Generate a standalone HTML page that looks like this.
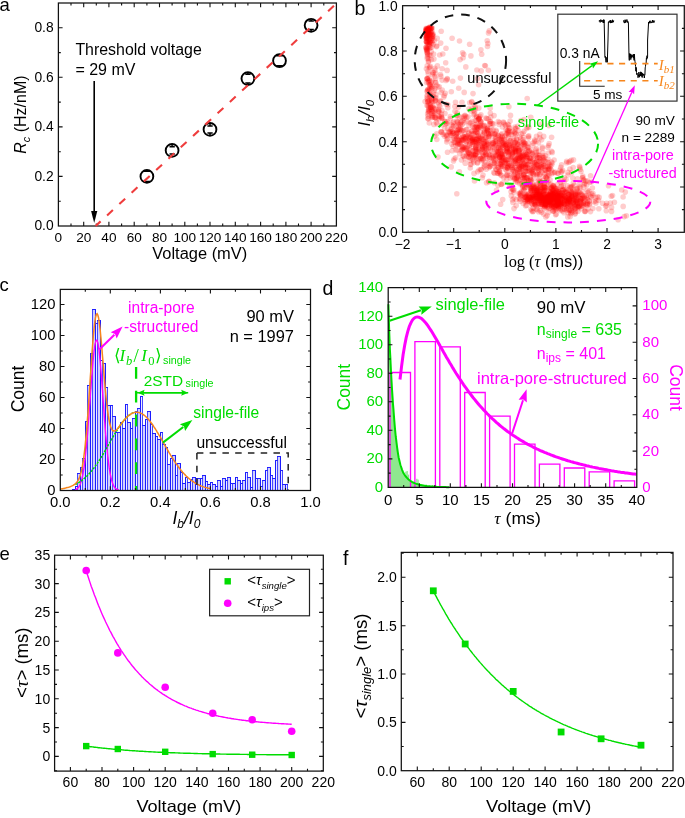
<!DOCTYPE html>
<html><head><meta charset="utf-8"><style>html,body{margin:0;padding:0;background:#fff;}svg{display:block;will-change:transform;}</style></head><body>
<svg width="685" height="818" viewBox="0 0 685 818" font-family="Liberation Sans, sans-serif">
<rect width="685" height="818" fill="#fff"/>
<text x="-0.6" y="11.2" font-size="18.5">a</text>
<rect x="58.4" y="3" width="278" height="223" fill="none" stroke="#111" stroke-width="1.25"/>
<path d="M83.7 226v-4.2M83.7 3v4.2M108.9 226v-4.2M108.9 3v4.2M134.2 226v-4.2M134.2 3v4.2M159.5 226v-4.2M159.5 3v4.2M184.8 226v-4.2M184.8 3v4.2M210 226v-4.2M210 3v4.2M235.3 226v-4.2M235.3 3v4.2M260.6 226v-4.2M260.6 3v4.2M285.9 226v-4.2M285.9 3v4.2M311.1 226v-4.2M311.1 3v4.2" stroke="#111" stroke-width="1.1" fill="none"/>
<path d="M71 226v-2.4M71 3v2.4M96.3 226v-2.4M96.3 3v2.4M121.6 226v-2.4M121.6 3v2.4M146.9 226v-2.4M146.9 3v2.4M172.1 226v-2.4M172.1 3v2.4M197.4 226v-2.4M197.4 3v2.4M222.7 226v-2.4M222.7 3v2.4M247.9 226v-2.4M247.9 3v2.4M273.2 226v-2.4M273.2 3v2.4M298.5 226v-2.4M298.5 3v2.4M323.8 226v-2.4M323.8 3v2.4" stroke="#111" stroke-width="1.1" fill="none"/>
<path d="M58.4 176.4h4.2M336.4 176.4h-4.2M58.4 126.9h4.2M336.4 126.9h-4.2M58.4 77.3h4.2M336.4 77.3h-4.2M58.4 27.8h4.2M336.4 27.8h-4.2" stroke="#111" stroke-width="1.1" fill="none"/>
<path d="M58.4 201.2h2.4M336.4 201.2h-2.4M58.4 151.7h2.4M336.4 151.7h-2.4M58.4 102.1h2.4M336.4 102.1h-2.4M58.4 52.6h2.4M336.4 52.6h-2.4" stroke="#111" stroke-width="1.1" fill="none"/>
<text x="58.4" y="241.8" font-size="13.6" text-anchor="middle">0</text>
<text x="83.7" y="241.8" font-size="13.6" text-anchor="middle">20</text>
<text x="108.9" y="241.8" font-size="13.6" text-anchor="middle">40</text>
<text x="134.2" y="241.8" font-size="13.6" text-anchor="middle">60</text>
<text x="159.5" y="241.8" font-size="13.6" text-anchor="middle">80</text>
<text x="184.8" y="241.8" font-size="13.6" text-anchor="middle">100</text>
<text x="210" y="241.8" font-size="13.6" text-anchor="middle">120</text>
<text x="235.3" y="241.8" font-size="13.6" text-anchor="middle">140</text>
<text x="260.6" y="241.8" font-size="13.6" text-anchor="middle">160</text>
<text x="285.9" y="241.8" font-size="13.6" text-anchor="middle">180</text>
<text x="311.1" y="241.8" font-size="13.6" text-anchor="middle">200</text>
<text x="336.4" y="241.8" font-size="13.6" text-anchor="middle">220</text>
<text x="53.6" y="230.3" font-size="13.8" text-anchor="end">0.0</text>
<text x="53.6" y="180.7" font-size="13.8" text-anchor="end">0.2</text>
<text x="53.6" y="131.2" font-size="13.8" text-anchor="end">0.4</text>
<text x="53.6" y="81.6" font-size="13.8" text-anchor="end">0.6</text>
<text x="53.6" y="32.1" font-size="13.8" text-anchor="end">0.8</text>
<text x="152.3" y="258.9" font-size="16" textLength="94.9" lengthAdjust="spacingAndGlyphs">Voltage (mV)</text>
<text transform="translate(26.3 153.8) rotate(-90)" font-size="16"><tspan font-style="italic">R</tspan><tspan font-size="11" font-style="italic" dy="3.5">c</tspan><tspan dy="-3.5"> (Hz/nM)</tspan></text>
<text x="75.4" y="54.9" font-size="16" textLength="126.4" lengthAdjust="spacingAndGlyphs">Threshold voltage</text>
<text x="75.4" y="74.9" font-size="16">= 29 mV</text>
<line x1="94.2" y1="81" x2="94.2" y2="212" stroke="#000" stroke-width="1.6"/>
<path d="M94.2 223L91.1 211.1H97.3Z" fill="#000"/>
<circle cx="146.9" cy="176.4" r="6.4" fill="none" stroke="#000" stroke-width="1.9"/>
<path d="M143.7 171.1h6.4M143.7 181.7h6.4" stroke="#000" stroke-width="2"/>
<circle cx="172.1" cy="150.4" r="6.4" fill="none" stroke="#000" stroke-width="1.9"/>
<path d="M169.5 146.7h5.3M169.5 154.1h5.3M172.1 146.7V144.6M172.1 154.1V156.2" stroke="#000" stroke-width="1.5"/>
<circle cx="210" cy="129.4" r="6.4" fill="none" stroke="#000" stroke-width="1.9"/>
<path d="M207.4 125.9h5.3M207.4 132.9h5.3M210 125.9V123.6M210 132.9V135.2" stroke="#000" stroke-width="1.5"/>
<circle cx="247.9" cy="78.6" r="6.4" fill="none" stroke="#000" stroke-width="1.9"/>
<path d="M245.3 74.3h5.3M245.3 82.9h5.3M247.9 74.3V72.8M247.9 82.9V84.4" stroke="#000" stroke-width="1.5"/>
<circle cx="279.5" cy="60.7" r="6.4" fill="none" stroke="#000" stroke-width="1.9"/>
<path d="M276.3 55.4h6.4M276.3 66h6.4" stroke="#000" stroke-width="2"/>
<circle cx="311.1" cy="25.3" r="6.4" fill="none" stroke="#000" stroke-width="1.9"/>
<path d="M308.5 21.1h5.3M308.5 29.5h5.3M311.1 21.1V19.5M311.1 29.5V31.1" stroke="#000" stroke-width="1.5"/>
<line x1="95.6" y1="226" x2="336.4" y2="3.5" stroke="#ef3d3d" stroke-width="2.1" stroke-dasharray="7.9 8.82" stroke-dashoffset="1.1"/>
<text x="354.6" y="14.8" font-size="19.5">b</text>
<g fill="#ff0000" fill-opacity="0.2"><circle cx="427.8" cy="29.8" r="2.8"/><circle cx="427" cy="29.5" r="2.8"/><circle cx="426.5" cy="36.7" r="2.8"/><circle cx="427.4" cy="38.6" r="2.8"/><circle cx="426.7" cy="37.8" r="2.8"/><circle cx="426.4" cy="31.3" r="2.8"/><circle cx="429.3" cy="44.2" r="2.8"/><circle cx="427.8" cy="32.4" r="2.8"/><circle cx="433.2" cy="44.5" r="2.8"/><circle cx="427.6" cy="36.3" r="2.8"/><circle cx="425.8" cy="30.3" r="2.8"/><circle cx="428.4" cy="32.5" r="2.8"/><circle cx="427.3" cy="30.4" r="2.8"/><circle cx="433.1" cy="34" r="2.8"/><circle cx="430.8" cy="32.9" r="2.8"/><circle cx="428.8" cy="33.6" r="2.8"/><circle cx="426.1" cy="30.7" r="2.8"/><circle cx="426.7" cy="33.7" r="2.8"/><circle cx="429.8" cy="31.8" r="2.8"/><circle cx="430.9" cy="32.5" r="2.8"/><circle cx="426.7" cy="35.5" r="2.8"/><circle cx="432.1" cy="31.6" r="2.8"/><circle cx="431.3" cy="27.7" r="2.8"/><circle cx="427" cy="47.8" r="2.8"/><circle cx="429.1" cy="28.3" r="2.8"/><circle cx="425.9" cy="32.3" r="2.8"/><circle cx="429.2" cy="42.2" r="2.8"/><circle cx="429.7" cy="34.1" r="2.8"/><circle cx="427.2" cy="41.9" r="2.8"/><circle cx="431.2" cy="28.4" r="2.8"/><circle cx="428.3" cy="33.5" r="2.8"/><circle cx="431.1" cy="31.8" r="2.8"/><circle cx="427.9" cy="37.1" r="2.8"/><circle cx="434.4" cy="40.4" r="2.8"/><circle cx="426.6" cy="42.1" r="2.8"/><circle cx="428.1" cy="41.9" r="2.8"/><circle cx="436.5" cy="46.6" r="2.8"/><circle cx="428.8" cy="30.9" r="2.8"/><circle cx="429.8" cy="38.6" r="2.8"/><circle cx="426.3" cy="38.5" r="2.8"/><circle cx="427.5" cy="29.7" r="2.8"/><circle cx="428.3" cy="43.5" r="2.8"/><circle cx="428" cy="32.5" r="2.8"/><circle cx="431.2" cy="43.2" r="2.8"/><circle cx="427.9" cy="37" r="2.8"/><circle cx="428.3" cy="47.4" r="2.8"/><circle cx="433.5" cy="35.8" r="2.8"/><circle cx="430" cy="29.1" r="2.8"/><circle cx="432.6" cy="40.6" r="2.8"/><circle cx="426.2" cy="32.9" r="2.8"/><circle cx="428.4" cy="30.5" r="2.8"/><circle cx="430.6" cy="28.5" r="2.8"/><circle cx="427.4" cy="34" r="2.8"/><circle cx="425.7" cy="37.8" r="2.8"/><circle cx="429.7" cy="36.2" r="2.8"/><circle cx="427.5" cy="42.2" r="2.8"/><circle cx="426.2" cy="41.3" r="2.8"/><circle cx="426.9" cy="28.7" r="2.8"/><circle cx="430.1" cy="41.6" r="2.8"/><circle cx="431.1" cy="40.1" r="2.8"/><circle cx="428.3" cy="35.3" r="2.8"/><circle cx="429.3" cy="38.7" r="2.8"/><circle cx="426.2" cy="30.7" r="2.8"/><circle cx="428.1" cy="28.8" r="2.8"/><circle cx="426.8" cy="29" r="2.8"/><circle cx="425.6" cy="33.1" r="2.8"/><circle cx="428.1" cy="35" r="2.8"/><circle cx="427" cy="47.7" r="2.8"/><circle cx="427.2" cy="31.6" r="2.8"/><circle cx="429.6" cy="27.4" r="2.8"/><circle cx="427.3" cy="30.7" r="2.8"/><circle cx="436.7" cy="46" r="2.8"/><circle cx="426.7" cy="38.7" r="2.8"/><circle cx="426.6" cy="31.3" r="2.8"/><circle cx="428.4" cy="31.6" r="2.8"/><circle cx="427.9" cy="30.1" r="2.8"/><circle cx="427.1" cy="52" r="2.8"/><circle cx="426" cy="32.9" r="2.8"/><circle cx="425.9" cy="29.5" r="2.8"/><circle cx="427.7" cy="55" r="2.8"/><circle cx="430.7" cy="37.5" r="2.8"/><circle cx="429.7" cy="27.9" r="2.8"/><circle cx="432.1" cy="36" r="2.8"/><circle cx="427.1" cy="44.6" r="2.8"/><circle cx="428.3" cy="30.7" r="2.8"/><circle cx="437.2" cy="38.4" r="2.8"/><circle cx="431.9" cy="38.3" r="2.8"/><circle cx="432.1" cy="34.2" r="2.8"/><circle cx="430.8" cy="29" r="2.8"/><circle cx="426.4" cy="28.7" r="2.8"/><circle cx="426.2" cy="35.4" r="2.8"/><circle cx="432.3" cy="28.1" r="2.8"/><circle cx="426.9" cy="37.9" r="2.8"/><circle cx="430.6" cy="55.2" r="2.8"/><circle cx="426.7" cy="36.6" r="2.8"/><circle cx="428.7" cy="28.6" r="2.8"/><circle cx="428.4" cy="29.5" r="2.8"/><circle cx="432.2" cy="42.8" r="2.8"/><circle cx="429.8" cy="33.5" r="2.8"/><circle cx="432" cy="37.7" r="2.8"/><circle cx="428.8" cy="40.1" r="2.8"/><circle cx="429.7" cy="42.2" r="2.8"/><circle cx="430.5" cy="27.2" r="2.8"/><circle cx="432.5" cy="35" r="2.8"/><circle cx="432.4" cy="36.3" r="2.8"/><circle cx="426.4" cy="37.3" r="2.8"/><circle cx="431.7" cy="47.3" r="2.8"/><circle cx="428.2" cy="28.2" r="2.8"/><circle cx="427.4" cy="31.3" r="2.8"/><circle cx="430" cy="42.5" r="2.8"/><circle cx="432.1" cy="38.8" r="2.8"/><circle cx="426.4" cy="42" r="2.8"/><circle cx="430" cy="34.8" r="2.8"/><circle cx="426.1" cy="28.4" r="2.8"/><circle cx="426.7" cy="41.7" r="2.8"/><circle cx="427.3" cy="50.6" r="2.8"/><circle cx="429.2" cy="46.1" r="2.8"/><circle cx="428.2" cy="30.5" r="2.8"/><circle cx="429.2" cy="27.3" r="2.8"/><circle cx="431.4" cy="28" r="2.8"/><circle cx="429.4" cy="100.2" r="2.8"/><circle cx="427.1" cy="53" r="2.8"/><circle cx="433.4" cy="93.3" r="2.8"/><circle cx="427.5" cy="53.4" r="2.8"/><circle cx="432" cy="88.5" r="2.8"/><circle cx="429.5" cy="80.4" r="2.8"/><circle cx="432" cy="81" r="2.8"/><circle cx="427.8" cy="105.7" r="2.8"/><circle cx="428.5" cy="118.7" r="2.8"/><circle cx="429.6" cy="84.7" r="2.8"/><circle cx="430.4" cy="66.4" r="2.8"/><circle cx="428.1" cy="81.4" r="2.8"/><circle cx="427" cy="78.7" r="2.8"/><circle cx="428.8" cy="78.4" r="2.8"/><circle cx="428.5" cy="101" r="2.8"/><circle cx="435.2" cy="82.2" r="2.8"/><circle cx="427.2" cy="78.3" r="2.8"/><circle cx="437.9" cy="86.9" r="2.8"/><circle cx="432.5" cy="74.6" r="2.8"/><circle cx="426.4" cy="68.8" r="2.8"/><circle cx="432.4" cy="86.2" r="2.8"/><circle cx="426.9" cy="50.7" r="2.8"/><circle cx="434.9" cy="68.3" r="2.8"/><circle cx="435.6" cy="100.2" r="2.8"/><circle cx="435.6" cy="78.4" r="2.8"/><circle cx="430.7" cy="109.1" r="2.8"/><circle cx="429.2" cy="110.2" r="2.8"/><circle cx="427.8" cy="101.6" r="2.8"/><circle cx="431.7" cy="113.7" r="2.8"/><circle cx="433.6" cy="54" r="2.8"/><circle cx="428.8" cy="107.8" r="2.8"/><circle cx="434.6" cy="108.6" r="2.8"/><circle cx="429.3" cy="55" r="2.8"/><circle cx="426.4" cy="49.9" r="2.8"/><circle cx="442.2" cy="90.1" r="2.8"/><circle cx="427.2" cy="58.6" r="2.8"/><circle cx="432.8" cy="107.3" r="2.8"/><circle cx="429.5" cy="94.4" r="2.8"/><circle cx="430.6" cy="104.8" r="2.8"/><circle cx="435" cy="117.6" r="2.8"/><circle cx="427.4" cy="78.8" r="2.8"/><circle cx="427.3" cy="95" r="2.8"/><circle cx="428.2" cy="73.8" r="2.8"/><circle cx="425.8" cy="47.6" r="2.8"/><circle cx="428.4" cy="61.8" r="2.8"/><circle cx="427.5" cy="99.7" r="2.8"/><circle cx="428.2" cy="116.1" r="2.8"/><circle cx="431.3" cy="109.6" r="2.8"/><circle cx="434.8" cy="88.4" r="2.8"/><circle cx="432" cy="100.2" r="2.8"/><circle cx="433.1" cy="108.2" r="2.8"/><circle cx="429.4" cy="68.2" r="2.8"/><circle cx="434.7" cy="112.5" r="2.8"/><circle cx="429.5" cy="88.2" r="2.8"/><circle cx="434.1" cy="113.7" r="2.8"/><circle cx="428.7" cy="60.9" r="2.8"/><circle cx="428.6" cy="112.9" r="2.8"/><circle cx="427.4" cy="56.4" r="2.8"/><circle cx="430.1" cy="86.1" r="2.8"/><circle cx="431.2" cy="51.8" r="2.8"/><circle cx="431.3" cy="99.6" r="2.8"/><circle cx="431.6" cy="101.7" r="2.8"/><circle cx="428.2" cy="111.1" r="2.8"/><circle cx="428.6" cy="104.4" r="2.8"/><circle cx="429.9" cy="96.4" r="2.8"/><circle cx="435.1" cy="98" r="2.8"/><circle cx="428.6" cy="82.7" r="2.8"/><circle cx="431.8" cy="117.7" r="2.8"/><circle cx="435.3" cy="100.8" r="2.8"/><circle cx="427.3" cy="79" r="2.8"/><circle cx="439" cy="105.3" r="2.8"/><circle cx="429.2" cy="111.3" r="2.8"/><circle cx="431.4" cy="59.6" r="2.8"/><circle cx="428.4" cy="58.5" r="2.8"/><circle cx="434.6" cy="90.5" r="2.8"/><circle cx="426" cy="47.8" r="2.8"/><circle cx="430.8" cy="94.1" r="2.8"/><circle cx="433.3" cy="72.9" r="2.8"/><circle cx="427.7" cy="89.7" r="2.8"/><circle cx="428.7" cy="109.6" r="2.8"/><circle cx="427.6" cy="113.9" r="2.8"/><circle cx="431.2" cy="107.2" r="2.8"/><circle cx="433" cy="112.9" r="2.8"/><circle cx="434.9" cy="70.4" r="2.8"/><circle cx="427.2" cy="98.6" r="2.8"/><circle cx="430.9" cy="85.7" r="2.8"/><circle cx="431" cy="107.6" r="2.8"/><circle cx="427" cy="49.3" r="2.8"/><circle cx="429.3" cy="48.5" r="2.8"/><circle cx="426.8" cy="49" r="2.8"/><circle cx="427.1" cy="96.6" r="2.8"/><circle cx="427" cy="91.3" r="2.8"/><circle cx="430" cy="84.6" r="2.8"/><circle cx="426.6" cy="82.4" r="2.8"/><circle cx="427.7" cy="118.6" r="2.8"/><circle cx="429" cy="90" r="2.8"/><circle cx="431.8" cy="116" r="2.8"/><circle cx="427.7" cy="102.1" r="2.8"/><circle cx="434.8" cy="76.5" r="2.8"/><circle cx="427.8" cy="71.3" r="2.8"/><circle cx="429.8" cy="67.1" r="2.8"/><circle cx="430.4" cy="95.4" r="2.8"/><circle cx="430.5" cy="47.6" r="2.8"/><circle cx="432.9" cy="72.4" r="2.8"/><circle cx="433" cy="115.8" r="2.8"/><circle cx="435.6" cy="73.5" r="2.8"/><circle cx="427.2" cy="65.8" r="2.8"/><circle cx="429.1" cy="81" r="2.8"/><circle cx="431.3" cy="82.4" r="2.8"/><circle cx="433.9" cy="59.1" r="2.8"/><circle cx="460.1" cy="59.6" r="2.8"/><circle cx="485.4" cy="65.7" r="2.8"/><circle cx="463.1" cy="57.7" r="2.8"/><circle cx="445.7" cy="62.7" r="2.8"/><circle cx="469.6" cy="44.2" r="2.8"/><circle cx="440.9" cy="76.4" r="2.8"/><circle cx="440.7" cy="43.1" r="2.8"/><circle cx="473" cy="93.6" r="2.8"/><circle cx="488.5" cy="32.9" r="2.8"/><circle cx="470.9" cy="55.9" r="2.8"/><circle cx="444.3" cy="95.4" r="2.8"/><circle cx="464.2" cy="92.4" r="2.8"/><circle cx="446" cy="80.4" r="2.8"/><circle cx="437.4" cy="65.9" r="2.8"/><circle cx="459.5" cy="41" r="2.8"/><circle cx="463.7" cy="54.3" r="2.8"/><circle cx="462.6" cy="52.8" r="2.8"/><circle cx="460.4" cy="78.1" r="2.8"/><circle cx="489.3" cy="30.9" r="2.8"/><circle cx="480.9" cy="49.8" r="2.8"/><circle cx="452.7" cy="81.2" r="2.8"/><circle cx="451.3" cy="91.7" r="2.8"/><circle cx="476.9" cy="70" r="2.8"/><circle cx="481.2" cy="70.9" r="2.8"/><circle cx="487.2" cy="40.7" r="2.8"/><circle cx="435.8" cy="82.6" r="2.8"/><circle cx="484.7" cy="65.5" r="2.8"/><circle cx="488.4" cy="70.2" r="2.8"/><circle cx="439.7" cy="55" r="2.8"/><circle cx="477.6" cy="78.6" r="2.8"/><circle cx="440.5" cy="74.5" r="2.8"/><circle cx="487.5" cy="46.5" r="2.8"/><circle cx="442.1" cy="80.1" r="2.8"/><circle cx="441.2" cy="92.4" r="2.8"/><circle cx="478.6" cy="84.7" r="2.8"/><circle cx="465.8" cy="66.9" r="2.8"/><circle cx="446" cy="48.2" r="2.8"/><circle cx="442.8" cy="54" r="2.8"/><circle cx="442.1" cy="68.7" r="2.8"/><circle cx="447.2" cy="78.6" r="2.8"/><circle cx="487.9" cy="43.5" r="2.8"/><circle cx="452.1" cy="38.2" r="2.8"/><circle cx="447.1" cy="70.4" r="2.8"/><circle cx="481.7" cy="54.2" r="2.8"/><circle cx="441.2" cy="31.3" r="2.8"/><circle cx="447.3" cy="79.4" r="2.8"/><circle cx="449" cy="131.7" r="2.8"/><circle cx="446.8" cy="123.5" r="2.8"/><circle cx="432.5" cy="102" r="2.8"/><circle cx="444.6" cy="136.3" r="2.8"/><circle cx="443.1" cy="134.3" r="2.8"/><circle cx="432.8" cy="117.2" r="2.8"/><circle cx="436.4" cy="122.4" r="2.8"/><circle cx="432" cy="111" r="2.8"/><circle cx="431.8" cy="87.2" r="2.8"/><circle cx="434.7" cy="136.1" r="2.8"/><circle cx="438.6" cy="110.9" r="2.8"/><circle cx="447" cy="139.7" r="2.8"/><circle cx="447.5" cy="121.5" r="2.8"/><circle cx="436.4" cy="118.8" r="2.8"/><circle cx="445.2" cy="121.2" r="2.8"/><circle cx="433.9" cy="124.4" r="2.8"/><circle cx="445" cy="113.5" r="2.8"/><circle cx="439.4" cy="116.6" r="2.8"/><circle cx="454.8" cy="106.5" r="2.8"/><circle cx="456.7" cy="133.6" r="2.8"/><circle cx="453.9" cy="132.8" r="2.8"/><circle cx="439.3" cy="86.8" r="2.8"/><circle cx="433.6" cy="111.3" r="2.8"/><circle cx="444.8" cy="121.5" r="2.8"/><circle cx="441" cy="131.8" r="2.8"/><circle cx="447.9" cy="104.7" r="2.8"/><circle cx="442.2" cy="118.4" r="2.8"/><circle cx="438.7" cy="116.1" r="2.8"/><circle cx="432" cy="98.6" r="2.8"/><circle cx="456.8" cy="131.1" r="2.8"/><circle cx="456.8" cy="115.3" r="2.8"/><circle cx="449.9" cy="131.6" r="2.8"/><circle cx="427.5" cy="91.1" r="2.8"/><circle cx="441.5" cy="114" r="2.8"/><circle cx="438.8" cy="109.4" r="2.8"/><circle cx="447.8" cy="107.8" r="2.8"/><circle cx="436" cy="97.8" r="2.8"/><circle cx="427.9" cy="89.5" r="2.8"/><circle cx="453.2" cy="146.3" r="2.8"/><circle cx="456.5" cy="138.7" r="2.8"/><circle cx="453.6" cy="121.9" r="2.8"/><circle cx="441.2" cy="131.9" r="2.8"/><circle cx="446.2" cy="104.2" r="2.8"/><circle cx="429.9" cy="103.9" r="2.8"/><circle cx="436.8" cy="139.5" r="2.8"/><circle cx="434.8" cy="117.5" r="2.8"/><circle cx="441.6" cy="117.3" r="2.8"/><circle cx="436.7" cy="85.3" r="2.8"/><circle cx="443.8" cy="97.1" r="2.8"/><circle cx="451.5" cy="135.3" r="2.8"/><circle cx="438.3" cy="102.8" r="2.8"/><circle cx="433" cy="96.3" r="2.8"/><circle cx="449" cy="132.6" r="2.8"/><circle cx="435.9" cy="109.4" r="2.8"/><circle cx="438.6" cy="111.4" r="2.8"/><circle cx="439.2" cy="112" r="2.8"/><circle cx="436.7" cy="133.9" r="2.8"/><circle cx="435.3" cy="101.1" r="2.8"/><circle cx="430.3" cy="106.9" r="2.8"/><circle cx="450.8" cy="133.2" r="2.8"/><circle cx="429.3" cy="123" r="2.8"/><circle cx="441.5" cy="118.1" r="2.8"/><circle cx="446.6" cy="123.5" r="2.8"/><circle cx="453.4" cy="133.2" r="2.8"/><circle cx="436" cy="94.6" r="2.8"/><circle cx="452.5" cy="131.5" r="2.8"/><circle cx="446" cy="135.6" r="2.8"/><circle cx="450.3" cy="116.5" r="2.8"/><circle cx="441.2" cy="116.4" r="2.8"/><circle cx="439.9" cy="106.3" r="2.8"/><circle cx="444.7" cy="128.7" r="2.8"/><circle cx="427" cy="105.5" r="2.8"/><circle cx="440.5" cy="101.3" r="2.8"/><circle cx="429.5" cy="90.5" r="2.8"/><circle cx="447.5" cy="152.3" r="2.8"/><circle cx="441.9" cy="110.5" r="2.8"/><circle cx="451.8" cy="144.1" r="2.8"/><circle cx="425.1" cy="101.5" r="2.8"/><circle cx="440.1" cy="101" r="2.8"/><circle cx="452.1" cy="131.8" r="2.8"/><circle cx="433" cy="105.7" r="2.8"/><circle cx="437.2" cy="124" r="2.8"/><circle cx="445.3" cy="93.3" r="2.8"/><circle cx="439.1" cy="118.9" r="2.8"/><circle cx="436" cy="117.4" r="2.8"/><circle cx="484.5" cy="146.4" r="2.8"/><circle cx="507.7" cy="167.9" r="2.8"/><circle cx="532.7" cy="154.4" r="2.8"/><circle cx="539.8" cy="137.9" r="2.8"/><circle cx="494.5" cy="173.3" r="2.8"/><circle cx="500.6" cy="154.7" r="2.8"/><circle cx="543.4" cy="190.8" r="2.8"/><circle cx="478.5" cy="149.4" r="2.8"/><circle cx="474.9" cy="155.3" r="2.8"/><circle cx="514.4" cy="152.7" r="2.8"/><circle cx="501.1" cy="155.6" r="2.8"/><circle cx="464.8" cy="158.4" r="2.8"/><circle cx="501" cy="144.7" r="2.8"/><circle cx="528.6" cy="160.6" r="2.8"/><circle cx="495.3" cy="141.1" r="2.8"/><circle cx="492.4" cy="123.5" r="2.8"/><circle cx="495.1" cy="137" r="2.8"/><circle cx="500.7" cy="149" r="2.8"/><circle cx="477.2" cy="129.1" r="2.8"/><circle cx="541" cy="124.3" r="2.8"/><circle cx="509.3" cy="152.4" r="2.8"/><circle cx="539.1" cy="174.6" r="2.8"/><circle cx="505.8" cy="169.5" r="2.8"/><circle cx="516" cy="128.6" r="2.8"/><circle cx="525.3" cy="170.9" r="2.8"/><circle cx="457.5" cy="121.8" r="2.8"/><circle cx="516.4" cy="155" r="2.8"/><circle cx="476.5" cy="144.7" r="2.8"/><circle cx="506.3" cy="135" r="2.8"/><circle cx="536.5" cy="164.6" r="2.8"/><circle cx="455.6" cy="157.7" r="2.8"/><circle cx="499.9" cy="172.6" r="2.8"/><circle cx="479" cy="138.4" r="2.8"/><circle cx="489.8" cy="135.1" r="2.8"/><circle cx="464.4" cy="122.7" r="2.8"/><circle cx="492.8" cy="147.3" r="2.8"/><circle cx="527.4" cy="178" r="2.8"/><circle cx="507.3" cy="151.7" r="2.8"/><circle cx="548.6" cy="153" r="2.8"/><circle cx="534.5" cy="141.4" r="2.8"/><circle cx="498" cy="151.7" r="2.8"/><circle cx="515.3" cy="128.6" r="2.8"/><circle cx="486.1" cy="141.9" r="2.8"/><circle cx="465.3" cy="116.1" r="2.8"/><circle cx="508.9" cy="106.8" r="2.8"/><circle cx="489.9" cy="121.7" r="2.8"/><circle cx="479.1" cy="141.7" r="2.8"/><circle cx="527.5" cy="156.2" r="2.8"/><circle cx="486" cy="137.8" r="2.8"/><circle cx="522.9" cy="159.6" r="2.8"/><circle cx="467.1" cy="153.6" r="2.8"/><circle cx="505" cy="145.4" r="2.8"/><circle cx="514.8" cy="150.9" r="2.8"/><circle cx="524.1" cy="174.2" r="2.8"/><circle cx="531.1" cy="158.2" r="2.8"/><circle cx="523.6" cy="158.2" r="2.8"/><circle cx="517.5" cy="181.9" r="2.8"/><circle cx="526.7" cy="154.2" r="2.8"/><circle cx="494.1" cy="115.6" r="2.8"/><circle cx="469.9" cy="144.4" r="2.8"/><circle cx="507.4" cy="163" r="2.8"/><circle cx="489.9" cy="158.6" r="2.8"/><circle cx="525.6" cy="165.7" r="2.8"/><circle cx="454.9" cy="139.6" r="2.8"/><circle cx="482.8" cy="147.3" r="2.8"/><circle cx="554.1" cy="160" r="2.8"/><circle cx="497.5" cy="143.1" r="2.8"/><circle cx="483.9" cy="143.7" r="2.8"/><circle cx="462" cy="102.3" r="2.8"/><circle cx="506.9" cy="167.6" r="2.8"/><circle cx="542.3" cy="147.1" r="2.8"/><circle cx="479.1" cy="152.1" r="2.8"/><circle cx="517.4" cy="158.6" r="2.8"/><circle cx="489.1" cy="167.6" r="2.8"/><circle cx="508.7" cy="132.5" r="2.8"/><circle cx="456.2" cy="136.8" r="2.8"/><circle cx="475" cy="154.4" r="2.8"/><circle cx="464.6" cy="147.1" r="2.8"/><circle cx="476.6" cy="139.2" r="2.8"/><circle cx="496.2" cy="156.2" r="2.8"/><circle cx="486.7" cy="132.6" r="2.8"/><circle cx="486.2" cy="169.2" r="2.8"/><circle cx="487.5" cy="130.3" r="2.8"/><circle cx="441.6" cy="132.3" r="2.8"/><circle cx="489.1" cy="181.6" r="2.8"/><circle cx="478.7" cy="117.1" r="2.8"/><circle cx="514.6" cy="178.5" r="2.8"/><circle cx="477.5" cy="132.7" r="2.8"/><circle cx="521.4" cy="156.2" r="2.8"/><circle cx="477" cy="132.5" r="2.8"/><circle cx="478.3" cy="144.6" r="2.8"/><circle cx="480.9" cy="169.5" r="2.8"/><circle cx="488.3" cy="154.4" r="2.8"/><circle cx="458.7" cy="129.3" r="2.8"/><circle cx="527.7" cy="199.2" r="2.8"/><circle cx="524.7" cy="188" r="2.8"/><circle cx="510.9" cy="156" r="2.8"/><circle cx="481.9" cy="125.6" r="2.8"/><circle cx="477" cy="127.1" r="2.8"/><circle cx="469" cy="125.5" r="2.8"/><circle cx="478.8" cy="118.8" r="2.8"/><circle cx="500.3" cy="150.3" r="2.8"/><circle cx="512.5" cy="169.6" r="2.8"/><circle cx="468.9" cy="152.8" r="2.8"/><circle cx="501.8" cy="162.7" r="2.8"/><circle cx="520.2" cy="149.5" r="2.8"/><circle cx="472.5" cy="141.6" r="2.8"/><circle cx="518" cy="144.2" r="2.8"/><circle cx="518.7" cy="148.7" r="2.8"/><circle cx="510.8" cy="165.5" r="2.8"/><circle cx="488.2" cy="118.9" r="2.8"/><circle cx="519.5" cy="158.2" r="2.8"/><circle cx="481.6" cy="148.1" r="2.8"/><circle cx="512.6" cy="154" r="2.8"/><circle cx="474" cy="173.4" r="2.8"/><circle cx="490.3" cy="163.9" r="2.8"/><circle cx="484.2" cy="137.6" r="2.8"/><circle cx="463.8" cy="156.2" r="2.8"/><circle cx="478.5" cy="136.3" r="2.8"/><circle cx="520" cy="179.7" r="2.8"/><circle cx="521.2" cy="169.3" r="2.8"/><circle cx="532" cy="153.8" r="2.8"/><circle cx="549.2" cy="143.6" r="2.8"/><circle cx="498.4" cy="135.9" r="2.8"/><circle cx="509.4" cy="145.9" r="2.8"/><circle cx="457.5" cy="143.3" r="2.8"/><circle cx="518.9" cy="193.9" r="2.8"/><circle cx="542.4" cy="167.1" r="2.8"/><circle cx="477.9" cy="127.7" r="2.8"/><circle cx="517.4" cy="176.5" r="2.8"/><circle cx="539.9" cy="187.2" r="2.8"/><circle cx="457.2" cy="112.7" r="2.8"/><circle cx="531.3" cy="190.8" r="2.8"/><circle cx="475.3" cy="120.3" r="2.8"/><circle cx="527.4" cy="168.1" r="2.8"/><circle cx="459.8" cy="144.3" r="2.8"/><circle cx="538.6" cy="161" r="2.8"/><circle cx="528.3" cy="147.4" r="2.8"/><circle cx="501.8" cy="139.8" r="2.8"/><circle cx="548.7" cy="162.9" r="2.8"/><circle cx="492.8" cy="144.3" r="2.8"/><circle cx="520.8" cy="120.5" r="2.8"/><circle cx="473.3" cy="153.8" r="2.8"/><circle cx="456.3" cy="133.9" r="2.8"/><circle cx="484.3" cy="152.3" r="2.8"/><circle cx="522.2" cy="148.1" r="2.8"/><circle cx="536.8" cy="160.6" r="2.8"/><circle cx="480.6" cy="121" r="2.8"/><circle cx="536.4" cy="152.2" r="2.8"/><circle cx="507.8" cy="124.4" r="2.8"/><circle cx="491.2" cy="151" r="2.8"/><circle cx="494.6" cy="133.7" r="2.8"/><circle cx="524" cy="119.5" r="2.8"/><circle cx="469" cy="133.9" r="2.8"/><circle cx="507.7" cy="132.9" r="2.8"/><circle cx="460.1" cy="129.3" r="2.8"/><circle cx="468.1" cy="116.7" r="2.8"/><circle cx="519" cy="144" r="2.8"/><circle cx="528.7" cy="138" r="2.8"/><circle cx="452.9" cy="123" r="2.8"/><circle cx="469.4" cy="141.3" r="2.8"/><circle cx="500" cy="156.5" r="2.8"/><circle cx="521.5" cy="165.8" r="2.8"/><circle cx="466.8" cy="129.5" r="2.8"/><circle cx="452.3" cy="140.2" r="2.8"/><circle cx="490.8" cy="149.5" r="2.8"/><circle cx="499.8" cy="156.7" r="2.8"/><circle cx="535.3" cy="168" r="2.8"/><circle cx="503.1" cy="157.9" r="2.8"/><circle cx="511.9" cy="154.2" r="2.8"/><circle cx="500.9" cy="138.6" r="2.8"/><circle cx="474" cy="104.5" r="2.8"/><circle cx="521.9" cy="177.2" r="2.8"/><circle cx="464.4" cy="118.2" r="2.8"/><circle cx="484.3" cy="132.2" r="2.8"/><circle cx="498.4" cy="153.3" r="2.8"/><circle cx="529.1" cy="150.8" r="2.8"/><circle cx="500.3" cy="164.3" r="2.8"/><circle cx="494.9" cy="166.7" r="2.8"/><circle cx="505.4" cy="141.6" r="2.8"/><circle cx="511.5" cy="134.8" r="2.8"/><circle cx="534.3" cy="162.6" r="2.8"/><circle cx="512.6" cy="164.9" r="2.8"/><circle cx="484.1" cy="165.9" r="2.8"/><circle cx="471.6" cy="140.1" r="2.8"/><circle cx="549.6" cy="164.7" r="2.8"/><circle cx="517.6" cy="170.7" r="2.8"/><circle cx="492.4" cy="133.4" r="2.8"/><circle cx="520.5" cy="172" r="2.8"/><circle cx="502.2" cy="164.2" r="2.8"/><circle cx="483" cy="175.1" r="2.8"/><circle cx="510.8" cy="160" r="2.8"/><circle cx="514.1" cy="148.5" r="2.8"/><circle cx="499.8" cy="141.2" r="2.8"/><circle cx="465.2" cy="138.9" r="2.8"/><circle cx="520.5" cy="166.9" r="2.8"/><circle cx="476.5" cy="116.3" r="2.8"/><circle cx="516.3" cy="139.4" r="2.8"/><circle cx="519.1" cy="168.9" r="2.8"/><circle cx="457.5" cy="150" r="2.8"/><circle cx="469" cy="156.5" r="2.8"/><circle cx="523.7" cy="154.4" r="2.8"/><circle cx="459.5" cy="140.5" r="2.8"/><circle cx="453" cy="126.2" r="2.8"/><circle cx="491.3" cy="144.7" r="2.8"/><circle cx="547.1" cy="178.3" r="2.8"/><circle cx="494.1" cy="134.8" r="2.8"/><circle cx="496" cy="130.4" r="2.8"/><circle cx="477.7" cy="137.9" r="2.8"/><circle cx="505.8" cy="144.3" r="2.8"/><circle cx="510.5" cy="140.6" r="2.8"/><circle cx="540.8" cy="182" r="2.8"/><circle cx="510.1" cy="121.1" r="2.8"/><circle cx="526.6" cy="128.4" r="2.8"/><circle cx="468.5" cy="154" r="2.8"/><circle cx="526.7" cy="154.5" r="2.8"/><circle cx="501.4" cy="153.5" r="2.8"/><circle cx="475.5" cy="154.6" r="2.8"/><circle cx="476.1" cy="147.4" r="2.8"/><circle cx="516.3" cy="179.9" r="2.8"/><circle cx="492.5" cy="140.3" r="2.8"/><circle cx="470.5" cy="137.1" r="2.8"/><circle cx="502.4" cy="166.1" r="2.8"/><circle cx="483.6" cy="139.6" r="2.8"/><circle cx="456.1" cy="126.4" r="2.8"/><circle cx="472.6" cy="150.8" r="2.8"/><circle cx="465.2" cy="163.3" r="2.8"/><circle cx="525.2" cy="177.2" r="2.8"/><circle cx="539.8" cy="155.5" r="2.8"/><circle cx="493.2" cy="142.7" r="2.8"/><circle cx="519.9" cy="137" r="2.8"/><circle cx="513.8" cy="149.1" r="2.8"/><circle cx="488.4" cy="163.5" r="2.8"/><circle cx="515.6" cy="163" r="2.8"/><circle cx="498.2" cy="167.5" r="2.8"/><circle cx="471.2" cy="134.1" r="2.8"/><circle cx="446.2" cy="134.5" r="2.8"/><circle cx="537.4" cy="157.5" r="2.8"/><circle cx="527.3" cy="158" r="2.8"/><circle cx="523" cy="186.1" r="2.8"/><circle cx="508.7" cy="125.1" r="2.8"/><circle cx="486" cy="154.8" r="2.8"/><circle cx="451.2" cy="166.9" r="2.8"/><circle cx="522.9" cy="144.5" r="2.8"/><circle cx="528.3" cy="136.5" r="2.8"/><circle cx="442" cy="124.8" r="2.8"/><circle cx="507.1" cy="148.2" r="2.8"/><circle cx="533.1" cy="159.3" r="2.8"/><circle cx="510" cy="150.8" r="2.8"/><circle cx="537.2" cy="175.1" r="2.8"/><circle cx="504.1" cy="139.2" r="2.8"/><circle cx="475.8" cy="155.9" r="2.8"/><circle cx="500.6" cy="147.3" r="2.8"/><circle cx="476.1" cy="149.7" r="2.8"/><circle cx="475.9" cy="147.2" r="2.8"/><circle cx="509.8" cy="144.5" r="2.8"/><circle cx="471.7" cy="102.3" r="2.8"/><circle cx="478.7" cy="119.1" r="2.8"/><circle cx="455" cy="111.3" r="2.8"/><circle cx="472.6" cy="159.3" r="2.8"/><circle cx="499.5" cy="157.3" r="2.8"/><circle cx="543" cy="152.9" r="2.8"/><circle cx="482.3" cy="149" r="2.8"/><circle cx="498.3" cy="121.5" r="2.8"/><circle cx="484.7" cy="141.5" r="2.8"/><circle cx="459.4" cy="131.6" r="2.8"/><circle cx="536.5" cy="136.4" r="2.8"/><circle cx="482.6" cy="135.3" r="2.8"/><circle cx="457.9" cy="144.4" r="2.8"/><circle cx="548.6" cy="169" r="2.8"/><circle cx="481.2" cy="145.7" r="2.8"/><circle cx="545.7" cy="199.4" r="2.8"/><circle cx="509" cy="127.4" r="2.8"/><circle cx="519.9" cy="184" r="2.8"/><circle cx="508.9" cy="151.8" r="2.8"/><circle cx="498" cy="135.2" r="2.8"/><circle cx="515.4" cy="149.3" r="2.8"/><circle cx="474.7" cy="114.1" r="2.8"/><circle cx="534.8" cy="162.9" r="2.8"/><circle cx="520.1" cy="146.7" r="2.8"/><circle cx="463" cy="120.6" r="2.8"/><circle cx="508.9" cy="155.8" r="2.8"/><circle cx="476.1" cy="154.2" r="2.8"/><circle cx="528.8" cy="184.8" r="2.8"/><circle cx="503" cy="150.1" r="2.8"/><circle cx="508.6" cy="136.6" r="2.8"/><circle cx="460.1" cy="124.8" r="2.8"/><circle cx="548.6" cy="145.5" r="2.8"/><circle cx="461.9" cy="149.8" r="2.8"/><circle cx="521.3" cy="134.1" r="2.8"/><circle cx="537.1" cy="164.7" r="2.8"/><circle cx="538.1" cy="190.4" r="2.8"/><circle cx="512.2" cy="152.9" r="2.8"/><circle cx="521.5" cy="153.2" r="2.8"/><circle cx="530.8" cy="117.2" r="2.8"/><circle cx="504.9" cy="151.4" r="2.8"/><circle cx="519.5" cy="171.5" r="2.8"/><circle cx="520.9" cy="155.8" r="2.8"/><circle cx="474.4" cy="139.7" r="2.8"/><circle cx="473.5" cy="114.9" r="2.8"/><circle cx="467.7" cy="135.7" r="2.8"/><circle cx="543.5" cy="165.7" r="2.8"/><circle cx="521.1" cy="167.7" r="2.8"/><circle cx="552.8" cy="193.3" r="2.8"/><circle cx="469.8" cy="137" r="2.8"/><circle cx="502.3" cy="160.5" r="2.8"/><circle cx="525.7" cy="165.4" r="2.8"/><circle cx="476.2" cy="129.8" r="2.8"/><circle cx="506.5" cy="147.8" r="2.8"/><circle cx="520.6" cy="157.2" r="2.8"/><circle cx="532.9" cy="163.5" r="2.8"/><circle cx="530.4" cy="158.2" r="2.8"/><circle cx="534.7" cy="140.1" r="2.8"/><circle cx="542.5" cy="148.2" r="2.8"/><circle cx="475.9" cy="146.4" r="2.8"/><circle cx="510.4" cy="145.2" r="2.8"/><circle cx="515" cy="161.3" r="2.8"/><circle cx="486.6" cy="145.9" r="2.8"/><circle cx="458.2" cy="144.5" r="2.8"/><circle cx="482.9" cy="160.1" r="2.8"/><circle cx="453.7" cy="125.8" r="2.8"/><circle cx="483.9" cy="149.8" r="2.8"/><circle cx="471" cy="164.1" r="2.8"/><circle cx="480.5" cy="128" r="2.8"/><circle cx="540.2" cy="169.3" r="2.8"/><circle cx="490.8" cy="117.1" r="2.8"/><circle cx="464.6" cy="149.5" r="2.8"/><circle cx="461.6" cy="121.4" r="2.8"/><circle cx="506.5" cy="175.5" r="2.8"/><circle cx="462.4" cy="149.9" r="2.8"/><circle cx="453.9" cy="138" r="2.8"/><circle cx="502.3" cy="145" r="2.8"/><circle cx="474" cy="157.2" r="2.8"/><circle cx="457.3" cy="142.4" r="2.8"/><circle cx="515.5" cy="159.6" r="2.8"/><circle cx="511.2" cy="171.4" r="2.8"/><circle cx="484.2" cy="132.1" r="2.8"/><circle cx="517.7" cy="126.3" r="2.8"/><circle cx="504.6" cy="124.3" r="2.8"/><circle cx="542.9" cy="157.9" r="2.8"/><circle cx="483.6" cy="126.3" r="2.8"/><circle cx="470.9" cy="123" r="2.8"/><circle cx="507.6" cy="165.8" r="2.8"/><circle cx="515.3" cy="161" r="2.8"/><circle cx="545.4" cy="155.7" r="2.8"/><circle cx="462.2" cy="140" r="2.8"/><circle cx="539.8" cy="134.4" r="2.8"/><circle cx="521.5" cy="161.5" r="2.8"/><circle cx="524.8" cy="143.2" r="2.8"/><circle cx="490.3" cy="121.3" r="2.8"/><circle cx="450.9" cy="135.3" r="2.8"/><circle cx="511.5" cy="132" r="2.8"/><circle cx="461.9" cy="117.2" r="2.8"/><circle cx="539" cy="179.6" r="2.8"/><circle cx="540" cy="181.3" r="2.8"/><circle cx="538.1" cy="166" r="2.8"/><circle cx="461.5" cy="146.2" r="2.8"/><circle cx="495.8" cy="169.2" r="2.8"/><circle cx="494" cy="156.1" r="2.8"/><circle cx="515.8" cy="147.7" r="2.8"/><circle cx="538.5" cy="143" r="2.8"/><circle cx="463.4" cy="136.5" r="2.8"/><circle cx="507.7" cy="149.1" r="2.8"/><circle cx="455.9" cy="145.4" r="2.8"/><circle cx="515" cy="143.1" r="2.8"/><circle cx="468.7" cy="132.7" r="2.8"/><circle cx="539.1" cy="194.6" r="2.8"/><circle cx="506.8" cy="144.9" r="2.8"/><circle cx="529" cy="186" r="2.8"/><circle cx="502.3" cy="137.3" r="2.8"/><circle cx="530.9" cy="173.5" r="2.8"/><circle cx="501.2" cy="157.8" r="2.8"/><circle cx="531.1" cy="187.8" r="2.8"/><circle cx="463" cy="155.7" r="2.8"/><circle cx="469.7" cy="102.8" r="2.8"/><circle cx="533.2" cy="174.8" r="2.8"/><circle cx="504.2" cy="162.4" r="2.8"/><circle cx="486.5" cy="182.7" r="2.8"/><circle cx="461.9" cy="137.7" r="2.8"/><circle cx="522.8" cy="151.9" r="2.8"/><circle cx="523.6" cy="176.1" r="2.8"/><circle cx="492.4" cy="143.1" r="2.8"/><circle cx="499.4" cy="161.9" r="2.8"/><circle cx="503.8" cy="122.8" r="2.8"/><circle cx="469.9" cy="154.4" r="2.8"/><circle cx="498" cy="151.7" r="2.8"/><circle cx="512.7" cy="189.1" r="2.8"/><circle cx="467.1" cy="147" r="2.8"/><circle cx="507.4" cy="148.4" r="2.8"/><circle cx="473.3" cy="133.7" r="2.8"/><circle cx="528.4" cy="143.2" r="2.8"/><circle cx="481.1" cy="158.7" r="2.8"/><circle cx="540.4" cy="189.2" r="2.8"/><circle cx="493.6" cy="124.1" r="2.8"/><circle cx="508" cy="131" r="2.8"/><circle cx="507" cy="151.8" r="2.8"/><circle cx="489.3" cy="136.3" r="2.8"/><circle cx="512.7" cy="131.4" r="2.8"/><circle cx="484.6" cy="130.5" r="2.8"/><circle cx="514.2" cy="144" r="2.8"/><circle cx="511.8" cy="167.3" r="2.8"/><circle cx="533.8" cy="164.8" r="2.8"/><circle cx="519.8" cy="173" r="2.8"/><circle cx="508.5" cy="166" r="2.8"/><circle cx="505.8" cy="145.9" r="2.8"/><circle cx="518.2" cy="165.2" r="2.8"/><circle cx="501.9" cy="157.1" r="2.8"/><circle cx="506.8" cy="163.2" r="2.8"/><circle cx="486.4" cy="129.3" r="2.8"/><circle cx="529.7" cy="161" r="2.8"/><circle cx="515.8" cy="153.1" r="2.8"/><circle cx="485.6" cy="151.6" r="2.8"/><circle cx="524.2" cy="163.7" r="2.8"/><circle cx="536.1" cy="185.9" r="2.8"/><circle cx="501.5" cy="184.5" r="2.8"/><circle cx="538.4" cy="155" r="2.8"/><circle cx="456.8" cy="132.6" r="2.8"/><circle cx="490.1" cy="166.4" r="2.8"/><circle cx="480.4" cy="123.5" r="2.8"/><circle cx="505" cy="161.4" r="2.8"/><circle cx="518.7" cy="151.4" r="2.8"/><circle cx="524.7" cy="145.9" r="2.8"/><circle cx="530.8" cy="179.7" r="2.8"/><circle cx="538.4" cy="167.7" r="2.8"/><circle cx="505.4" cy="159.3" r="2.8"/><circle cx="463.5" cy="130.5" r="2.8"/><circle cx="544.9" cy="170.2" r="2.8"/><circle cx="478.8" cy="108.1" r="2.8"/><circle cx="487.6" cy="128.6" r="2.8"/><circle cx="500.2" cy="136.7" r="2.8"/><circle cx="463.1" cy="148.7" r="2.8"/><circle cx="519.7" cy="167" r="2.8"/><circle cx="470.4" cy="158.1" r="2.8"/><circle cx="515.9" cy="160" r="2.8"/><circle cx="501.9" cy="142.6" r="2.8"/><circle cx="470.2" cy="149.8" r="2.8"/><circle cx="479.4" cy="143.4" r="2.8"/><circle cx="517.8" cy="163.4" r="2.8"/><circle cx="480.5" cy="138" r="2.8"/><circle cx="456.7" cy="115.8" r="2.8"/><circle cx="506.4" cy="159.8" r="2.8"/><circle cx="458.7" cy="124.2" r="2.8"/><circle cx="526.4" cy="160.2" r="2.8"/><circle cx="457.8" cy="132.8" r="2.8"/><circle cx="489.8" cy="166.4" r="2.8"/><circle cx="450.3" cy="118.7" r="2.8"/><circle cx="482.3" cy="177.7" r="2.8"/><circle cx="530.6" cy="161.2" r="2.8"/><circle cx="473.8" cy="155.4" r="2.8"/><circle cx="476.2" cy="157.7" r="2.8"/><circle cx="472.5" cy="144.2" r="2.8"/><circle cx="499.2" cy="149.6" r="2.8"/><circle cx="482.2" cy="156" r="2.8"/><circle cx="522.9" cy="178.3" r="2.8"/><circle cx="498.9" cy="147.3" r="2.8"/><circle cx="447.1" cy="135.7" r="2.8"/><circle cx="531.2" cy="152.8" r="2.8"/><circle cx="523.7" cy="137.4" r="2.8"/><circle cx="469.9" cy="160.5" r="2.8"/><circle cx="495.2" cy="164.3" r="2.8"/><circle cx="504.7" cy="139.9" r="2.8"/><circle cx="517.5" cy="148.3" r="2.8"/><circle cx="513.8" cy="140.3" r="2.8"/><circle cx="501.4" cy="140.5" r="2.8"/><circle cx="475.4" cy="148.6" r="2.8"/><circle cx="488.8" cy="144.8" r="2.8"/><circle cx="461.5" cy="139.2" r="2.8"/><circle cx="488.3" cy="148.9" r="2.8"/><circle cx="473.4" cy="110.4" r="2.8"/><circle cx="484.2" cy="142.6" r="2.8"/><circle cx="468.9" cy="153.1" r="2.8"/><circle cx="479.8" cy="137.9" r="2.8"/><circle cx="498" cy="154.6" r="2.8"/><circle cx="494.3" cy="182.8" r="2.8"/><circle cx="527" cy="150" r="2.8"/><circle cx="545.3" cy="161.6" r="2.8"/><circle cx="466.6" cy="141.7" r="2.8"/><circle cx="527.2" cy="98.5" r="2.8"/><circle cx="502.5" cy="155" r="2.8"/><circle cx="475.5" cy="138.9" r="2.8"/><circle cx="499.4" cy="171.4" r="2.8"/><circle cx="473.3" cy="138.4" r="2.8"/><circle cx="536.6" cy="162.6" r="2.8"/><circle cx="463.4" cy="147.2" r="2.8"/><circle cx="474.9" cy="143.2" r="2.8"/><circle cx="489.5" cy="165.8" r="2.8"/><circle cx="500.8" cy="139.6" r="2.8"/><circle cx="464.4" cy="136.8" r="2.8"/><circle cx="490.2" cy="108.2" r="2.8"/><circle cx="531.3" cy="165.6" r="2.8"/><circle cx="489.5" cy="155" r="2.8"/><circle cx="507.6" cy="151.6" r="2.8"/><circle cx="498.1" cy="167.2" r="2.8"/><circle cx="538.7" cy="151.3" r="2.8"/><circle cx="521.9" cy="159.7" r="2.8"/><circle cx="522.6" cy="181.7" r="2.8"/><circle cx="522.4" cy="157.5" r="2.8"/><circle cx="471.2" cy="137.7" r="2.8"/><circle cx="541.7" cy="170.8" r="2.8"/><circle cx="515.4" cy="150.6" r="2.8"/><circle cx="461.4" cy="159.9" r="2.8"/><circle cx="511.3" cy="157.8" r="2.8"/><circle cx="480.9" cy="114.9" r="2.8"/><circle cx="491.7" cy="158.3" r="2.8"/><circle cx="466.6" cy="117.4" r="2.8"/><circle cx="476.2" cy="135.5" r="2.8"/><circle cx="525.2" cy="182.1" r="2.8"/><circle cx="505.7" cy="125.4" r="2.8"/><circle cx="533.8" cy="169.1" r="2.8"/><circle cx="551.6" cy="137.2" r="2.8"/><circle cx="469.7" cy="122.8" r="2.8"/><circle cx="509.4" cy="130.9" r="2.8"/><circle cx="481.3" cy="158.6" r="2.8"/><circle cx="525.9" cy="171.7" r="2.8"/><circle cx="458" cy="129.5" r="2.8"/><circle cx="519.4" cy="154.7" r="2.8"/><circle cx="519.3" cy="152.7" r="2.8"/><circle cx="527.4" cy="177.6" r="2.8"/><circle cx="511.5" cy="145.5" r="2.8"/><circle cx="527.3" cy="187.3" r="2.8"/><circle cx="466.3" cy="136.3" r="2.8"/><circle cx="482.8" cy="158.9" r="2.8"/><circle cx="458.7" cy="136.5" r="2.8"/><circle cx="476.6" cy="117" r="2.8"/><circle cx="504.3" cy="143.8" r="2.8"/><circle cx="489.8" cy="123.9" r="2.8"/><circle cx="515.8" cy="134.1" r="2.8"/><circle cx="475.3" cy="108.9" r="2.8"/><circle cx="522.6" cy="185.6" r="2.8"/><circle cx="535.9" cy="155.5" r="2.8"/><circle cx="524.7" cy="142.6" r="2.8"/><circle cx="469.9" cy="138.4" r="2.8"/><circle cx="544.7" cy="183.2" r="2.8"/><circle cx="509.6" cy="128.3" r="2.8"/><circle cx="506.2" cy="170.2" r="2.8"/><circle cx="451.6" cy="124.7" r="2.8"/><circle cx="541" cy="164.6" r="2.8"/><circle cx="505.3" cy="163.2" r="2.8"/><circle cx="519.7" cy="166.6" r="2.8"/><circle cx="516.4" cy="169.6" r="2.8"/><circle cx="456" cy="136.5" r="2.8"/><circle cx="454" cy="142.3" r="2.8"/><circle cx="483.3" cy="143.3" r="2.8"/><circle cx="471.9" cy="121.2" r="2.8"/><circle cx="470.4" cy="164.6" r="2.8"/><circle cx="502.1" cy="133.5" r="2.8"/><circle cx="532.5" cy="171.7" r="2.8"/><circle cx="512.2" cy="146.7" r="2.8"/><circle cx="509.3" cy="140.7" r="2.8"/><circle cx="509" cy="154.5" r="2.8"/><circle cx="515.5" cy="142.2" r="2.8"/><circle cx="496.9" cy="145.1" r="2.8"/><circle cx="438" cy="157.1" r="2.8"/><circle cx="501.9" cy="175.8" r="2.8"/><circle cx="467.9" cy="152.6" r="2.8"/><circle cx="526.2" cy="164.1" r="2.8"/><circle cx="492.3" cy="155.1" r="2.8"/><circle cx="488.8" cy="134.2" r="2.8"/><circle cx="518.8" cy="150.1" r="2.8"/><circle cx="498" cy="185.3" r="2.8"/><circle cx="514.2" cy="177.5" r="2.8"/><circle cx="513.9" cy="162.6" r="2.8"/><circle cx="474.3" cy="141.6" r="2.8"/><circle cx="522.8" cy="156.4" r="2.8"/><circle cx="502.4" cy="157.3" r="2.8"/><circle cx="545.3" cy="187.3" r="2.8"/><circle cx="476.7" cy="123.7" r="2.8"/><circle cx="527.7" cy="146.3" r="2.8"/><circle cx="523.6" cy="174.7" r="2.8"/><circle cx="510.9" cy="158.7" r="2.8"/><circle cx="506.7" cy="179.2" r="2.8"/><circle cx="512.4" cy="167.8" r="2.8"/><circle cx="536" cy="141.2" r="2.8"/><circle cx="533" cy="145.3" r="2.8"/><circle cx="487.8" cy="140.9" r="2.8"/><circle cx="462.6" cy="139.7" r="2.8"/><circle cx="507.7" cy="166.8" r="2.8"/><circle cx="489.6" cy="157.4" r="2.8"/><circle cx="514.4" cy="133.6" r="2.8"/><circle cx="527.2" cy="154.2" r="2.8"/><circle cx="478.4" cy="136.1" r="2.8"/><circle cx="485.1" cy="147.9" r="2.8"/><circle cx="496.2" cy="151.7" r="2.8"/><circle cx="475.2" cy="106.4" r="2.8"/><circle cx="473.9" cy="162.6" r="2.8"/><circle cx="516.2" cy="167.9" r="2.8"/><circle cx="537.2" cy="198.5" r="2.8"/><circle cx="523.7" cy="144.4" r="2.8"/><circle cx="509.2" cy="175.2" r="2.8"/><circle cx="485" cy="144.8" r="2.8"/><circle cx="512.6" cy="152.4" r="2.8"/><circle cx="477.3" cy="162.8" r="2.8"/><circle cx="507" cy="167.8" r="2.8"/><circle cx="551.5" cy="151.4" r="2.8"/><circle cx="480.4" cy="158.3" r="2.8"/><circle cx="513.8" cy="138.4" r="2.8"/><circle cx="458.6" cy="140.9" r="2.8"/><circle cx="505" cy="136.1" r="2.8"/><circle cx="529.8" cy="198.9" r="2.8"/><circle cx="526" cy="167.7" r="2.8"/><circle cx="499.8" cy="159.2" r="2.8"/><circle cx="494.6" cy="149.9" r="2.8"/><circle cx="474.6" cy="111.4" r="2.8"/><circle cx="476.3" cy="120.8" r="2.8"/><circle cx="475.6" cy="148.9" r="2.8"/><circle cx="475.3" cy="124.8" r="2.8"/><circle cx="481.6" cy="160.7" r="2.8"/><circle cx="461.5" cy="140.7" r="2.8"/><circle cx="530.8" cy="181.7" r="2.8"/><circle cx="490" cy="123.9" r="2.8"/><circle cx="535.3" cy="162.6" r="2.8"/><circle cx="501.1" cy="167.9" r="2.8"/><circle cx="505.9" cy="129.6" r="2.8"/><circle cx="517.3" cy="172.8" r="2.8"/><circle cx="499" cy="171.2" r="2.8"/><circle cx="548" cy="159" r="2.8"/><circle cx="500.7" cy="164" r="2.8"/><circle cx="514.1" cy="171.6" r="2.8"/><circle cx="533.4" cy="195.2" r="2.8"/><circle cx="453.5" cy="160.9" r="2.8"/><circle cx="497.8" cy="155" r="2.8"/><circle cx="488.4" cy="133.5" r="2.8"/><circle cx="508.8" cy="135" r="2.8"/><circle cx="466.2" cy="141.2" r="2.8"/><circle cx="500.9" cy="166.5" r="2.8"/><circle cx="517.2" cy="144.2" r="2.8"/><circle cx="537.3" cy="186.8" r="2.8"/><circle cx="504.1" cy="144.6" r="2.8"/><circle cx="467.9" cy="140.2" r="2.8"/><circle cx="514.1" cy="174.7" r="2.8"/><circle cx="501.6" cy="166.4" r="2.8"/><circle cx="533.3" cy="173.7" r="2.8"/><circle cx="509.8" cy="149.8" r="2.8"/><circle cx="506.6" cy="149.9" r="2.8"/><circle cx="507.2" cy="150.4" r="2.8"/><circle cx="534.2" cy="187.8" r="2.8"/><circle cx="481.4" cy="138.4" r="2.8"/><circle cx="510.5" cy="141" r="2.8"/><circle cx="499.5" cy="139.6" r="2.8"/><circle cx="518.7" cy="180.5" r="2.8"/><circle cx="526.5" cy="177.9" r="2.8"/><circle cx="524.7" cy="155.2" r="2.8"/><circle cx="487.4" cy="128" r="2.8"/><circle cx="505.9" cy="160" r="2.8"/><circle cx="466.5" cy="156.1" r="2.8"/><circle cx="488.7" cy="135.9" r="2.8"/><circle cx="461.6" cy="131.3" r="2.8"/><circle cx="532.3" cy="186.4" r="2.8"/><circle cx="516" cy="178.6" r="2.8"/><circle cx="516.9" cy="139.2" r="2.8"/><circle cx="515.1" cy="163.3" r="2.8"/><circle cx="484.7" cy="164.7" r="2.8"/><circle cx="461" cy="151" r="2.8"/><circle cx="479.6" cy="126.8" r="2.8"/><circle cx="470.7" cy="110.9" r="2.8"/><circle cx="462.6" cy="148" r="2.8"/><circle cx="496.3" cy="136.5" r="2.8"/><circle cx="494" cy="160.3" r="2.8"/><circle cx="528.9" cy="127.4" r="2.8"/><circle cx="544.7" cy="174.1" r="2.8"/><circle cx="521.6" cy="157.1" r="2.8"/><circle cx="479.3" cy="118.5" r="2.8"/><circle cx="508.8" cy="142.3" r="2.8"/><circle cx="485.7" cy="154.2" r="2.8"/><circle cx="458.8" cy="127" r="2.8"/><circle cx="475.4" cy="151.3" r="2.8"/><circle cx="522.8" cy="160.3" r="2.8"/><circle cx="471.3" cy="156" r="2.8"/><circle cx="484.3" cy="167.3" r="2.8"/><circle cx="525.5" cy="153.1" r="2.8"/><circle cx="495.9" cy="155.6" r="2.8"/><circle cx="502.8" cy="154.2" r="2.8"/><circle cx="458.5" cy="107.1" r="2.8"/><circle cx="502.8" cy="165.6" r="2.8"/><circle cx="493.1" cy="129.9" r="2.8"/><circle cx="552.4" cy="163" r="2.8"/><circle cx="472.7" cy="139.2" r="2.8"/><circle cx="548.3" cy="166.2" r="2.8"/><circle cx="457.4" cy="130.3" r="2.8"/><circle cx="536.8" cy="168.1" r="2.8"/><circle cx="472.3" cy="140.4" r="2.8"/><circle cx="492.7" cy="157.2" r="2.8"/><circle cx="506.5" cy="143.9" r="2.8"/><circle cx="542.9" cy="193" r="2.8"/><circle cx="511.4" cy="166" r="2.8"/><circle cx="508.7" cy="164.2" r="2.8"/><circle cx="480" cy="125.6" r="2.8"/><circle cx="528.5" cy="164.4" r="2.8"/><circle cx="475.8" cy="132.3" r="2.8"/><circle cx="494.8" cy="161.4" r="2.8"/><circle cx="523.5" cy="142.6" r="2.8"/><circle cx="524.9" cy="148.7" r="2.8"/><circle cx="548.6" cy="174.3" r="2.8"/><circle cx="544.5" cy="157.6" r="2.8"/><circle cx="495.5" cy="138.9" r="2.8"/><circle cx="502.5" cy="147.4" r="2.8"/><circle cx="541.6" cy="139.7" r="2.8"/><circle cx="524.6" cy="176.9" r="2.8"/><circle cx="506.8" cy="133.5" r="2.8"/><circle cx="478.9" cy="159.5" r="2.8"/><circle cx="477.9" cy="158" r="2.8"/><circle cx="526.1" cy="184.9" r="2.8"/><circle cx="531.3" cy="188.6" r="2.8"/><circle cx="523.3" cy="142.1" r="2.8"/><circle cx="511.9" cy="160" r="2.8"/><circle cx="475.7" cy="127" r="2.8"/><circle cx="518.8" cy="160.6" r="2.8"/><circle cx="522.9" cy="133.2" r="2.8"/><circle cx="486.6" cy="118.5" r="2.8"/><circle cx="514.3" cy="179.2" r="2.8"/><circle cx="535.9" cy="150" r="2.8"/><circle cx="462.2" cy="146.8" r="2.8"/><circle cx="541.8" cy="165.3" r="2.8"/><circle cx="450.6" cy="129.8" r="2.8"/><circle cx="510.5" cy="115.4" r="2.8"/><circle cx="473.8" cy="160.8" r="2.8"/><circle cx="507.2" cy="174.4" r="2.8"/><circle cx="517.5" cy="175.2" r="2.8"/><circle cx="491.1" cy="127.9" r="2.8"/><circle cx="478.9" cy="140.6" r="2.8"/><circle cx="479.2" cy="118.8" r="2.8"/><circle cx="487.7" cy="143.8" r="2.8"/><circle cx="540.3" cy="160.1" r="2.8"/><circle cx="504.3" cy="154.6" r="2.8"/><circle cx="519.6" cy="141.9" r="2.8"/><circle cx="474.5" cy="181" r="2.8"/><circle cx="528.6" cy="180.7" r="2.8"/><circle cx="547.8" cy="147.2" r="2.8"/><circle cx="464.9" cy="134.3" r="2.8"/><circle cx="499.1" cy="173.4" r="2.8"/><circle cx="465.8" cy="148" r="2.8"/><circle cx="514.7" cy="167.6" r="2.8"/><circle cx="479.1" cy="170" r="2.8"/><circle cx="464.1" cy="138.1" r="2.8"/><circle cx="496.9" cy="150.1" r="2.8"/><circle cx="539.7" cy="157.9" r="2.8"/><circle cx="473" cy="151" r="2.8"/><circle cx="484.5" cy="125.8" r="2.8"/><circle cx="488.9" cy="147.4" r="2.8"/><circle cx="485.6" cy="137.7" r="2.8"/><circle cx="482.2" cy="149.1" r="2.8"/><circle cx="543.2" cy="176.5" r="2.8"/><circle cx="547.6" cy="190.7" r="2.8"/><circle cx="538.8" cy="170.2" r="2.8"/><circle cx="523.5" cy="163.4" r="2.8"/><circle cx="537.9" cy="173" r="2.8"/><circle cx="528.8" cy="135.9" r="2.8"/><circle cx="516.2" cy="133.5" r="2.8"/><circle cx="532.7" cy="173.1" r="2.8"/><circle cx="510.1" cy="178.1" r="2.8"/><circle cx="503.2" cy="144.9" r="2.8"/><circle cx="503.3" cy="122.1" r="2.8"/><circle cx="524.1" cy="163.9" r="2.8"/><circle cx="527.7" cy="147.7" r="2.8"/><circle cx="503.8" cy="177.8" r="2.8"/><circle cx="490.6" cy="154.8" r="2.8"/><circle cx="487" cy="144.4" r="2.8"/><circle cx="543.7" cy="136.4" r="2.8"/><circle cx="528" cy="151.8" r="2.8"/><circle cx="526.7" cy="184.2" r="2.8"/><circle cx="474.4" cy="133.3" r="2.8"/><circle cx="526.4" cy="156.4" r="2.8"/><circle cx="499.4" cy="145" r="2.8"/><circle cx="491.1" cy="133.6" r="2.8"/><circle cx="528.5" cy="193.2" r="2.8"/><circle cx="482" cy="145.7" r="2.8"/><circle cx="467.3" cy="148.6" r="2.8"/><circle cx="482.5" cy="139.4" r="2.8"/><circle cx="480.4" cy="126.9" r="2.8"/><circle cx="495" cy="145.5" r="2.8"/><circle cx="476" cy="131.5" r="2.8"/><circle cx="465.4" cy="144" r="2.8"/><circle cx="493.8" cy="172.4" r="2.8"/><circle cx="471.7" cy="155" r="2.8"/><circle cx="479.9" cy="116.4" r="2.8"/><circle cx="472.5" cy="126.1" r="2.8"/><circle cx="468.7" cy="157.2" r="2.8"/><circle cx="474.4" cy="139.1" r="2.8"/><circle cx="500.8" cy="175" r="2.8"/><circle cx="474.1" cy="127.4" r="2.8"/><circle cx="495.7" cy="155.1" r="2.8"/><circle cx="477.6" cy="162.8" r="2.8"/><circle cx="471.7" cy="101.5" r="2.8"/><circle cx="512.6" cy="157.3" r="2.8"/><circle cx="462.1" cy="124.5" r="2.8"/><circle cx="479.2" cy="140.5" r="2.8"/><circle cx="495.4" cy="159" r="2.8"/><circle cx="522.6" cy="171.1" r="2.8"/><circle cx="446.8" cy="142" r="2.8"/><circle cx="473.5" cy="154.5" r="2.8"/><circle cx="518.2" cy="130.6" r="2.8"/><circle cx="468.5" cy="137.8" r="2.8"/><circle cx="514.9" cy="158.2" r="2.8"/><circle cx="524" cy="131.3" r="2.8"/><circle cx="455.9" cy="150.1" r="2.8"/><circle cx="517.2" cy="158" r="2.8"/><circle cx="547.2" cy="175.9" r="2.8"/><circle cx="471.8" cy="130.9" r="2.8"/><circle cx="541.4" cy="162.1" r="2.8"/><circle cx="469" cy="108.8" r="2.8"/><circle cx="536.7" cy="165" r="2.8"/><circle cx="476.9" cy="143" r="2.8"/><circle cx="524.9" cy="156" r="2.8"/><circle cx="478.2" cy="152.3" r="2.8"/><circle cx="517.6" cy="144.1" r="2.8"/><circle cx="454.2" cy="159" r="2.8"/><circle cx="494" cy="158.9" r="2.8"/><circle cx="471.8" cy="131.5" r="2.8"/><circle cx="459.6" cy="153.7" r="2.8"/><circle cx="486.9" cy="158.2" r="2.8"/><circle cx="533.9" cy="158.1" r="2.8"/><circle cx="499.1" cy="124.5" r="2.8"/><circle cx="515.5" cy="149.3" r="2.8"/><circle cx="466.6" cy="121.1" r="2.8"/><circle cx="460.8" cy="129.8" r="2.8"/><circle cx="514.8" cy="174.2" r="2.8"/><circle cx="532.9" cy="169.2" r="2.8"/><circle cx="480.3" cy="150.8" r="2.8"/><circle cx="474.8" cy="127.3" r="2.8"/><circle cx="531.3" cy="150.3" r="2.8"/><circle cx="524.9" cy="143.7" r="2.8"/><circle cx="463.4" cy="140" r="2.8"/><circle cx="525.5" cy="164.5" r="2.8"/><circle cx="488.5" cy="133.5" r="2.8"/><circle cx="506" cy="160.5" r="2.8"/><circle cx="531.8" cy="171" r="2.8"/><circle cx="514.8" cy="142.6" r="2.8"/><circle cx="549.7" cy="168.2" r="2.8"/><circle cx="460.7" cy="126.2" r="2.8"/><circle cx="497.8" cy="172.9" r="2.8"/><circle cx="466.3" cy="149" r="2.8"/><circle cx="484.3" cy="125.2" r="2.8"/><circle cx="507" cy="130.7" r="2.8"/><circle cx="518.3" cy="157.2" r="2.8"/><circle cx="529" cy="161.6" r="2.8"/><circle cx="533.9" cy="167" r="2.8"/><circle cx="471.9" cy="108.8" r="2.8"/><circle cx="475.6" cy="141.7" r="2.8"/><circle cx="518.7" cy="160.4" r="2.8"/><circle cx="484" cy="133.7" r="2.8"/><circle cx="547" cy="183.6" r="2.8"/><circle cx="487.4" cy="130.9" r="2.8"/><circle cx="457.8" cy="122.4" r="2.8"/><circle cx="461" cy="140.7" r="2.8"/><circle cx="496.2" cy="131.5" r="2.8"/><circle cx="538.5" cy="180.7" r="2.8"/><circle cx="501" cy="184.2" r="2.8"/><circle cx="496.5" cy="169.5" r="2.8"/><circle cx="461.9" cy="130.5" r="2.8"/><circle cx="519.2" cy="165" r="2.8"/><circle cx="501.2" cy="153.8" r="2.8"/><circle cx="459.4" cy="171.7" r="2.8"/><circle cx="509.5" cy="163.4" r="2.8"/><circle cx="478" cy="142.8" r="2.8"/><circle cx="497.3" cy="163.5" r="2.8"/><circle cx="474.8" cy="141.4" r="2.8"/><circle cx="523.7" cy="189.7" r="2.8"/><circle cx="485.6" cy="128.3" r="2.8"/><circle cx="447.7" cy="128.4" r="2.8"/><circle cx="493.1" cy="143.4" r="2.8"/><circle cx="502.6" cy="183.1" r="2.8"/><circle cx="542.9" cy="157.5" r="2.8"/><circle cx="478.2" cy="119.2" r="2.8"/><circle cx="514.6" cy="152.1" r="2.8"/><circle cx="531" cy="180.5" r="2.8"/><circle cx="538.6" cy="211.8" r="2.8"/><circle cx="486.3" cy="156.3" r="2.8"/><circle cx="498.6" cy="148.2" r="2.8"/><circle cx="522.9" cy="139.6" r="2.8"/><circle cx="495.4" cy="134" r="2.8"/><circle cx="502.5" cy="127" r="2.8"/><circle cx="490.4" cy="113.3" r="2.8"/><circle cx="507.6" cy="159.7" r="2.8"/><circle cx="466" cy="129.7" r="2.8"/><circle cx="525.2" cy="158.2" r="2.8"/><circle cx="532.8" cy="153" r="2.8"/><circle cx="546.8" cy="179.4" r="2.8"/><circle cx="465.7" cy="137.4" r="2.8"/><circle cx="474.8" cy="130.8" r="2.8"/><circle cx="480.4" cy="132.4" r="2.8"/><circle cx="507.4" cy="168.1" r="2.8"/><circle cx="516.8" cy="177.7" r="2.8"/><circle cx="480.9" cy="140.3" r="2.8"/><circle cx="460.3" cy="142.8" r="2.8"/><circle cx="456.8" cy="193.8" r="2.8"/><circle cx="499.5" cy="157.5" r="2.8"/><circle cx="519.6" cy="158.6" r="2.8"/><circle cx="504.1" cy="159.6" r="2.8"/><circle cx="476.8" cy="127" r="2.8"/><circle cx="526.3" cy="171.2" r="2.8"/><circle cx="463.9" cy="116.3" r="2.8"/><circle cx="512.4" cy="152" r="2.8"/><circle cx="542.1" cy="188.3" r="2.8"/><circle cx="539.2" cy="161.5" r="2.8"/><circle cx="481.2" cy="169.8" r="2.8"/><circle cx="455.5" cy="102.3" r="2.8"/><circle cx="537.1" cy="154.8" r="2.8"/><circle cx="490.3" cy="130.5" r="2.8"/><circle cx="496.5" cy="140.7" r="2.8"/><circle cx="459.1" cy="143" r="2.8"/><circle cx="476.6" cy="149.2" r="2.8"/><circle cx="520.4" cy="162.1" r="2.8"/><circle cx="455" cy="142.2" r="2.8"/><circle cx="501.6" cy="160.1" r="2.8"/><circle cx="505.4" cy="146" r="2.8"/><circle cx="494.1" cy="162.9" r="2.8"/><circle cx="447.5" cy="138.6" r="2.8"/><circle cx="516.1" cy="151" r="2.8"/><circle cx="445.1" cy="124.3" r="2.8"/><circle cx="527.6" cy="126.9" r="2.8"/><circle cx="478.7" cy="127.6" r="2.8"/><circle cx="512.2" cy="176.9" r="2.8"/><circle cx="482.8" cy="147" r="2.8"/><circle cx="467.6" cy="150.8" r="2.8"/><circle cx="533.2" cy="143.1" r="2.8"/><circle cx="485.3" cy="161.9" r="2.8"/><circle cx="542.9" cy="155.9" r="2.8"/><circle cx="480.7" cy="122" r="2.8"/><circle cx="532.2" cy="167.8" r="2.8"/><circle cx="511.3" cy="147.1" r="2.8"/><circle cx="488.9" cy="181.4" r="2.8"/><circle cx="483.2" cy="155.1" r="2.8"/><circle cx="516.2" cy="205.6" r="2.8"/><circle cx="476.9" cy="139.4" r="2.8"/><circle cx="460.8" cy="122.4" r="2.8"/><circle cx="457.1" cy="137.7" r="2.8"/><circle cx="548.6" cy="169.7" r="2.8"/><circle cx="473.5" cy="142.2" r="2.8"/><circle cx="464.9" cy="115.2" r="2.8"/><circle cx="488.1" cy="142.9" r="2.8"/><circle cx="483.7" cy="156.1" r="2.8"/><circle cx="486" cy="148.9" r="2.8"/><circle cx="470.3" cy="168" r="2.8"/><circle cx="462.8" cy="136" r="2.8"/><circle cx="529.5" cy="157.7" r="2.8"/><circle cx="540" cy="174.5" r="2.8"/><circle cx="470" cy="143" r="2.8"/><circle cx="472.6" cy="138.8" r="2.8"/><circle cx="477.6" cy="171.8" r="2.8"/><circle cx="544.6" cy="165.9" r="2.8"/><circle cx="552.6" cy="172.4" r="2.8"/><circle cx="500.3" cy="160.5" r="2.8"/><circle cx="552.3" cy="152.4" r="2.8"/><circle cx="515.7" cy="151.8" r="2.8"/><circle cx="510" cy="147.6" r="2.8"/><circle cx="491" cy="123.2" r="2.8"/><circle cx="545.4" cy="169.8" r="2.8"/><circle cx="520.3" cy="164.2" r="2.8"/><circle cx="473" cy="142.1" r="2.8"/><circle cx="457.9" cy="139.7" r="2.8"/><circle cx="526.9" cy="156.8" r="2.8"/><circle cx="508.1" cy="130.6" r="2.8"/><circle cx="471.6" cy="146.6" r="2.8"/><circle cx="494" cy="146.8" r="2.8"/><circle cx="486.5" cy="148.9" r="2.8"/><circle cx="484.1" cy="143.7" r="2.8"/><circle cx="485.8" cy="118.1" r="2.8"/><circle cx="530.4" cy="179.1" r="2.8"/><circle cx="456.7" cy="121.2" r="2.8"/><circle cx="517.6" cy="178" r="2.8"/><circle cx="469.2" cy="145.5" r="2.8"/><circle cx="502.9" cy="152" r="2.8"/><circle cx="466.3" cy="138.2" r="2.8"/><circle cx="452.5" cy="133.5" r="2.8"/><circle cx="499.5" cy="122.5" r="2.8"/><circle cx="494.1" cy="163.3" r="2.8"/><circle cx="515.3" cy="172.6" r="2.8"/><circle cx="502.2" cy="136.3" r="2.8"/><circle cx="513.1" cy="145.6" r="2.8"/><circle cx="548.9" cy="125.6" r="2.8"/><circle cx="497.5" cy="173.2" r="2.8"/><circle cx="503" cy="142.6" r="2.8"/><circle cx="541.4" cy="166.8" r="2.8"/><circle cx="551.5" cy="187.5" r="2.8"/><circle cx="452.2" cy="150.8" r="2.8"/><circle cx="512" cy="169.9" r="2.8"/><circle cx="499.6" cy="152.3" r="2.8"/><circle cx="482.5" cy="153.1" r="2.8"/><circle cx="514.9" cy="127.1" r="2.8"/><circle cx="520.8" cy="139.1" r="2.8"/><circle cx="515.6" cy="148.3" r="2.8"/><circle cx="514.8" cy="132.5" r="2.8"/><circle cx="459.2" cy="117" r="2.8"/><circle cx="516.9" cy="160.3" r="2.8"/><circle cx="481.2" cy="121.7" r="2.8"/><circle cx="501.7" cy="161.9" r="2.8"/><circle cx="451.7" cy="128.8" r="2.8"/><circle cx="529" cy="151.2" r="2.8"/><circle cx="502.7" cy="156.2" r="2.8"/><circle cx="477.3" cy="151.7" r="2.8"/><circle cx="458.7" cy="88.2" r="2.8"/><circle cx="486" cy="153.6" r="2.8"/><circle cx="496.1" cy="141.6" r="2.8"/><circle cx="508.2" cy="156.1" r="2.8"/><circle cx="526.2" cy="177.7" r="2.8"/><circle cx="496.7" cy="151" r="2.8"/><circle cx="488.6" cy="137" r="2.8"/><circle cx="501.3" cy="134.8" r="2.8"/><circle cx="487.8" cy="130" r="2.8"/><circle cx="495.6" cy="144.1" r="2.8"/><circle cx="559.8" cy="195.7" r="2.8"/><circle cx="563.4" cy="190.3" r="2.8"/><circle cx="533.4" cy="184.3" r="2.8"/><circle cx="554.6" cy="193.6" r="2.8"/><circle cx="557.2" cy="195.4" r="2.8"/><circle cx="544.2" cy="205.9" r="2.8"/><circle cx="553.1" cy="186.1" r="2.8"/><circle cx="545.3" cy="204.2" r="2.8"/><circle cx="534.1" cy="203.1" r="2.8"/><circle cx="546.5" cy="196.8" r="2.8"/><circle cx="526.5" cy="183.8" r="2.8"/><circle cx="536.5" cy="190.1" r="2.8"/><circle cx="578.1" cy="194.5" r="2.8"/><circle cx="564.1" cy="204.4" r="2.8"/><circle cx="539.3" cy="191.4" r="2.8"/><circle cx="553.2" cy="193.9" r="2.8"/><circle cx="571.1" cy="192.6" r="2.8"/><circle cx="511.2" cy="195.8" r="2.8"/><circle cx="586.7" cy="204.7" r="2.8"/><circle cx="583.6" cy="205.6" r="2.8"/><circle cx="562.1" cy="198.8" r="2.8"/><circle cx="587.3" cy="203.6" r="2.8"/><circle cx="535.8" cy="203.3" r="2.8"/><circle cx="537" cy="194.3" r="2.8"/><circle cx="566.3" cy="192.9" r="2.8"/><circle cx="552" cy="195" r="2.8"/><circle cx="568.5" cy="206.3" r="2.8"/><circle cx="563.4" cy="203.4" r="2.8"/><circle cx="541.3" cy="200" r="2.8"/><circle cx="559" cy="203.1" r="2.8"/><circle cx="540.5" cy="204.3" r="2.8"/><circle cx="550.2" cy="195.8" r="2.8"/><circle cx="532.9" cy="196" r="2.8"/><circle cx="558.1" cy="203.1" r="2.8"/><circle cx="559" cy="193.7" r="2.8"/><circle cx="557.3" cy="203.6" r="2.8"/><circle cx="550.5" cy="199.6" r="2.8"/><circle cx="576.4" cy="195.3" r="2.8"/><circle cx="545.1" cy="197.7" r="2.8"/><circle cx="513.9" cy="192.3" r="2.8"/><circle cx="536.7" cy="191.6" r="2.8"/><circle cx="535.8" cy="193.1" r="2.8"/><circle cx="587" cy="197.7" r="2.8"/><circle cx="539.7" cy="200.3" r="2.8"/><circle cx="551" cy="194.1" r="2.8"/><circle cx="582.9" cy="206.4" r="2.8"/><circle cx="536.8" cy="190.7" r="2.8"/><circle cx="542.7" cy="199.1" r="2.8"/><circle cx="580.2" cy="198.6" r="2.8"/><circle cx="564.7" cy="192.1" r="2.8"/><circle cx="556.9" cy="198.7" r="2.8"/><circle cx="566" cy="191.2" r="2.8"/><circle cx="514" cy="208.6" r="2.8"/><circle cx="542.4" cy="204.5" r="2.8"/><circle cx="595.7" cy="200.9" r="2.8"/><circle cx="520.1" cy="194.6" r="2.8"/><circle cx="584.3" cy="197.9" r="2.8"/><circle cx="541.7" cy="196.8" r="2.8"/><circle cx="547.8" cy="196.6" r="2.8"/><circle cx="543" cy="199.9" r="2.8"/><circle cx="550.2" cy="202.3" r="2.8"/><circle cx="544.7" cy="206.5" r="2.8"/><circle cx="543.5" cy="213.9" r="2.8"/><circle cx="546.2" cy="188" r="2.8"/><circle cx="524.8" cy="187.3" r="2.8"/><circle cx="566.4" cy="210" r="2.8"/><circle cx="542.7" cy="200.7" r="2.8"/><circle cx="590.5" cy="211.6" r="2.8"/><circle cx="567.9" cy="201.7" r="2.8"/><circle cx="564.4" cy="208.7" r="2.8"/><circle cx="569.6" cy="210.3" r="2.8"/><circle cx="537.1" cy="195.2" r="2.8"/><circle cx="560.3" cy="208.7" r="2.8"/><circle cx="520.1" cy="199" r="2.8"/><circle cx="556.1" cy="198.6" r="2.8"/><circle cx="545.9" cy="197.2" r="2.8"/><circle cx="557.3" cy="201.3" r="2.8"/><circle cx="562.2" cy="202.6" r="2.8"/><circle cx="572.1" cy="191.7" r="2.8"/><circle cx="545.7" cy="204.1" r="2.8"/><circle cx="535.7" cy="201.9" r="2.8"/><circle cx="572.4" cy="202.8" r="2.8"/><circle cx="535.1" cy="198.8" r="2.8"/><circle cx="531.4" cy="191.1" r="2.8"/><circle cx="573.1" cy="193.6" r="2.8"/><circle cx="579.1" cy="205.8" r="2.8"/><circle cx="538.2" cy="198.9" r="2.8"/><circle cx="559.4" cy="197.4" r="2.8"/><circle cx="519.7" cy="199" r="2.8"/><circle cx="560.5" cy="202.4" r="2.8"/><circle cx="553.2" cy="210.9" r="2.8"/><circle cx="520.3" cy="193.9" r="2.8"/><circle cx="559.3" cy="193.4" r="2.8"/><circle cx="526.3" cy="197.1" r="2.8"/><circle cx="539.8" cy="195.5" r="2.8"/><circle cx="564.6" cy="204.6" r="2.8"/><circle cx="542.8" cy="195.3" r="2.8"/><circle cx="527.1" cy="195.1" r="2.8"/><circle cx="537.3" cy="189.5" r="2.8"/><circle cx="550.7" cy="198.3" r="2.8"/><circle cx="566.9" cy="201" r="2.8"/><circle cx="512.5" cy="199.8" r="2.8"/><circle cx="555" cy="196.3" r="2.8"/><circle cx="556" cy="195" r="2.8"/><circle cx="565.4" cy="206.2" r="2.8"/><circle cx="566.3" cy="198.3" r="2.8"/><circle cx="542.9" cy="197.9" r="2.8"/><circle cx="540.7" cy="183.6" r="2.8"/><circle cx="541.8" cy="195.8" r="2.8"/><circle cx="546.6" cy="199.9" r="2.8"/><circle cx="529.2" cy="197.6" r="2.8"/><circle cx="571.4" cy="195.6" r="2.8"/><circle cx="543.2" cy="187.2" r="2.8"/><circle cx="525.7" cy="206" r="2.8"/><circle cx="545" cy="200.5" r="2.8"/><circle cx="563.7" cy="189.7" r="2.8"/><circle cx="555.6" cy="201" r="2.8"/><circle cx="541.4" cy="194.7" r="2.8"/><circle cx="519.8" cy="192.8" r="2.8"/><circle cx="527.4" cy="200.4" r="2.8"/><circle cx="554.6" cy="204.1" r="2.8"/><circle cx="541.3" cy="201.9" r="2.8"/><circle cx="532.9" cy="195.4" r="2.8"/><circle cx="548.2" cy="201.7" r="2.8"/><circle cx="558.6" cy="202.4" r="2.8"/><circle cx="540.7" cy="185.2" r="2.8"/><circle cx="569.4" cy="200.6" r="2.8"/><circle cx="557.8" cy="199.5" r="2.8"/><circle cx="564.2" cy="200.8" r="2.8"/><circle cx="581.2" cy="198.5" r="2.8"/><circle cx="568.2" cy="190.2" r="2.8"/><circle cx="562" cy="199.2" r="2.8"/><circle cx="548.9" cy="195.9" r="2.8"/><circle cx="538.1" cy="196.1" r="2.8"/><circle cx="551.9" cy="206.3" r="2.8"/><circle cx="585.1" cy="204.2" r="2.8"/><circle cx="571.2" cy="186.8" r="2.8"/><circle cx="570.5" cy="205.4" r="2.8"/><circle cx="543.2" cy="198.3" r="2.8"/><circle cx="548.2" cy="193.8" r="2.8"/><circle cx="561.1" cy="190.4" r="2.8"/><circle cx="540.4" cy="187" r="2.8"/><circle cx="525" cy="201.7" r="2.8"/><circle cx="581.2" cy="194.1" r="2.8"/><circle cx="529.5" cy="196.9" r="2.8"/><circle cx="555.2" cy="188.2" r="2.8"/><circle cx="530.9" cy="190.5" r="2.8"/><circle cx="545.3" cy="199.7" r="2.8"/><circle cx="544.5" cy="187" r="2.8"/><circle cx="577.1" cy="199.7" r="2.8"/><circle cx="527.7" cy="199.3" r="2.8"/><circle cx="544.2" cy="190.9" r="2.8"/><circle cx="525.6" cy="194.4" r="2.8"/><circle cx="571.4" cy="196.5" r="2.8"/><circle cx="552" cy="189.4" r="2.8"/><circle cx="552.7" cy="193.9" r="2.8"/><circle cx="557.5" cy="184.6" r="2.8"/><circle cx="530.6" cy="185.9" r="2.8"/><circle cx="552.1" cy="203.8" r="2.8"/><circle cx="551.2" cy="198.6" r="2.8"/><circle cx="575.1" cy="204.4" r="2.8"/><circle cx="568.9" cy="194.6" r="2.8"/><circle cx="528.2" cy="196" r="2.8"/><circle cx="544.3" cy="183.3" r="2.8"/><circle cx="548.6" cy="200" r="2.8"/><circle cx="568" cy="212.7" r="2.8"/><circle cx="544.4" cy="187.6" r="2.8"/><circle cx="575.6" cy="211.3" r="2.8"/><circle cx="582.4" cy="195.6" r="2.8"/><circle cx="553.7" cy="186.3" r="2.8"/><circle cx="546" cy="204.9" r="2.8"/><circle cx="578.2" cy="207.8" r="2.8"/><circle cx="595.9" cy="202.9" r="2.8"/><circle cx="528.7" cy="201.3" r="2.8"/><circle cx="545.2" cy="203.8" r="2.8"/><circle cx="533.3" cy="196.7" r="2.8"/><circle cx="556.1" cy="193.6" r="2.8"/><circle cx="571.6" cy="211.1" r="2.8"/><circle cx="545" cy="207.6" r="2.8"/><circle cx="531.4" cy="197.1" r="2.8"/><circle cx="552.3" cy="199.2" r="2.8"/><circle cx="511.5" cy="188.6" r="2.8"/><circle cx="558.5" cy="191.7" r="2.8"/><circle cx="564.8" cy="197.1" r="2.8"/><circle cx="555.3" cy="200.3" r="2.8"/><circle cx="562.5" cy="210.9" r="2.8"/><circle cx="562.1" cy="203.2" r="2.8"/><circle cx="568.1" cy="202.6" r="2.8"/><circle cx="514" cy="189.9" r="2.8"/><circle cx="528.8" cy="199.2" r="2.8"/><circle cx="554.6" cy="198.2" r="2.8"/><circle cx="552.6" cy="195.3" r="2.8"/><circle cx="559.1" cy="203.7" r="2.8"/><circle cx="577.8" cy="203.4" r="2.8"/><circle cx="562.8" cy="189.4" r="2.8"/><circle cx="544.8" cy="190.2" r="2.8"/><circle cx="581.7" cy="195.1" r="2.8"/><circle cx="558.5" cy="207.7" r="2.8"/><circle cx="547.7" cy="203.8" r="2.8"/><circle cx="563.7" cy="195.1" r="2.8"/><circle cx="552" cy="207.1" r="2.8"/><circle cx="561.6" cy="195.5" r="2.8"/><circle cx="550.5" cy="198.1" r="2.8"/><circle cx="571.1" cy="198" r="2.8"/><circle cx="576.9" cy="190" r="2.8"/><circle cx="572.7" cy="192.1" r="2.8"/><circle cx="557.4" cy="204.6" r="2.8"/><circle cx="502.7" cy="199.6" r="2.8"/><circle cx="541" cy="202" r="2.8"/><circle cx="566.3" cy="200.5" r="2.8"/><circle cx="567.3" cy="201.4" r="2.8"/><circle cx="540.4" cy="194.6" r="2.8"/><circle cx="533.2" cy="208.2" r="2.8"/><circle cx="549.4" cy="202.2" r="2.8"/><circle cx="580.3" cy="201.6" r="2.8"/><circle cx="520.5" cy="196.1" r="2.8"/><circle cx="571.1" cy="194.4" r="2.8"/><circle cx="559.9" cy="210.6" r="2.8"/><circle cx="550.5" cy="200.4" r="2.8"/><circle cx="540.1" cy="196.6" r="2.8"/><circle cx="540.1" cy="201.7" r="2.8"/><circle cx="533.2" cy="194.4" r="2.8"/><circle cx="523.2" cy="203.4" r="2.8"/><circle cx="550.6" cy="193" r="2.8"/><circle cx="556.6" cy="195.8" r="2.8"/><circle cx="575.5" cy="212.9" r="2.8"/><circle cx="564.6" cy="195" r="2.8"/><circle cx="581.1" cy="208.7" r="2.8"/><circle cx="605.6" cy="206.1" r="2.8"/><circle cx="551.3" cy="196" r="2.8"/><circle cx="553.4" cy="190.5" r="2.8"/><circle cx="566.2" cy="199.2" r="2.8"/><circle cx="528.2" cy="194.6" r="2.8"/><circle cx="558.2" cy="196.1" r="2.8"/><circle cx="549.8" cy="195.6" r="2.8"/><circle cx="559" cy="196.8" r="2.8"/><circle cx="564" cy="212.8" r="2.8"/><circle cx="582.7" cy="197.9" r="2.8"/><circle cx="566.9" cy="207.9" r="2.8"/><circle cx="543.7" cy="185.7" r="2.8"/><circle cx="557.9" cy="197.9" r="2.8"/><circle cx="564.8" cy="200.9" r="2.8"/><circle cx="577.7" cy="206.5" r="2.8"/><circle cx="560.5" cy="198.3" r="2.8"/><circle cx="547.6" cy="201.1" r="2.8"/><circle cx="540.7" cy="206.2" r="2.8"/><circle cx="555.6" cy="191.1" r="2.8"/><circle cx="561.4" cy="185.9" r="2.8"/><circle cx="535.7" cy="204.6" r="2.8"/><circle cx="549" cy="199.8" r="2.8"/><circle cx="575.5" cy="208.3" r="2.8"/><circle cx="530.9" cy="197.4" r="2.8"/><circle cx="525.1" cy="195.5" r="2.8"/><circle cx="540" cy="198.5" r="2.8"/><circle cx="541.7" cy="198" r="2.8"/><circle cx="573.8" cy="200.1" r="2.8"/><circle cx="571.8" cy="208.1" r="2.8"/><circle cx="558.4" cy="191.2" r="2.8"/><circle cx="534.1" cy="201.3" r="2.8"/><circle cx="533.9" cy="194.8" r="2.8"/><circle cx="540.2" cy="210.4" r="2.8"/><circle cx="524" cy="197.1" r="2.8"/><circle cx="549.7" cy="201.3" r="2.8"/><circle cx="552.5" cy="192.6" r="2.8"/><circle cx="541.4" cy="191.2" r="2.8"/><circle cx="537" cy="174.2" r="2.8"/><circle cx="551.7" cy="204.9" r="2.8"/><circle cx="541.5" cy="212.2" r="2.8"/><circle cx="566.1" cy="191.6" r="2.8"/><circle cx="569.2" cy="201.6" r="2.8"/><circle cx="575.2" cy="209" r="2.8"/><circle cx="549.3" cy="194.7" r="2.8"/><circle cx="559.4" cy="205.7" r="2.8"/><circle cx="542.3" cy="191.4" r="2.8"/><circle cx="548.5" cy="212.4" r="2.8"/><circle cx="578.2" cy="206.5" r="2.8"/><circle cx="560.6" cy="193.4" r="2.8"/><circle cx="564.6" cy="199.3" r="2.8"/><circle cx="547.7" cy="194.5" r="2.8"/><circle cx="544.5" cy="197.2" r="2.8"/><circle cx="543.4" cy="203.4" r="2.8"/><circle cx="553.8" cy="188.2" r="2.8"/><circle cx="551.6" cy="197.1" r="2.8"/><circle cx="568.2" cy="209.5" r="2.8"/><circle cx="563.5" cy="203.4" r="2.8"/><circle cx="551.1" cy="187.9" r="2.8"/><circle cx="580" cy="186.8" r="2.8"/><circle cx="541.2" cy="204.5" r="2.8"/><circle cx="566.4" cy="197.9" r="2.8"/><circle cx="511.4" cy="186" r="2.8"/><circle cx="567.2" cy="192.6" r="2.8"/><circle cx="593" cy="193.5" r="2.8"/><circle cx="552.8" cy="210.9" r="2.8"/><circle cx="553.3" cy="202.8" r="2.8"/><circle cx="553.6" cy="196.6" r="2.8"/><circle cx="546.8" cy="198.8" r="2.8"/><circle cx="557.3" cy="195" r="2.8"/><circle cx="579.4" cy="206.6" r="2.8"/><circle cx="543.4" cy="180" r="2.8"/><circle cx="558.3" cy="195.8" r="2.8"/><circle cx="530.9" cy="188.2" r="2.8"/><circle cx="577.6" cy="193.7" r="2.8"/><circle cx="524.3" cy="199.3" r="2.8"/><circle cx="550.8" cy="196.6" r="2.8"/><circle cx="575.3" cy="194.1" r="2.8"/><circle cx="524.7" cy="196.5" r="2.8"/><circle cx="557.7" cy="193.7" r="2.8"/><circle cx="561.2" cy="186.4" r="2.8"/><circle cx="550.5" cy="202.1" r="2.8"/><circle cx="552.6" cy="200.4" r="2.8"/><circle cx="540.6" cy="196.3" r="2.8"/><circle cx="555.8" cy="209.5" r="2.8"/><circle cx="548.8" cy="202.3" r="2.8"/><circle cx="576.6" cy="198" r="2.8"/><circle cx="552.6" cy="199.3" r="2.8"/><circle cx="572.3" cy="212.5" r="2.8"/><circle cx="540.2" cy="191.1" r="2.8"/><circle cx="530.9" cy="209.1" r="2.8"/><circle cx="541.4" cy="204.1" r="2.8"/><circle cx="555.7" cy="206.6" r="2.8"/><circle cx="574.1" cy="198.6" r="2.8"/><circle cx="540.3" cy="194.2" r="2.8"/><circle cx="544" cy="194.7" r="2.8"/><circle cx="542.7" cy="187.2" r="2.8"/><circle cx="567.3" cy="204.7" r="2.8"/><circle cx="558.3" cy="201.9" r="2.8"/><circle cx="525.6" cy="197.2" r="2.8"/><circle cx="556.6" cy="205.4" r="2.8"/><circle cx="574.5" cy="185.4" r="2.8"/><circle cx="534.4" cy="203.1" r="2.8"/><circle cx="548.7" cy="195.4" r="2.8"/><circle cx="537.8" cy="200.1" r="2.8"/><circle cx="572.5" cy="206.6" r="2.8"/><circle cx="554.1" cy="207.4" r="2.8"/><circle cx="553.5" cy="202.2" r="2.8"/><circle cx="575.6" cy="200.7" r="2.8"/><circle cx="544.4" cy="200.3" r="2.8"/><circle cx="575.5" cy="194.7" r="2.8"/><circle cx="549.6" cy="208.2" r="2.8"/><circle cx="552.8" cy="190.6" r="2.8"/><circle cx="556.1" cy="208.4" r="2.8"/><circle cx="559.5" cy="200.7" r="2.8"/><circle cx="553.8" cy="199.7" r="2.8"/><circle cx="538.6" cy="203.2" r="2.8"/><circle cx="569" cy="196.7" r="2.8"/><circle cx="536.6" cy="208.9" r="2.8"/><circle cx="571.2" cy="196.3" r="2.8"/><circle cx="555.7" cy="202" r="2.8"/><circle cx="584.5" cy="211.3" r="2.8"/><circle cx="547" cy="194.1" r="2.8"/><circle cx="560.6" cy="195.4" r="2.8"/><circle cx="530.3" cy="191.3" r="2.8"/><circle cx="573.2" cy="203.7" r="2.8"/><circle cx="570.4" cy="202.1" r="2.8"/><circle cx="553.2" cy="198.6" r="2.8"/><circle cx="550.2" cy="197.5" r="2.8"/><circle cx="574" cy="191.2" r="2.8"/><circle cx="564.1" cy="195.7" r="2.8"/><circle cx="533" cy="198.1" r="2.8"/><circle cx="561.4" cy="198.6" r="2.8"/><circle cx="545.7" cy="204.1" r="2.8"/><circle cx="569.4" cy="195.7" r="2.8"/><circle cx="507.3" cy="175.3" r="2.8"/><circle cx="563.5" cy="198.2" r="2.8"/><circle cx="572.4" cy="196.3" r="2.8"/><circle cx="581.7" cy="203.9" r="2.8"/><circle cx="569.4" cy="194.5" r="2.8"/><circle cx="524.2" cy="181.4" r="2.8"/><circle cx="547.2" cy="206.9" r="2.8"/><circle cx="552.6" cy="191.2" r="2.8"/><circle cx="537.1" cy="198.2" r="2.8"/><circle cx="546.6" cy="199.1" r="2.8"/><circle cx="509.7" cy="185.1" r="2.8"/><circle cx="537.2" cy="192.3" r="2.8"/><circle cx="554" cy="211" r="2.8"/><circle cx="551.9" cy="205" r="2.8"/><circle cx="550.7" cy="202.7" r="2.8"/><circle cx="551.1" cy="199.2" r="2.8"/><circle cx="557" cy="194.9" r="2.8"/><circle cx="536.8" cy="188.2" r="2.8"/><circle cx="587.5" cy="199.8" r="2.8"/><circle cx="588" cy="192.5" r="2.8"/><circle cx="575.4" cy="203.5" r="2.8"/><circle cx="574.9" cy="214.1" r="2.8"/><circle cx="521.9" cy="191.4" r="2.8"/><circle cx="582" cy="198.5" r="2.8"/><circle cx="535.9" cy="206.4" r="2.8"/><circle cx="557.5" cy="196.6" r="2.8"/><circle cx="530.6" cy="197.9" r="2.8"/><circle cx="549.3" cy="202.1" r="2.8"/><circle cx="512.9" cy="202.4" r="2.8"/><circle cx="552.7" cy="185.9" r="2.8"/><circle cx="577.8" cy="203.2" r="2.8"/><circle cx="537" cy="194.5" r="2.8"/><circle cx="544.8" cy="197.1" r="2.8"/><circle cx="565.5" cy="197.1" r="2.8"/><circle cx="570" cy="187.1" r="2.8"/><circle cx="531" cy="186" r="2.8"/><circle cx="520.1" cy="201.2" r="2.8"/><circle cx="574.5" cy="206.9" r="2.8"/><circle cx="541.4" cy="195.9" r="2.8"/><circle cx="539.9" cy="199.7" r="2.8"/><circle cx="555.7" cy="200.5" r="2.8"/><circle cx="543.3" cy="202.3" r="2.8"/><circle cx="534.9" cy="192.8" r="2.8"/><circle cx="606.5" cy="205.6" r="2.8"/><circle cx="526.9" cy="182.8" r="2.8"/><circle cx="573.2" cy="202.6" r="2.8"/><circle cx="543" cy="199.4" r="2.8"/><circle cx="558.1" cy="206.6" r="2.8"/><circle cx="556.2" cy="214.1" r="2.8"/><circle cx="534.8" cy="204.2" r="2.8"/><circle cx="544.8" cy="198.9" r="2.8"/><circle cx="547.5" cy="197.4" r="2.8"/><circle cx="573.3" cy="183" r="2.8"/><circle cx="546.7" cy="195.4" r="2.8"/><circle cx="547.9" cy="197.1" r="2.8"/><circle cx="543.8" cy="200.7" r="2.8"/><circle cx="558.2" cy="189.5" r="2.8"/><circle cx="555.8" cy="199.3" r="2.8"/><circle cx="548.5" cy="206.9" r="2.8"/><circle cx="535.8" cy="196.4" r="2.8"/><circle cx="569" cy="199.5" r="2.8"/><circle cx="538.3" cy="198.1" r="2.8"/><circle cx="568.7" cy="200.1" r="2.8"/><circle cx="570.7" cy="210.3" r="2.8"/><circle cx="558.8" cy="206.6" r="2.8"/><circle cx="520.9" cy="195.6" r="2.8"/><circle cx="562.2" cy="196.1" r="2.8"/><circle cx="572.9" cy="199.6" r="2.8"/><circle cx="513" cy="190.1" r="2.8"/><circle cx="569" cy="202.8" r="2.8"/><circle cx="545.4" cy="197.8" r="2.8"/><circle cx="553.7" cy="206.8" r="2.8"/><circle cx="570.4" cy="187.9" r="2.8"/><circle cx="564" cy="198.3" r="2.8"/><circle cx="496.5" cy="190.2" r="2.8"/><circle cx="561.9" cy="195.2" r="2.8"/><circle cx="557.2" cy="204.8" r="2.8"/><circle cx="556.3" cy="199.4" r="2.8"/><circle cx="554.4" cy="192.8" r="2.8"/><circle cx="557.9" cy="201.5" r="2.8"/><circle cx="537.2" cy="209.7" r="2.8"/><circle cx="583.5" cy="203.2" r="2.8"/><circle cx="571.7" cy="197.7" r="2.8"/><circle cx="555.1" cy="195.3" r="2.8"/><circle cx="554.5" cy="187.6" r="2.8"/><circle cx="545.4" cy="199.5" r="2.8"/><circle cx="552" cy="196" r="2.8"/><circle cx="578.6" cy="205.9" r="2.8"/><circle cx="511" cy="191.8" r="2.8"/><circle cx="564.7" cy="200.2" r="2.8"/><circle cx="553" cy="194.1" r="2.8"/><circle cx="537.6" cy="203.7" r="2.8"/><circle cx="524.5" cy="197.3" r="2.8"/><circle cx="538.9" cy="198.4" r="2.8"/><circle cx="533.2" cy="211.2" r="2.8"/><circle cx="571.9" cy="197.8" r="2.8"/><circle cx="571.2" cy="191.5" r="2.8"/><circle cx="524.1" cy="190.5" r="2.8"/><circle cx="532.7" cy="211.8" r="2.8"/><circle cx="533.4" cy="201.2" r="2.8"/><circle cx="583.4" cy="203.2" r="2.8"/><circle cx="549.2" cy="195.5" r="2.8"/><circle cx="558.7" cy="200.2" r="2.8"/><circle cx="588.1" cy="209" r="2.8"/><circle cx="531.7" cy="210.7" r="2.8"/><circle cx="531.5" cy="203.6" r="2.8"/><circle cx="543.5" cy="200.4" r="2.8"/><circle cx="577.8" cy="195.4" r="2.8"/><circle cx="545" cy="196.7" r="2.8"/><circle cx="541" cy="199.4" r="2.8"/><circle cx="550.7" cy="184.4" r="2.8"/><circle cx="532.7" cy="204.3" r="2.8"/><circle cx="560.7" cy="205.8" r="2.8"/><circle cx="536.2" cy="194.8" r="2.8"/><circle cx="535" cy="187.7" r="2.8"/><circle cx="564" cy="203.3" r="2.8"/><circle cx="550.5" cy="202.9" r="2.8"/><circle cx="579" cy="200.3" r="2.8"/><circle cx="555.8" cy="204.8" r="2.8"/><circle cx="580.2" cy="201.3" r="2.8"/><circle cx="541" cy="187.1" r="2.8"/><circle cx="558.5" cy="202.1" r="2.8"/><circle cx="568.7" cy="203.7" r="2.8"/><circle cx="550.8" cy="191.8" r="2.8"/><circle cx="533" cy="198.2" r="2.8"/><circle cx="551.7" cy="196.1" r="2.8"/><circle cx="535.1" cy="204.8" r="2.8"/><circle cx="547.6" cy="204.5" r="2.8"/><circle cx="555.3" cy="199.7" r="2.8"/><circle cx="555.6" cy="197.8" r="2.8"/><circle cx="534" cy="199.6" r="2.8"/><circle cx="556.2" cy="190.6" r="2.8"/><circle cx="557.9" cy="198.9" r="2.8"/><circle cx="587.5" cy="204.9" r="2.8"/><circle cx="575.7" cy="196.3" r="2.8"/><circle cx="532.4" cy="197.1" r="2.8"/><circle cx="566.4" cy="207.9" r="2.8"/><circle cx="577.1" cy="204.4" r="2.8"/><circle cx="560.6" cy="200.9" r="2.8"/><circle cx="559.8" cy="204.5" r="2.8"/><circle cx="579.6" cy="206.6" r="2.8"/><circle cx="581" cy="203.4" r="2.8"/><circle cx="537.4" cy="191.9" r="2.8"/><circle cx="554.5" cy="200.9" r="2.8"/><circle cx="532.2" cy="198.8" r="2.8"/><circle cx="550.3" cy="204.4" r="2.8"/><circle cx="531.7" cy="203.5" r="2.8"/><circle cx="534.6" cy="189.9" r="2.8"/><circle cx="566.6" cy="203.4" r="2.8"/><circle cx="534.2" cy="198.1" r="2.8"/><circle cx="560.4" cy="203.7" r="2.8"/><circle cx="549.6" cy="191.6" r="2.8"/><circle cx="547.7" cy="201.3" r="2.8"/><circle cx="573.1" cy="201.4" r="2.8"/><circle cx="551.2" cy="205.3" r="2.8"/><circle cx="569.7" cy="198.8" r="2.8"/><circle cx="546.7" cy="199.2" r="2.8"/><circle cx="575.6" cy="201.6" r="2.8"/><circle cx="549.4" cy="197.8" r="2.8"/><circle cx="553.7" cy="192.4" r="2.8"/><circle cx="547.2" cy="201.4" r="2.8"/><circle cx="540" cy="196.8" r="2.8"/><circle cx="529.7" cy="200.5" r="2.8"/><circle cx="525.4" cy="197.3" r="2.8"/><circle cx="548.3" cy="200.1" r="2.8"/><circle cx="542.6" cy="204.1" r="2.8"/><circle cx="555.6" cy="214.7" r="2.8"/><circle cx="533.8" cy="186.2" r="2.8"/><circle cx="556.4" cy="189" r="2.8"/><circle cx="584.8" cy="200.9" r="2.8"/><circle cx="535.8" cy="194.5" r="2.8"/><circle cx="537.1" cy="197" r="2.8"/><circle cx="556.6" cy="188.5" r="2.8"/><circle cx="549.4" cy="199.8" r="2.8"/><circle cx="548.3" cy="182.5" r="2.8"/><circle cx="550.5" cy="192.7" r="2.8"/><circle cx="539" cy="200.4" r="2.8"/><circle cx="598.8" cy="208.8" r="2.8"/><circle cx="561.6" cy="195.8" r="2.8"/><circle cx="562.1" cy="192.8" r="2.8"/><circle cx="548" cy="188.1" r="2.8"/><circle cx="558.2" cy="200.7" r="2.8"/><circle cx="561.5" cy="198.7" r="2.8"/><circle cx="550" cy="194.9" r="2.8"/><circle cx="538.8" cy="194.6" r="2.8"/><circle cx="547.1" cy="215.6" r="2.8"/><circle cx="570.8" cy="201.1" r="2.8"/><circle cx="547.8" cy="200.9" r="2.8"/><circle cx="526.5" cy="205.2" r="2.8"/><circle cx="560.3" cy="201.6" r="2.8"/><circle cx="571.6" cy="187.5" r="2.8"/><circle cx="544.1" cy="208.6" r="2.8"/><circle cx="574.7" cy="196.6" r="2.8"/><circle cx="580.6" cy="199.4" r="2.8"/><circle cx="557.5" cy="204.7" r="2.8"/><circle cx="580.7" cy="200.8" r="2.8"/><circle cx="576.8" cy="200.7" r="2.8"/><circle cx="543.3" cy="193.1" r="2.8"/><circle cx="570.2" cy="216.6" r="2.8"/><circle cx="545.5" cy="194.2" r="2.8"/><circle cx="571.2" cy="200.3" r="2.8"/><circle cx="539.7" cy="195.3" r="2.8"/><circle cx="545.8" cy="217" r="2.8"/><circle cx="520.8" cy="193.1" r="2.8"/><circle cx="539" cy="193.1" r="2.8"/><circle cx="567.8" cy="216.9" r="2.8"/><circle cx="554.2" cy="209.2" r="2.8"/><circle cx="571" cy="213.6" r="2.8"/><circle cx="573.2" cy="202.7" r="2.8"/><circle cx="551.8" cy="197.9" r="2.8"/><circle cx="537.8" cy="198.2" r="2.8"/><circle cx="606.6" cy="203.2" r="2.8"/><circle cx="539.5" cy="182.6" r="2.8"/><circle cx="569.2" cy="199.3" r="2.8"/><circle cx="558.6" cy="208.9" r="2.8"/><circle cx="544.3" cy="204.7" r="2.8"/><circle cx="580.1" cy="193.9" r="2.8"/><circle cx="554.7" cy="206.4" r="2.8"/><circle cx="525.2" cy="200.7" r="2.8"/><circle cx="534.2" cy="196.6" r="2.8"/><circle cx="525.9" cy="195" r="2.8"/><circle cx="552" cy="204.5" r="2.8"/><circle cx="556" cy="205.3" r="2.8"/><circle cx="545.8" cy="203.7" r="2.8"/><circle cx="585.6" cy="210.9" r="2.8"/><circle cx="556.2" cy="205.4" r="2.8"/><circle cx="542.7" cy="191.8" r="2.8"/><circle cx="549.8" cy="199.3" r="2.8"/><circle cx="516.2" cy="199.6" r="2.8"/><circle cx="586" cy="195.8" r="2.8"/><circle cx="500.6" cy="204.2" r="2.8"/><circle cx="548.8" cy="208.8" r="2.8"/><circle cx="553.7" cy="205.7" r="2.8"/><circle cx="577.8" cy="191.7" r="2.8"/><circle cx="572.7" cy="207.8" r="2.8"/><circle cx="557.4" cy="191.1" r="2.8"/><circle cx="537.4" cy="197.7" r="2.8"/><circle cx="534.7" cy="196.4" r="2.8"/><circle cx="576.8" cy="201.8" r="2.8"/><circle cx="589.8" cy="204" r="2.8"/><circle cx="566.1" cy="189.2" r="2.8"/><circle cx="536.7" cy="190.8" r="2.8"/><circle cx="527.8" cy="200.6" r="2.8"/><circle cx="545.4" cy="188.1" r="2.8"/><circle cx="533.2" cy="188.1" r="2.8"/><circle cx="529.2" cy="196" r="2.8"/><circle cx="567" cy="199.9" r="2.8"/><circle cx="589.2" cy="201.3" r="2.8"/><circle cx="529.3" cy="197.9" r="2.8"/><circle cx="570.5" cy="212.6" r="2.8"/><circle cx="515.8" cy="182" r="2.8"/><circle cx="532.4" cy="189.7" r="2.8"/><circle cx="561.2" cy="204.9" r="2.8"/><circle cx="539.2" cy="194.2" r="2.8"/><circle cx="543.8" cy="191.8" r="2.8"/><circle cx="556.8" cy="200.8" r="2.8"/><circle cx="583.1" cy="202" r="2.8"/><circle cx="530.8" cy="200.1" r="2.8"/><circle cx="544.6" cy="186.8" r="2.8"/><circle cx="565" cy="204.3" r="2.8"/><circle cx="541.5" cy="197.5" r="2.8"/><circle cx="553.2" cy="185.2" r="2.8"/><circle cx="541.8" cy="203.3" r="2.8"/><circle cx="546.5" cy="201.3" r="2.8"/><circle cx="569.2" cy="199.8" r="2.8"/><circle cx="543.8" cy="199.7" r="2.8"/><circle cx="538.9" cy="198.8" r="2.8"/><circle cx="551.2" cy="187.2" r="2.8"/><circle cx="535.5" cy="188.4" r="2.8"/><circle cx="553.3" cy="205.1" r="2.8"/><circle cx="585.1" cy="198.8" r="2.8"/><circle cx="532.3" cy="199.5" r="2.8"/><circle cx="545" cy="205.7" r="2.8"/><circle cx="555.2" cy="199.2" r="2.8"/><circle cx="576.2" cy="202.4" r="2.8"/><circle cx="522.6" cy="187.7" r="2.8"/><circle cx="571.3" cy="205.7" r="2.8"/><circle cx="576.9" cy="200" r="2.8"/><circle cx="534.6" cy="192.2" r="2.8"/><circle cx="557.7" cy="202.1" r="2.8"/><circle cx="561.5" cy="204.1" r="2.8"/><circle cx="553.3" cy="196.7" r="2.8"/><circle cx="563.8" cy="196.1" r="2.8"/><circle cx="514" cy="198" r="2.8"/><circle cx="559.9" cy="194.2" r="2.8"/><circle cx="536.5" cy="190.1" r="2.8"/><circle cx="538.1" cy="189.1" r="2.8"/><circle cx="556.3" cy="197.2" r="2.8"/><circle cx="529.6" cy="201.7" r="2.8"/><circle cx="556.9" cy="197.3" r="2.8"/><circle cx="550.3" cy="200.5" r="2.8"/><circle cx="576.4" cy="205.3" r="2.8"/><circle cx="562.6" cy="193.5" r="2.8"/><circle cx="560.1" cy="198.1" r="2.8"/><circle cx="532.7" cy="185.5" r="2.8"/><circle cx="577.1" cy="206.8" r="2.8"/><circle cx="538.8" cy="204.1" r="2.8"/><circle cx="528.8" cy="197" r="2.8"/><circle cx="536.4" cy="196.9" r="2.8"/><circle cx="560.7" cy="204.1" r="2.8"/><circle cx="532.2" cy="190.9" r="2.8"/><circle cx="568.5" cy="201.3" r="2.8"/><circle cx="537.7" cy="194.3" r="2.8"/><circle cx="557.3" cy="192.7" r="2.8"/><circle cx="556" cy="203" r="2.8"/><circle cx="539.7" cy="196.5" r="2.8"/><circle cx="527.7" cy="201.8" r="2.8"/><circle cx="567.9" cy="194.6" r="2.8"/><circle cx="562.6" cy="190.3" r="2.8"/><circle cx="548.1" cy="202.4" r="2.8"/><circle cx="555.1" cy="193" r="2.8"/><circle cx="536.5" cy="184.4" r="2.8"/><circle cx="574.3" cy="209" r="2.8"/><circle cx="538.7" cy="192.6" r="2.8"/><circle cx="559" cy="191.8" r="2.8"/><circle cx="560.4" cy="200.1" r="2.8"/><circle cx="544.6" cy="195" r="2.8"/><circle cx="561.4" cy="204" r="2.8"/><circle cx="547.8" cy="197.9" r="2.8"/><circle cx="546" cy="205.5" r="2.8"/><circle cx="561.8" cy="209.6" r="2.8"/><circle cx="552.9" cy="203.8" r="2.8"/><circle cx="553.2" cy="189.4" r="2.8"/><circle cx="591.1" cy="197" r="2.8"/><circle cx="549.7" cy="206" r="2.8"/><circle cx="549" cy="196.1" r="2.8"/><circle cx="526" cy="200" r="2.8"/><circle cx="559" cy="197" r="2.8"/><circle cx="545.9" cy="204.9" r="2.8"/><circle cx="557.8" cy="205.7" r="2.8"/><circle cx="587.4" cy="203.1" r="2.8"/><circle cx="544.3" cy="190.1" r="2.8"/><circle cx="537.6" cy="201" r="2.8"/><circle cx="564.2" cy="209.2" r="2.8"/><circle cx="558.7" cy="203.7" r="2.8"/><circle cx="532.2" cy="196.9" r="2.8"/><circle cx="550.7" cy="198.9" r="2.8"/><circle cx="560.4" cy="206" r="2.8"/><circle cx="575.9" cy="195.3" r="2.8"/><circle cx="611.5" cy="207.4" r="2.8"/><circle cx="611.5" cy="211.4" r="2.8"/><circle cx="569.5" cy="211.1" r="2.8"/><circle cx="586.6" cy="195.6" r="2.8"/><circle cx="579.6" cy="192.3" r="2.8"/><circle cx="567.9" cy="197.8" r="2.8"/><circle cx="599.2" cy="197.4" r="2.8"/><circle cx="594" cy="201.6" r="2.8"/><circle cx="598.5" cy="200.3" r="2.8"/><circle cx="581.7" cy="198.6" r="2.8"/><circle cx="575.4" cy="199.3" r="2.8"/><circle cx="590.7" cy="196.8" r="2.8"/><circle cx="576.2" cy="194" r="2.8"/><circle cx="611.2" cy="196.3" r="2.8"/><circle cx="570.5" cy="204.8" r="2.8"/><circle cx="625.3" cy="192.1" r="2.8"/><circle cx="612.5" cy="195.6" r="2.8"/><circle cx="595.7" cy="197.6" r="2.8"/><circle cx="610.3" cy="203" r="2.8"/><circle cx="621.7" cy="190" r="2.8"/><circle cx="592.9" cy="208.5" r="2.8"/><circle cx="597.5" cy="196.7" r="2.8"/><circle cx="581.8" cy="206" r="2.8"/><circle cx="568" cy="199.5" r="2.8"/><circle cx="623.1" cy="197" r="2.8"/><circle cx="585.1" cy="211.6" r="2.8"/><circle cx="608.5" cy="185.8" r="2.8"/><circle cx="592.7" cy="195.5" r="2.8"/><circle cx="584" cy="196.6" r="2.8"/><circle cx="624.3" cy="216.6" r="2.8"/><circle cx="582.7" cy="191.9" r="2.8"/><circle cx="569" cy="198.4" r="2.8"/><circle cx="614.4" cy="202.2" r="2.8"/><circle cx="602.6" cy="203.3" r="2.8"/><circle cx="592.4" cy="188" r="2.8"/><circle cx="626.4" cy="215.8" r="2.8"/><circle cx="623.2" cy="206.4" r="2.8"/><circle cx="589.2" cy="204.5" r="2.8"/><circle cx="606.3" cy="210.8" r="2.8"/><circle cx="567.5" cy="204.9" r="2.8"/><circle cx="578" cy="211.2" r="2.8"/><circle cx="572" cy="192.8" r="2.8"/><circle cx="572.6" cy="197.1" r="2.8"/><circle cx="618.1" cy="219.8" r="2.8"/><circle cx="571.3" cy="160.4" r="2.8"/><circle cx="547.8" cy="166.9" r="2.8"/><circle cx="561.6" cy="164.9" r="2.8"/><circle cx="581" cy="171.2" r="2.8"/><circle cx="516.8" cy="169.7" r="2.8"/><circle cx="566" cy="179.5" r="2.8"/><circle cx="576.6" cy="188.7" r="2.8"/><circle cx="577.3" cy="188.6" r="2.8"/><circle cx="524.6" cy="178.2" r="2.8"/><circle cx="587.5" cy="180.8" r="2.8"/><circle cx="527.9" cy="170.4" r="2.8"/><circle cx="564.2" cy="181.5" r="2.8"/><circle cx="536.4" cy="148.6" r="2.8"/><circle cx="552.3" cy="193.3" r="2.8"/><circle cx="538.3" cy="169.5" r="2.8"/><circle cx="583.4" cy="179.9" r="2.8"/><circle cx="587.5" cy="190.4" r="2.8"/><circle cx="582.8" cy="177.9" r="2.8"/><circle cx="518.4" cy="176.4" r="2.8"/><circle cx="531.9" cy="170.3" r="2.8"/><circle cx="564.3" cy="177.8" r="2.8"/><circle cx="541.6" cy="182.4" r="2.8"/><circle cx="579.5" cy="166.2" r="2.8"/><circle cx="572.3" cy="186.4" r="2.8"/><circle cx="590.6" cy="175.7" r="2.8"/><circle cx="586" cy="181.3" r="2.8"/><circle cx="584.1" cy="180.4" r="2.8"/><circle cx="518.5" cy="155.2" r="2.8"/><circle cx="530.1" cy="158.4" r="2.8"/><circle cx="572.8" cy="178" r="2.8"/><circle cx="584.6" cy="183.2" r="2.8"/><circle cx="591.5" cy="193.8" r="2.8"/><circle cx="576.4" cy="198" r="2.8"/><circle cx="551.3" cy="161.9" r="2.8"/><circle cx="568.4" cy="194.1" r="2.8"/><circle cx="521.4" cy="175.4" r="2.8"/><circle cx="543.1" cy="159.8" r="2.8"/><circle cx="527.8" cy="171.7" r="2.8"/><circle cx="551.4" cy="170.2" r="2.8"/><circle cx="522.6" cy="166.8" r="2.8"/><circle cx="586.7" cy="184.8" r="2.8"/><circle cx="523.2" cy="174.8" r="2.8"/><circle cx="530.3" cy="176.9" r="2.8"/><circle cx="563.1" cy="185.9" r="2.8"/><circle cx="529.2" cy="171" r="2.8"/><circle cx="551.6" cy="165.1" r="2.8"/><circle cx="533.7" cy="178.8" r="2.8"/><circle cx="540.6" cy="167.3" r="2.8"/><circle cx="551.7" cy="173.7" r="2.8"/><circle cx="554.4" cy="172.8" r="2.8"/><circle cx="523.2" cy="165.7" r="2.8"/><circle cx="579.6" cy="184.4" r="2.8"/><circle cx="549.6" cy="169.1" r="2.8"/><circle cx="519" cy="150.3" r="2.8"/><circle cx="573.2" cy="167.6" r="2.8"/><circle cx="530.1" cy="168.8" r="2.8"/><circle cx="539.4" cy="165.9" r="2.8"/><circle cx="555" cy="172.1" r="2.8"/><circle cx="580" cy="188" r="2.8"/><circle cx="591.5" cy="182" r="2.8"/><circle cx="525.3" cy="167.5" r="2.8"/><circle cx="566.6" cy="161.3" r="2.8"/><circle cx="519.2" cy="151" r="2.8"/><circle cx="519.3" cy="155.9" r="2.8"/><circle cx="557.6" cy="173.1" r="2.8"/><circle cx="560.7" cy="167.4" r="2.8"/><circle cx="543.3" cy="164.4" r="2.8"/><circle cx="571.6" cy="172.8" r="2.8"/><circle cx="528.9" cy="180.8" r="2.8"/><circle cx="550.4" cy="166.5" r="2.8"/><circle cx="541.8" cy="172.5" r="2.8"/><circle cx="562.2" cy="171.7" r="2.8"/><circle cx="568" cy="175" r="2.8"/><circle cx="550.4" cy="188.5" r="2.8"/><circle cx="522.4" cy="168.9" r="2.8"/><circle cx="560.9" cy="179.7" r="2.8"/><circle cx="569.8" cy="161.4" r="2.8"/><circle cx="546.9" cy="161.8" r="2.8"/><circle cx="568.7" cy="162.5" r="2.8"/><circle cx="558.2" cy="173.5" r="2.8"/><circle cx="533.8" cy="190.2" r="2.8"/><circle cx="567.9" cy="172.4" r="2.8"/><circle cx="584.2" cy="184.8" r="2.8"/><circle cx="539.1" cy="157.6" r="2.8"/><circle cx="589.6" cy="182.5" r="2.8"/><circle cx="582.8" cy="176.1" r="2.8"/><circle cx="550.1" cy="179.9" r="2.8"/><circle cx="560" cy="170.1" r="2.8"/><circle cx="583.9" cy="186.9" r="2.8"/><circle cx="531.6" cy="172.7" r="2.8"/><circle cx="528.1" cy="167.6" r="2.8"/><circle cx="537.3" cy="157.5" r="2.8"/><circle cx="562.6" cy="170.3" r="2.8"/><circle cx="545.4" cy="167" r="2.8"/><circle cx="567.4" cy="185.7" r="2.8"/><circle cx="521.6" cy="166.5" r="2.8"/><circle cx="527.3" cy="165.1" r="2.8"/><circle cx="580.2" cy="169.3" r="2.8"/><circle cx="544" cy="160.9" r="2.8"/><circle cx="566.6" cy="162.8" r="2.8"/><circle cx="589" cy="191.4" r="2.8"/><circle cx="589.1" cy="200.8" r="2.8"/><circle cx="573.5" cy="159.9" r="2.8"/><circle cx="536.3" cy="173.8" r="2.8"/><circle cx="579.8" cy="167.5" r="2.8"/><circle cx="522.6" cy="155.4" r="2.8"/><circle cx="560.5" cy="181.9" r="2.8"/><circle cx="546.2" cy="177.3" r="2.8"/><circle cx="569.9" cy="169" r="2.8"/><circle cx="549" cy="175.3" r="2.8"/><circle cx="521.7" cy="183.7" r="2.8"/><circle cx="516.5" cy="159.1" r="2.8"/><circle cx="577.4" cy="178.9" r="2.8"/><circle cx="546" cy="170.3" r="2.8"/><circle cx="547.9" cy="169.5" r="2.8"/><circle cx="561" cy="172.2" r="2.8"/><circle cx="537" cy="168.3" r="2.8"/><circle cx="582.5" cy="177.8" r="2.8"/><circle cx="545.9" cy="177.5" r="2.8"/><circle cx="546.9" cy="172.6" r="2.8"/></g>
<rect x="402.6" y="5.7" width="281.7" height="226.6" fill="none" stroke="#111" stroke-width="1.25"/>
<path d="M453.7 232.3v-4.2M453.7 5.7v4.2M504.8 232.3v-4.2M504.8 5.7v4.2M555.9 232.3v-4.2M555.9 5.7v4.2M607 232.3v-4.2M607 5.7v4.2M658.1 232.3v-4.2M658.1 5.7v4.2" stroke="#111" stroke-width="1.1" fill="none"/>
<path d="M428.2 232.3v-2.4M428.2 5.7v2.4M479.2 232.3v-2.4M479.2 5.7v2.4M530.4 232.3v-2.4M530.4 5.7v2.4M581.5 232.3v-2.4M581.5 5.7v2.4M632.6 232.3v-2.4M632.6 5.7v2.4" stroke="#111" stroke-width="1.1" fill="none"/>
<path d="M402.6 187h4.2M684.3 187h-4.2M402.6 141.7h4.2M684.3 141.7h-4.2M402.6 96.3h4.2M684.3 96.3h-4.2M402.6 51h4.2M684.3 51h-4.2" stroke="#111" stroke-width="1.1" fill="none"/>
<path d="M402.6 209.6h2.4M684.3 209.6h-2.4M402.6 164.3h2.4M684.3 164.3h-2.4M402.6 119h2.4M684.3 119h-2.4M402.6 73.7h2.4M684.3 73.7h-2.4M402.6 28.4h2.4M684.3 28.4h-2.4" stroke="#111" stroke-width="1.1" fill="none"/>
<text x="402.6" y="249" font-size="13.8" text-anchor="middle">−2</text>
<text x="453.7" y="249" font-size="13.8" text-anchor="middle">−1</text>
<text x="504.8" y="249" font-size="13.8" text-anchor="middle">0</text>
<text x="555.9" y="249" font-size="13.8" text-anchor="middle">1</text>
<text x="607" y="249" font-size="13.8" text-anchor="middle">2</text>
<text x="658.1" y="249" font-size="13.8" text-anchor="middle">3</text>
<text x="397.6" y="237.1" font-size="13.8" text-anchor="end">0.0</text>
<text x="397.6" y="191.8" font-size="13.8" text-anchor="end">0.2</text>
<text x="397.6" y="146.5" font-size="13.8" text-anchor="end">0.4</text>
<text x="397.6" y="101.1" font-size="13.8" text-anchor="end">0.6</text>
<text x="397.6" y="55.8" font-size="13.8" text-anchor="end">0.8</text>
<text x="397.6" y="10.5" font-size="13.8" text-anchor="end">1.0</text>
<text x="504.1" y="266.8" font-size="16.5" textLength="79.1" lengthAdjust="spacingAndGlyphs"><tspan font-family="Liberation Serif">log (<tspan font-style="italic">τ</tspan></tspan> (ms))</text>
<text transform="translate(370.3 126.6) rotate(-90)" font-size="16.2" font-style="italic" textLength="26.8" lengthAdjust="spacingAndGlyphs">I<tspan font-size="11" dy="3.6">b</tspan><tspan dy="-3.6">/I</tspan><tspan font-size="11" dy="3.6">0</tspan></text>
<circle cx="460.4" cy="60.3" r="45.7" fill="none" stroke="#111" stroke-width="2" stroke-dasharray="8.6 8"/>
<text x="467.3" y="83.3" font-size="15" textLength="84.1" lengthAdjust="spacingAndGlyphs">unsuccessful</text>
<ellipse cx="514.6" cy="143.8" rx="83.5" ry="40" fill="none" stroke="#00dc00" stroke-width="2" stroke-dasharray="8.8 8"/>
<text x="517.8" y="127.4" font-size="14.5" fill="#00dc00" textLength="61.3" lengthAdjust="spacingAndGlyphs">single-file</text>
<ellipse cx="568.3" cy="201.7" rx="82" ry="20.7" fill="none" stroke="#ff00ff" stroke-width="2" stroke-dasharray="8.8 8"/>
<text x="643" y="159.8" font-size="14.4" fill="#ff00ff" text-anchor="middle" textLength="61.8" lengthAdjust="spacingAndGlyphs">intra-pore</text>
<text x="642.6" y="178.2" font-size="14.4" fill="#ff00ff" text-anchor="middle" textLength="68.4" lengthAdjust="spacingAndGlyphs">-structured</text>
<text x="674.8" y="124.8" font-size="13.6" text-anchor="end" textLength="39.3" lengthAdjust="spacingAndGlyphs">90 mV</text>
<text x="674.8" y="141.8" font-size="13.6" text-anchor="end" textLength="53.2" lengthAdjust="spacingAndGlyphs">n = 2289</text>
<rect x="557.8" y="14.2" width="119.2" height="86.9" fill="#fff" stroke="#333" stroke-width="1.2"/>
<polyline points="599,20.8 599.3,21.4 599.6,20.3 599.9,21.1 600.2,22.4 600.5,21.4 600.8,19.6 601.1,20.8 601.4,21.7 601.7,20.3 602,21 602.3,21.6 602.6,20.9 602.9,20.1 603.2,22.9 603.5,19.7 603.8,23 604.1,19.8 604.6,40 604.9,57.4 605.2,57.3 605.5,56.4 605.8,60.8 606.1,62.3 606.4,58.9 606.7,57.4 607,58.2 607.3,62.3 608,40 608.4,22 608.6,21.8 608.9,22.4 609.2,21 609.5,20.7 609.8,22.2 610.1,21.7 610.4,23.1 610.7,20 611,20.8 611.3,22.2 611.6,23 611.9,21.3 612.2,22.6 612.5,19.8 612.8,22 613.1,20.7 613.4,22.2 613.7,20.6" fill="none" stroke="#000" stroke-width="1.0" stroke-linejoin="round"/>
<polyline points="623.3,20.1 623.6,20.5 623.9,22.3 624.2,22.2 624.5,23.1 624.8,21.1 625.1,19.7 625.4,22.6 625.7,20.4 626,22.3 626.3,21.4 626.6,21.2 626.9,19.5 627.2,20.3 627.5,22.4 627.8,21.2 628.1,22.9 628.4,22.6 628.7,40 629,57.2 629.3,60.4 629.6,53.5 629.9,56.3 630.2,57.2 630.5,53.9 630.8,59.6 631.1,54.5 631.4,57.6 631.7,55.4 632,56.2 632.3,56.8 632.6,55.5 632.9,54.7 633.2,58.2 633.5,57.9 633.8,54.1 634.1,60.3 634.4,54.2 634.7,59.3 635,61.5 635.3,63.9 635.6,66.5 635.9,71.2 636.2,67.4 636.5,72.5 636.8,74.7 637.1,73.3 637.4,74 637.7,74.6 638,77.7 638.3,76.9 638.6,74.9 638.9,72 639.2,74 639.5,77.2 639.8,74.5 640.1,74.2 640.4,76 640.7,71.8 641,76 641.3,76.3 641.6,72.3 641.9,74.4 642.2,77.5 642.5,73.3 642.8,75.2 643.1,73.9 643.4,75.4 643.7,74.2 644,73.9 644.3,78 644.6,75.5 644.9,75.1 645.2,67.9 645.5,66.3 645.8,63 646.1,64 646.4,57.9 646.7,59.3 647,55.7 647.3,58.3 647.6,56.4 647.6,40 648.6,22 649.2,23.1 649.5,20.9 649.8,23.2 650.1,21.7 650.4,20.8 650.7,21.6 651,23.1 651.3,22.2 651.6,22.7 651.9,21.7 652.2,21.9 652.5,20 652.8,22.7 653.1,22 653.4,22 653.7,20.6 654,22.5 654.3,21.5 654.6,20.7" fill="none" stroke="#000" stroke-width="1.0" stroke-linejoin="round"/>
<path d="M584.1 63.6H657.7M584.1 80.7H657.7" stroke="#f7861c" stroke-width="1.6" stroke-dasharray="6.1 5.55"/>
<text x="658.8" y="69.8" font-size="14.8" font-family="Liberation Serif" font-style="italic" fill="#f7861c">I<tspan font-size="11" dy="2.8">b1</tspan></text>
<text x="658.8" y="85.9" font-size="14.8" font-family="Liberation Serif" font-style="italic" fill="#f7861c">I<tspan font-size="11" dy="2.8">b2</tspan></text>
<path d="M579.7 60.9V86.3H604.7" fill="none" stroke="#222" stroke-width="1.1"/>
<text x="559.7" y="57.8" font-size="13.8" textLength="39.9" lengthAdjust="spacingAndGlyphs">0.3 nA</text>
<text x="593" y="98.8" font-size="13.6" textLength="29.4" lengthAdjust="spacingAndGlyphs">5 ms</text>
<line x1="537.3" y1="105.5" x2="592" y2="65.6" stroke="#00dc00" stroke-width="1.4"/>
<path d="M598.1 61.2L593 68.6L592.3 65.5L589.5 63.8Z" fill="#00dc00"/>
<line x1="591.5" y1="183.5" x2="631.8" y2="92.2" stroke="#ff00ff" stroke-width="1.3"/>
<path d="M634.8 85.3L634.1 94.3L631.9 91.9L628.6 91.9Z" fill="#ff00ff"/>
<text x="-0.6" y="291.3" font-size="18.5">c</text>
<g shape-rendering="crispEdges"><g fill="#4848ff"><rect x="72" y="489" width="1" height="1"/><rect x="77" y="473" width="1" height="17"/><rect x="82" y="458" width="1" height="32"/><rect x="87" y="385" width="1" height="105"/><rect x="92" y="309" width="1" height="181"/><rect x="97" y="320" width="1" height="170"/><rect x="102" y="360" width="1" height="130"/><rect x="107" y="387" width="1" height="103"/><rect x="112" y="405" width="1" height="85"/><rect x="117" y="432" width="1" height="58"/><rect x="122" y="422" width="1" height="68"/><rect x="127" y="404" width="1" height="86"/><rect x="132" y="418" width="1" height="72"/><rect x="137" y="408" width="1" height="82"/><rect x="142" y="396" width="1" height="94"/><rect x="147" y="411" width="1" height="79"/><rect x="152" y="424" width="1" height="66"/><rect x="157" y="436" width="1" height="54"/><rect x="162" y="432" width="1" height="58"/><rect x="167" y="447" width="1" height="43"/><rect x="172" y="455" width="1" height="35"/><rect x="177" y="463" width="1" height="27"/><rect x="182" y="472" width="1" height="18"/><rect x="187" y="477" width="1" height="13"/><rect x="192" y="477" width="1" height="13"/><rect x="197" y="478" width="1" height="12"/><rect x="202" y="475" width="1" height="15"/><rect x="207" y="481" width="1" height="9"/><rect x="212" y="482" width="1" height="8"/><rect x="217" y="480" width="1" height="10"/><rect x="222" y="478" width="1" height="12"/><rect x="227" y="477" width="1" height="13"/><rect x="232" y="483" width="1" height="7"/><rect x="237" y="477" width="1" height="13"/><rect x="242" y="480" width="1" height="10"/><rect x="247" y="472" width="1" height="18"/><rect x="252" y="470" width="1" height="20"/><rect x="257" y="478" width="1" height="12"/><rect x="262" y="480" width="1" height="10"/><rect x="267" y="467" width="1" height="23"/><rect x="272" y="475" width="1" height="15"/><rect x="277" y="456" width="1" height="34"/><rect x="282" y="470" width="1" height="20"/><rect x="287" y="484" width="1" height="6"/></g><g fill="#ececff"><rect x="76" y="486" width="1" height="4"/><rect x="81" y="467" width="1" height="23"/><rect x="86" y="421" width="1" height="69"/><rect x="91" y="353" width="1" height="137"/><rect x="96" y="323" width="1" height="167"/><rect x="101" y="360" width="1" height="130"/><rect x="106" y="387" width="1" height="103"/><rect x="111" y="405" width="1" height="85"/><rect x="116" y="432" width="1" height="58"/><rect x="121" y="422" width="1" height="68"/><rect x="126" y="404" width="1" height="86"/><rect x="131" y="428" width="1" height="62"/><rect x="136" y="411" width="1" height="79"/><rect x="141" y="396" width="1" height="94"/><rect x="146" y="419" width="1" height="71"/><rect x="151" y="424" width="1" height="66"/><rect x="156" y="436" width="1" height="54"/><rect x="161" y="432" width="1" height="58"/><rect x="166" y="447" width="1" height="43"/><rect x="171" y="458" width="1" height="32"/><rect x="176" y="475" width="1" height="15"/><rect x="181" y="472" width="1" height="18"/><rect x="186" y="477" width="1" height="13"/><rect x="191" y="479" width="1" height="11"/><rect x="196" y="478" width="1" height="12"/><rect x="201" y="478" width="1" height="12"/><rect x="206" y="481" width="1" height="9"/><rect x="211" y="482" width="1" height="8"/><rect x="216" y="486" width="1" height="4"/><rect x="221" y="486" width="1" height="4"/><rect x="226" y="480" width="1" height="10"/><rect x="231" y="483" width="1" height="7"/><rect x="236" y="477" width="1" height="13"/><rect x="241" y="483" width="1" height="7"/><rect x="246" y="472" width="1" height="18"/><rect x="251" y="487" width="1" height="3"/><rect x="256" y="478" width="1" height="12"/><rect x="261" y="486" width="1" height="4"/><rect x="266" y="470" width="1" height="20"/><rect x="271" y="475" width="1" height="15"/><rect x="276" y="460" width="1" height="30"/><rect x="281" y="470" width="1" height="20"/><rect x="286" y="484" width="1" height="6"/></g><g fill="#1a1aff"><rect x="75" y="486" width="1" height="4"/><rect x="80" y="467" width="1" height="23"/><rect x="85" y="421" width="1" height="69"/><rect x="90" y="353" width="1" height="137"/><rect x="95" y="309" width="1" height="181"/><rect x="100" y="320" width="1" height="170"/><rect x="105" y="363" width="1" height="127"/><rect x="110" y="405" width="1" height="85"/><rect x="115" y="416" width="1" height="74"/><rect x="120" y="422" width="1" height="68"/><rect x="125" y="404" width="1" height="86"/><rect x="130" y="422" width="1" height="68"/><rect x="135" y="411" width="1" height="79"/><rect x="140" y="396" width="1" height="94"/><rect x="145" y="419" width="1" height="71"/><rect x="150" y="411" width="1" height="79"/><rect x="155" y="433" width="1" height="57"/><rect x="160" y="432" width="1" height="58"/><rect x="165" y="444" width="1" height="46"/><rect x="170" y="458" width="1" height="32"/><rect x="175" y="455" width="1" height="35"/><rect x="180" y="463" width="1" height="27"/><rect x="185" y="477" width="1" height="13"/><rect x="190" y="479" width="1" height="11"/><rect x="195" y="477" width="1" height="13"/><rect x="200" y="478" width="1" height="12"/><rect x="205" y="475" width="1" height="15"/><rect x="210" y="482" width="1" height="8"/><rect x="215" y="484" width="1" height="6"/><rect x="220" y="480" width="1" height="10"/><rect x="225" y="478" width="1" height="12"/><rect x="230" y="477" width="1" height="13"/><rect x="235" y="477" width="1" height="13"/><rect x="240" y="480" width="1" height="10"/><rect x="245" y="472" width="1" height="18"/><rect x="250" y="477" width="1" height="13"/><rect x="255" y="470" width="1" height="20"/><rect x="260" y="478" width="1" height="12"/><rect x="265" y="470" width="1" height="20"/><rect x="270" y="467" width="1" height="23"/><rect x="275" y="460" width="1" height="30"/><rect x="280" y="456" width="1" height="34"/><rect x="285" y="484" width="1" height="6"/></g><g fill="#d0d0ff"><rect x="73" y="489" width="1" height="1"/><rect x="74" y="489" width="1" height="1"/><rect x="78" y="473" width="1" height="17"/><rect x="79" y="473" width="1" height="17"/><rect x="83" y="458" width="1" height="32"/><rect x="84" y="458" width="1" height="32"/><rect x="88" y="385" width="1" height="105"/><rect x="89" y="385" width="1" height="105"/><rect x="93" y="309" width="1" height="181"/><rect x="94" y="309" width="1" height="181"/><rect x="98" y="320" width="1" height="170"/><rect x="99" y="320" width="1" height="170"/><rect x="103" y="363" width="1" height="127"/><rect x="104" y="363" width="1" height="127"/><rect x="108" y="405" width="1" height="85"/><rect x="109" y="405" width="1" height="85"/><rect x="113" y="416" width="1" height="74"/><rect x="114" y="416" width="1" height="74"/><rect x="118" y="432" width="1" height="58"/><rect x="119" y="432" width="1" height="58"/><rect x="123" y="428" width="1" height="62"/><rect x="124" y="428" width="1" height="62"/><rect x="128" y="422" width="1" height="68"/><rect x="129" y="422" width="1" height="68"/><rect x="133" y="418" width="1" height="72"/><rect x="134" y="418" width="1" height="72"/><rect x="138" y="408" width="1" height="82"/><rect x="139" y="408" width="1" height="82"/><rect x="143" y="425" width="1" height="65"/><rect x="144" y="425" width="1" height="65"/><rect x="148" y="411" width="1" height="79"/><rect x="149" y="411" width="1" height="79"/><rect x="153" y="433" width="1" height="57"/><rect x="154" y="433" width="1" height="57"/><rect x="158" y="439" width="1" height="51"/><rect x="159" y="439" width="1" height="51"/><rect x="163" y="444" width="1" height="46"/><rect x="164" y="444" width="1" height="46"/><rect x="168" y="464" width="1" height="26"/><rect x="169" y="464" width="1" height="26"/><rect x="173" y="455" width="1" height="35"/><rect x="174" y="455" width="1" height="35"/><rect x="178" y="463" width="1" height="27"/><rect x="179" y="463" width="1" height="27"/><rect x="183" y="483" width="1" height="7"/><rect x="184" y="483" width="1" height="7"/><rect x="188" y="482" width="1" height="8"/><rect x="189" y="482" width="1" height="8"/><rect x="193" y="477" width="1" height="13"/><rect x="194" y="477" width="1" height="13"/><rect x="198" y="478" width="1" height="12"/><rect x="199" y="478" width="1" height="12"/><rect x="203" y="475" width="1" height="15"/><rect x="204" y="475" width="1" height="15"/><rect x="208" y="484" width="1" height="6"/><rect x="209" y="484" width="1" height="6"/><rect x="213" y="484" width="1" height="6"/><rect x="214" y="484" width="1" height="6"/><rect x="218" y="480" width="1" height="10"/><rect x="219" y="480" width="1" height="10"/><rect x="223" y="478" width="1" height="12"/><rect x="224" y="478" width="1" height="12"/><rect x="228" y="477" width="1" height="13"/><rect x="229" y="477" width="1" height="13"/><rect x="233" y="483" width="1" height="7"/><rect x="234" y="483" width="1" height="7"/><rect x="238" y="480" width="1" height="10"/><rect x="239" y="480" width="1" height="10"/><rect x="243" y="480" width="1" height="10"/><rect x="244" y="480" width="1" height="10"/><rect x="248" y="477" width="1" height="13"/><rect x="249" y="477" width="1" height="13"/><rect x="253" y="470" width="1" height="20"/><rect x="254" y="470" width="1" height="20"/><rect x="258" y="478" width="1" height="12"/><rect x="259" y="478" width="1" height="12"/><rect x="263" y="480" width="1" height="10"/><rect x="264" y="480" width="1" height="10"/><rect x="268" y="467" width="1" height="23"/><rect x="269" y="467" width="1" height="23"/><rect x="273" y="478" width="1" height="12"/><rect x="274" y="478" width="1" height="12"/><rect x="278" y="456" width="1" height="34"/><rect x="279" y="456" width="1" height="34"/><rect x="283" y="484" width="1" height="6"/><rect x="284" y="484" width="1" height="6"/></g><g fill="#2020ff"><rect x="72" y="489" width="4" height="1"/><rect x="75" y="486" width="3" height="1"/><rect x="77" y="473" width="4" height="1"/><rect x="80" y="467" width="3" height="1"/><rect x="82" y="458" width="4" height="1"/><rect x="85" y="421" width="3" height="1"/><rect x="87" y="385" width="4" height="1"/><rect x="90" y="353" width="3" height="1"/><rect x="92" y="309" width="4" height="1"/><rect x="95" y="323" width="3" height="1"/><rect x="97" y="320" width="4" height="1"/><rect x="100" y="360" width="3" height="1"/><rect x="102" y="363" width="4" height="1"/><rect x="105" y="387" width="3" height="1"/><rect x="107" y="405" width="4" height="1"/><rect x="110" y="405" width="3" height="1"/><rect x="112" y="416" width="4" height="1"/><rect x="115" y="432" width="3" height="1"/><rect x="117" y="432" width="4" height="1"/><rect x="120" y="422" width="3" height="1"/><rect x="122" y="428" width="4" height="1"/><rect x="125" y="404" width="3" height="1"/><rect x="127" y="422" width="4" height="1"/><rect x="130" y="428" width="3" height="1"/><rect x="132" y="418" width="4" height="1"/><rect x="135" y="411" width="3" height="1"/><rect x="137" y="408" width="4" height="1"/><rect x="140" y="396" width="3" height="1"/><rect x="142" y="425" width="4" height="1"/><rect x="145" y="419" width="3" height="1"/><rect x="147" y="411" width="4" height="1"/><rect x="150" y="424" width="3" height="1"/><rect x="152" y="433" width="4" height="1"/><rect x="155" y="436" width="3" height="1"/><rect x="157" y="439" width="4" height="1"/><rect x="160" y="432" width="3" height="1"/><rect x="162" y="444" width="4" height="1"/><rect x="165" y="447" width="3" height="1"/><rect x="167" y="464" width="4" height="1"/><rect x="170" y="458" width="3" height="1"/><rect x="172" y="455" width="4" height="1"/><rect x="175" y="475" width="3" height="1"/><rect x="177" y="463" width="4" height="1"/><rect x="180" y="472" width="3" height="1"/><rect x="182" y="483" width="4" height="1"/><rect x="185" y="477" width="3" height="1"/><rect x="187" y="482" width="4" height="1"/><rect x="190" y="479" width="3" height="1"/><rect x="192" y="477" width="4" height="1"/><rect x="195" y="478" width="3" height="1"/><rect x="197" y="478" width="4" height="1"/><rect x="200" y="478" width="3" height="1"/><rect x="202" y="475" width="4" height="1"/><rect x="205" y="481" width="3" height="1"/><rect x="207" y="484" width="4" height="1"/><rect x="210" y="482" width="3" height="1"/><rect x="212" y="484" width="4" height="1"/><rect x="215" y="486" width="3" height="1"/><rect x="217" y="480" width="4" height="1"/><rect x="220" y="486" width="3" height="1"/><rect x="222" y="478" width="4" height="1"/><rect x="225" y="480" width="3" height="1"/><rect x="227" y="477" width="4" height="1"/><rect x="230" y="483" width="3" height="1"/><rect x="232" y="483" width="4" height="1"/><rect x="235" y="477" width="3" height="1"/><rect x="237" y="480" width="4" height="1"/><rect x="240" y="483" width="3" height="1"/><rect x="242" y="480" width="4" height="1"/><rect x="245" y="472" width="3" height="1"/><rect x="247" y="477" width="4" height="1"/><rect x="250" y="487" width="3" height="1"/><rect x="252" y="470" width="4" height="1"/><rect x="255" y="478" width="3" height="1"/><rect x="257" y="478" width="4" height="1"/><rect x="260" y="486" width="3" height="1"/><rect x="262" y="480" width="4" height="1"/><rect x="265" y="470" width="3" height="1"/><rect x="267" y="467" width="4" height="1"/><rect x="270" y="475" width="3" height="1"/><rect x="272" y="478" width="4" height="1"/><rect x="275" y="460" width="3" height="1"/><rect x="277" y="456" width="4" height="1"/><rect x="280" y="470" width="3" height="1"/><rect x="282" y="484" width="4" height="1"/><rect x="285" y="484" width="3" height="1"/></g></g>
<polyline points="75.3,489.8 75.5,489.7 75.7,489.6 76,489.5 76.2,489.4 76.4,489.3 76.6,489.1 76.8,489 77.1,488.8 77.3,488.7 77.5,488.5 77.7,488.3 77.9,488 78.2,487.8 78.4,487.5 78.6,487.2 78.8,486.9 79,486.5 79.3,486.2 79.5,485.8 79.7,485.3 79.9,484.9 80.1,484.4 80.3,483.8 80.6,483.2 80.8,482.6 81,481.9 81.2,481.2 81.4,480.5 81.7,479.7 81.9,478.8 82.1,477.9 82.3,476.9 82.5,475.9 82.8,474.8 83,473.6 83.2,472.4 83.4,471.1 83.6,469.8 83.9,468.3 84.1,466.8 84.3,465.3 84.5,463.6 84.7,461.9 84.9,460.1 85.2,458.3 85.4,456.3 85.6,454.3 85.8,452.2 86,450 86.3,447.8 86.5,445.5 86.7,443.1 86.9,440.6 87.1,438.1 87.4,435.5 87.6,432.9 87.8,430.1 88,427.4 88.2,424.5 88.4,421.7 88.7,418.7 88.9,415.8 89.1,412.8 89.3,409.8 89.5,406.7 89.8,403.7 90,400.6 90.2,397.6 90.4,394.5 90.6,391.4 90.9,388.4 91.1,385.4 91.3,382.4 91.5,379.5 91.7,376.6 92,373.8 92.2,371 92.4,368.3 92.6,365.7 92.8,363.2 93,360.8 93.3,358.5 93.5,356.3 93.7,354.2 93.9,352.2 94.1,350.4 94.4,348.7 94.6,347.1 94.8,345.7 95,344.4 95.2,343.3 95.5,342.4 95.7,341.6 95.9,341 96.1,340.5 96.3,340.3 96.5,340.2 96.8,340.2 97,340.4 97.2,340.8 97.4,341.4 97.6,342.1 97.9,343 98.1,344.1 98.3,345.3 98.5,346.7 98.7,348.2 99,349.9 99.2,351.7 99.4,353.6 99.6,355.6 99.8,357.8 100.1,360.1 100.3,362.5 100.5,365 100.7,367.6 100.9,370.2 101.1,373 101.4,375.8 101.6,378.7 101.8,381.6 102,384.5 102.2,387.5 102.5,390.6 102.7,393.6 102.9,396.7 103.1,399.7 103.3,402.8 103.6,405.9 103.8,408.9 104,411.9 104.2,414.9 104.4,417.9 104.6,420.8 104.9,423.7 105.1,426.6 105.3,429.3 105.5,432.1 105.7,434.8 106,437.4 106.2,439.9 106.4,442.4 106.6,444.8 106.8,447.1 107.1,449.4 107.3,451.6 107.5,453.7 107.7,455.7 107.9,457.7 108.2,459.6 108.4,461.4 108.6,463.1 108.8,464.8 109,466.4 109.2,467.9 109.5,469.4 109.7,470.7 109.9,472 110.1,473.3 110.3,474.5 110.6,475.6 110.8,476.6 111,477.6 111.2,478.5 111.4,479.4 111.7,480.2 111.9,481 112.1,481.7 112.3,482.4 112.5,483.1 112.7,483.7 113,484.2 113.2,484.7 113.4,485.2 113.6,485.6 113.8,486.1 114.1,486.4 114.3,486.8 114.5,487.1 114.7,487.4 114.9,487.7 115.2,488 115.4,488.2 115.6,488.4 115.8,488.6 116,488.8 116.3,488.9 116.5,489.1 116.7,489.2 116.9,489.4 117.1,489.5 117.3,489.6 117.6,489.7 117.8,489.8 118,489.8 118.2,489.9 118.4,490 118.7,490 118.9,490.1 119.1,490.1" fill="none" stroke="#ff00ff" stroke-width="1.4"/>
<polyline points="75.3,484.5 75.6,484.4 75.9,484.2 76.2,484.1 76.5,483.9 76.8,483.7 77.1,483.6 77.4,483.4 77.7,483.2 78,483 78.3,482.9 78.6,482.7 78.9,482.5 79.2,482.3 79.5,482.1 79.8,481.9 80.1,481.7 80.4,481.5 80.7,481.3 81,481.1 81.3,480.9 81.6,480.6 81.9,480.4 82.2,480.2 82.5,479.9 82.8,479.7 83.1,479.5 83.4,479.2 83.7,479 84,478.7 84.3,478.5 84.6,478.2 84.9,477.9 85.2,477.7 85.5,477.4 85.8,477.1 86.1,476.8 86.4,476.6 86.7,476.3 87,476 87.3,475.7 87.6,475.4 87.9,475.1 88.2,474.7 88.5,474.4 88.8,474.1 89.1,473.8 89.4,473.5 89.7,473.1 90,472.8 90.3,472.5 90.6,472.1 90.9,471.8 91.2,471.4 91.5,471 91.8,470.7 92.1,470.3 92.4,469.9 92.7,469.6 93,469.2 93.3,468.8 93.6,468.4 93.9,468 94.2,467.6 94.5,467.2 94.8,466.8 95.1,466.4 95.4,466 95.7,465.6 96,465.2 96.3,464.7 96.6,464.3 96.9,463.9 97.2,463.4 97.5,463 97.8,462.6 98.1,462.1 98.4,461.7 98.7,461.2 99,460.7 99.3,460.3 99.6,459.8 99.9,459.3 100.2,458.9 100.5,458.4 100.8,457.9 101.1,457.4 101.4,457 101.7,456.5 102,456 102.3,455.5 102.6,455 102.9,454.5 103.2,454 103.5,453.5 103.8,453 104.1,452.5 104.4,452 104.7,451.5 105,451 105.3,450.4 105.6,449.9 105.9,449.4 106.2,448.9 106.5,448.4 106.8,447.8 107.1,447.3 107.4,446.8 107.7,446.3 108,445.7 108.3,445.2 108.6,444.7 108.9,444.2 109.2,443.6 109.5,443.1 109.8,442.6 110.1,442.1 110.4,441.5 110.7,441 111,440.5 111.3,440 111.6,439.4 111.9,438.9 112.2,438.4 112.5,437.9 112.8,437.3 113.1,436.8 113.4,436.3 113.7,435.8 114,435.3 114.3,434.8 114.6,434.3 114.9,433.7 115.2,433.2 115.5,432.7 115.8,432.2 116.1,431.7 116.4,431.3 116.7,430.8 117,430.3 117.3,429.8 117.6,429.3 117.9,428.8 118.2,428.4 118.5,427.9 118.8,427.4 119.1,427 119.4,426.5 119.7,426.1 120,425.6 120.3,425.2 120.6,424.8 120.9,424.3 121.2,423.9 121.5,423.5 121.8,423.1 122.1,422.7 122.4,422.3 122.7,421.9 123.1,421.5 123.4,421.1 123.7,420.7 124,420.4 124.3,420 124.6,419.6 124.9,419.3 125.2,419 125.5,418.6 125.8,418.3 126.1,418 126.4,417.7 126.7,417.4 127,417.1 127.3,416.8 127.6,416.5 127.9,416.2 128.2,416 128.5,415.7 128.8,415.5 129.1,415.2 129.4,415 129.7,414.8 130,414.6 130.3,414.4 130.6,414.2 130.9,414 131.2,413.8 131.5,413.6 131.8,413.5 132.1,413.3 132.4,413.2 132.7,413.1 133,412.9 133.3,412.8 133.6,412.7 133.9,412.6 134.2,412.5 134.5,412.5 134.8,412.4 135.1,412.4 135.4,412.3" fill="none" stroke="#00dc00" stroke-width="1.5" stroke-dasharray="2.2 1.2"/>
<polyline points="60.3,489 61.1,488.9 61.8,488.8 62.6,488.7 63.3,488.5 64.1,488.4 64.8,488.2 65.6,488 66.3,487.8 67.1,487.6 67.8,487.4 68.6,487.2 69.3,487 70.1,486.7 70.8,486.4 71.6,486.1 72.3,485.7 73.1,485.4 73.8,484.9 74.6,484.4 75.3,483.8 76.1,483.1 76.8,482.2 77.6,481.2 78.3,479.9 79.1,478.4 79.8,476.5 80.6,474.1 81.3,471.3 82.1,467.8 82.8,463.7 83.6,458.8 84.3,453 85.1,446.4 85.8,438.8 86.6,430.4 87.3,421.1 88.1,411 88.8,400.3 89.6,389.1 90.3,377.8 91.1,366.5 91.8,355.6 92.6,345.3 93.3,336.1 94.1,328.2 94.8,321.8 95.6,317.2 96.3,314.5 97.1,313.7 97.8,315 98.6,318 99.3,322.8 100.1,329.1 100.8,336.5 101.6,344.9 102.3,353.8 103.1,363.1 103.8,372.3 104.6,381.2 105.3,389.7 106.1,397.5 106.8,404.5 107.6,410.6 108.3,415.9 109.1,420.2 109.8,423.8 110.6,426.5 111.3,428.5 112.1,429.9 112.8,430.7 113.6,431.1 114.3,431.1 115.1,430.9 115.8,430.4 116.6,429.7 117.3,428.9 118.1,428 118.8,427 119.6,426 120.3,425 121.1,424 121.8,423 122.6,422 123.4,421.1 124.1,420.2 124.9,419.3 125.6,418.5 126.4,417.7 127.1,416.9 127.9,416.2 128.6,415.6 129.4,415 130.1,414.5 130.9,414 131.6,413.6 132.4,413.2 133.1,412.9 133.9,412.6 134.6,412.4 135.4,412.3 136.1,412.2 136.9,412.2 137.6,412.3 138.4,412.4 139.1,412.6 139.9,412.8 140.6,413.1 141.4,413.4 142.1,413.8 142.9,414.3 143.6,414.8 144.4,415.4 145.1,416 145.9,416.7 146.6,417.4 147.4,418.2 148.1,419 148.9,419.9 149.6,420.8 150.4,421.7 151.1,422.7 151.9,423.8 152.6,424.8 153.4,425.9 154.1,427.1 154.9,428.2 155.6,429.4 156.4,430.6 157.1,431.8 157.9,433.1 158.6,434.3 159.4,435.6 160.1,436.9 160.9,438.2 161.6,439.5 162.4,440.8 163.1,442.1 163.9,443.5 164.6,444.8 165.4,446.1 166.1,447.4 166.9,448.7 167.6,450 168.4,451.3 169.1,452.6 169.9,453.8 170.6,455.1 171.4,456.3 172.1,457.5 172.9,458.7 173.6,459.9 174.4,461 175.1,462.2 175.9,463.3 176.6,464.4 177.4,465.4 178.1,466.5 178.9,467.5 179.6,468.5 180.4,469.4 181.1,470.4 181.9,471.3 182.6,472.2 183.4,473 184.1,473.8 184.9,474.6 185.7,475.4 186.4,476.2 187.2,476.9 187.9,477.6 188.7,478.2 189.4,478.9 190.2,479.5 190.9,480.1 191.7,480.7 192.4,481.2 193.2,481.7 193.9,482.2 194.7,482.7 195.4,483.2 196.2,483.6 196.9,484 197.7,484.4 198.4,484.8 199.2,485.1 199.9,485.5 200.7,485.8 201.4,486.1 202.2,486.4 202.9,486.6 203.7,486.9 204.4,487.1 205.2,487.4 205.9,487.6 206.7,487.8 207.4,488 208.2,488.2 208.9,488.3 209.7,488.5 210.4,488.6" fill="none" stroke="#f7861c" stroke-width="1.5"/>
<path d="M136.1 367V490.5" stroke="#00dc00" stroke-width="2.3" stroke-dasharray="11.8 12"/>
<rect x="60.3" y="289.4" width="250.2" height="201.1" fill="none" stroke="#111" stroke-width="1.25"/>
<path d="M110.3 490.5v-4.2M110.3 289.4v4.2M160.4 490.5v-4.2M160.4 289.4v4.2M210.4 490.5v-4.2M210.4 289.4v4.2M260.5 490.5v-4.2M260.5 289.4v4.2" stroke="#111" stroke-width="1.1" fill="none"/>
<path d="M85.3 490.5v-2.4M85.3 289.4v2.4M135.4 490.5v-2.4M135.4 289.4v2.4M185.4 490.5v-2.4M185.4 289.4v2.4M235.4 490.5v-2.4M235.4 289.4v2.4M285.5 490.5v-2.4M285.5 289.4v2.4" stroke="#111" stroke-width="1.1" fill="none"/>
<path d="M60.3 459.5h4.2M310.5 459.5h-4.2M60.3 428.5h4.2M310.5 428.5h-4.2M60.3 397.5h4.2M310.5 397.5h-4.2M60.3 366.5h4.2M310.5 366.5h-4.2M60.3 335.5h4.2M310.5 335.5h-4.2M60.3 304.5h4.2M310.5 304.5h-4.2" stroke="#111" stroke-width="1.1" fill="none"/>
<path d="M60.3 475h2.4M310.5 475h-2.4M60.3 444h2.4M310.5 444h-2.4M60.3 413h2.4M310.5 413h-2.4M60.3 382h2.4M310.5 382h-2.4M60.3 351h2.4M310.5 351h-2.4M60.3 320h2.4M310.5 320h-2.4" stroke="#111" stroke-width="1.1" fill="none"/>
<text x="60.3" y="507" font-size="14.8" text-anchor="middle">0.0</text>
<text x="110.3" y="507" font-size="14.8" text-anchor="middle">0.2</text>
<text x="160.4" y="507" font-size="14.8" text-anchor="middle">0.4</text>
<text x="210.4" y="507" font-size="14.8" text-anchor="middle">0.6</text>
<text x="260.5" y="507" font-size="14.8" text-anchor="middle">0.8</text>
<text x="310.5" y="507" font-size="14.8" text-anchor="middle">1.0</text>
<text x="55.5" y="495.1" font-size="14.8" text-anchor="end">0</text>
<text x="55.5" y="464.1" font-size="14.8" text-anchor="end">20</text>
<text x="55.5" y="433.1" font-size="14.8" text-anchor="end">40</text>
<text x="55.5" y="402.1" font-size="14.8" text-anchor="end">60</text>
<text x="55.5" y="371.1" font-size="14.8" text-anchor="end">80</text>
<text x="55.5" y="340.1" font-size="14.8" text-anchor="end">100</text>
<text x="55.5" y="309.1" font-size="14.8" text-anchor="end">120</text>
<text x="172.4" y="523.5" font-size="17.5" font-style="italic">I<tspan font-size="12" dy="4">b</tspan><tspan dy="-4">/I</tspan><tspan font-size="12" dy="4">0</tspan></text>
<text x="24.4" y="412.3" font-size="17.5" textLength="46.8" lengthAdjust="spacingAndGlyphs" transform="rotate(-90 24.4 412.3)">Count</text>
<text x="128.1" y="312.8" font-size="15.6" fill="#ff00ff" textLength="66.6" lengthAdjust="spacingAndGlyphs">intra-pore</text>
<text x="124" y="332.3" font-size="15.6" fill="#ff00ff" textLength="74.5" lengthAdjust="spacingAndGlyphs">-structured</text>
<line x1="99.3" y1="349.5" x2="114.4" y2="334.7" stroke="#ff00ff" stroke-width="2.0"/>
<path d="M122.6 326.6L116.7 338.4L115 334L110.7 332.3Z" fill="#ff00ff"/>
<text x="294" y="321.5" font-size="16.4" text-anchor="end" textLength="47.6" lengthAdjust="spacingAndGlyphs">90 mV</text>
<text x="294" y="342" font-size="16.4" text-anchor="end" textLength="64.3" lengthAdjust="spacingAndGlyphs">n = 1997</text>
<g fill="#00dc00" font-family="Liberation Serif" font-size="17"><text x="114.3" y="361.4">⟨</text><text x="119.6" y="361.4" font-style="italic">I</text><text x="126" y="364.6" font-size="12.5" font-style="italic">b</text><text x="133.4" y="362.4" font-size="19">/</text><text x="141.2" y="361.4" font-style="italic">I</text><text x="148.3" y="364.6" font-size="12.5">0</text><text x="155.2" y="361.4">⟩</text></g>
<text x="163" y="364.1" font-size="11.8" fill="#00dc00" textLength="28.1" lengthAdjust="spacingAndGlyphs">single</text>
<text x="143.7" y="385.8" font-size="15.3" fill="#00dc00" textLength="39.3" lengthAdjust="spacingAndGlyphs">2STD</text>
<text x="185.5" y="386.6" font-size="11.8" fill="#00dc00" textLength="28.1" lengthAdjust="spacingAndGlyphs">single</text>
<line x1="137" y1="392.8" x2="182.2" y2="392.8" stroke="#00dc00" stroke-width="1.4"/>
<path d="M188.2 392.8L181.2 395.8L182.2 392.8L181.2 389.8Z" fill="#00dc00"/>
<line x1="188.2" y1="392.8" x2="143.6" y2="392.8" stroke="#00dc00" stroke-width="1.4"/>
<path d="M137.6 392.8L144.6 389.8L143.5 392.8L144.6 395.8Z" fill="#00dc00"/>
<text x="193.2" y="417.9" font-size="15.6" fill="#00dc00" textLength="66.1" lengthAdjust="spacingAndGlyphs">single-file</text>
<line x1="162.9" y1="442.6" x2="183.3" y2="427" stroke="#00dc00" stroke-width="2.0"/>
<path d="M192.4 420L185.1 431L184 426.5L179.9 424.2Z" fill="#00dc00"/>
<text x="196.4" y="448.3" font-size="16" textLength="90.5" lengthAdjust="spacingAndGlyphs">unsuccessful</text>
<path d="M196.9 453.1H288.2V490.5M196.9 453.1V490.5" fill="none" stroke="#222" stroke-width="1.5" stroke-dasharray="6.5 6.26"/>
<text x="322.6" y="295.2" font-size="19.5">d</text>
<polygon points="388.2,487.4 388.2,307.5 388.8,323.8 389.4,342.1 390.1,356.7 390.7,369.8 391.3,380.7 391.9,390.6 392.6,399.6 393.2,408.4 393.8,416.7 394.4,424.2 395,430.8 395.7,436.9 396.3,442.3 396.9,447.1 397.5,451.5 398.1,455.3 398.8,458.8 399.4,461.5 400,463.9 400.6,466.1 401.3,468 401.9,469.8 402.5,471.4 403.1,472.9 403.7,474 404.4,474.9 405,475.8 405.6,476.6 406.2,477.3 406.8,478 407.5,478.6 408.1,479.2 408.7,479.8 409.3,480.3 410,480.8 410.6,481.2 411.2,481.6 411.8,482 412.4,482.3 413.1,482.6 413.7,482.9 414.3,483.2 414.9,483.4 415.5,483.6 416.2,483.9 416.8,484.1 417.4,484.3 418,484.5 418.7,484.6 419.3,484.8 419.9,484.9 420.5,485.1 421.1,485.2 421.8,485.3 422.4,485.4 423,485.5 423.6,485.6 424.2,485.7 424.9,485.8 425.5,485.9 426.1,486 426.7,486.1 427.4,486.2 428,486.2 428.6,486.3 429.2,486.4 429.8,486.4 430.5,486.5 431.1,486.5 431.7,486.6 431.7,487.4" fill="#8fe88f"/>
<g fill="#8fe88f"><rect x="405.3" y="471.7" width="1.3" height="15.7"/><rect x="406.5" y="471" width="1.3" height="16.4"/><rect x="407.8" y="474.6" width="1.3" height="12.8"/><rect x="416.2" y="478.8" width="1.3" height="8.6"/><rect x="417.4" y="479.6" width="1.3" height="7.8"/><rect x="419.3" y="483.8" width="1.3" height="3.6"/><rect x="421.8" y="484.3" width="1.3" height="3.1"/><rect x="425.5" y="484.5" width="1.3" height="2.9"/><rect x="429.2" y="485.3" width="1.3" height="2.1"/><rect x="431.7" y="485.1" width="1.3" height="2.3"/><rect x="435.4" y="485.7" width="1.3" height="1.7"/></g>
<path d="M390 487.4V372.5H410.5V487.4M414.9 487.4V341.6H435.4V487.4M439.8 487.4V346.9H460.3V487.4M464.7 487.4V392.5H485.2V487.4M489.6 487.4V416.1H510.1V487.4M514.5 487.4V444.2H535V487.4M539.4 487.4V464.2H559.9V487.4M564.3 487.4V468H584.8V487.4M589.2 487.4V471.8H609.7V487.4M614.1 487.4V480.9H634.6V487.4" fill="none" stroke="#ff00ff" stroke-width="1.3"/>
<polyline points="388.4,304.2 388.7,314.7 389,324.7 389.3,334 389.6,342.3 389.9,349.8 390.3,356.8 390.6,363.6 390.9,369.7 391.2,375.3 391.5,380.6 391.8,385.7 392.1,390.5 392.4,395.1 392.7,399.5 393,404.2 393.4,408.7 393.7,412.9 394,416.9 394.3,420.7 394.6,424.3 394.9,427.8 395.2,431 395.5,434.1 395.8,437 396.2,439.8 396.5,442.5 396.8,444.9 397.1,447.3 397.4,449.5 397.7,451.6 398,453.6 398.3,455.4 398.6,457.2 399,458.9 399.3,460.2 399.6,461.5 399.9,462.7 400.2,463.9 400.5,465 400.8,466 402.1,469.8 403.3,472.9 404.5,474.8 405.8,476.5 407,477.9 408.3,479.2 409.5,480.2 410.8,481.2 412,481.9 413.2,482.5 414.5,483.1 415.7,483.6 417,484 418.2,484.4 419.5,484.8 420.7,485 421.9,485.3 423.2,485.5 424.4,485.7 425.7,485.9 426.9,486.1 428.2,486.2 429.4,486.3 430.6,486.4 431.9,486.5 433.1,486.6 434.4,486.7 435.6,486.8 436.9,486.9 438.1,486.9 439.3,487 440.6,487 441.8,487 443.1,487.1 444.3,487.1 445.6,487.1 446.8,487.2 448.1,487.2 449.3,487.2" fill="none" stroke="#00dc00" stroke-width="2.0"/>
<polyline points="400,379.5 401.6,366.1 403.1,354.8 404.7,345.3 406.2,337.6 407.8,331.4 409.3,326.5 410.9,322.8 412.4,320.1 414,318.3 415.5,317.3 417.1,316.9 418.7,317.1 420.2,317.8 421.8,318.8 423.3,320.2 424.9,321.9 426.4,323.8 428,325.9 429.5,328.2 431.1,330.6 432.6,333.1 434.2,335.7 435.7,338.3 437.3,341 438.9,343.7 440.4,346.5 442,349.2 443.5,352 445.1,354.7 446.6,357.4 448.2,360.1 449.7,362.7 451.3,365.3 452.8,367.9 454.4,370.5 455.9,373 457.5,375.4 459.1,377.8 460.6,380.2 462.2,382.5 463.7,384.8 465.3,387 466.8,389.2 468.4,391.3 469.9,393.4 471.5,395.5 473,397.5 474.6,399.4 476.1,401.3 477.7,403.2 479.2,405 480.8,406.8 482.4,408.5 483.9,410.2 485.5,411.8 487,413.5 488.6,415 490.1,416.6 491.7,418.1 493.2,419.5 494.8,420.9 496.3,422.3 497.9,423.7 499.4,425 501,426.3 502.6,427.6 504.1,428.8 505.7,430 507.2,431.2 508.8,432.3 510.3,433.4 511.9,434.5 513.4,435.6 515,436.6 516.5,437.6 518.1,438.6 519.6,439.6 521.2,440.5 522.8,441.4 524.3,442.3 525.9,443.2 527.4,444.1 529,444.9 530.5,445.7 532.1,446.5 533.6,447.3 535.2,448.1 536.7,448.8 538.3,449.5 539.8,450.3 541.4,451 543,451.6 544.5,452.3 546.1,452.9 547.6,453.6 549.2,454.2 550.7,454.8 552.3,455.4 553.8,456 555.4,456.6 556.9,457.1 558.5,457.6 560,458.2 561.6,458.7 563.2,459.2 564.7,459.7 566.3,460.2 567.8,460.7 569.4,461.1 570.9,461.6 572.5,462 574,462.5 575.6,462.9 577.1,463.3 578.7,463.7 580.2,464.1 581.8,464.5 583.4,464.9 584.9,465.3 586.5,465.7 588,466 589.6,466.4 591.1,466.7 592.7,467.1 594.2,467.4 595.8,467.7 597.3,468 598.9,468.4 600.4,468.7 602,469 603.5,469.3 605.1,469.6 606.7,469.8 608.2,470.1 609.8,470.4 611.3,470.7 612.9,470.9 614.4,471.2 616,471.4 617.5,471.7 619.1,471.9 620.6,472.2 622.2,472.4 623.7,472.6 625.3,472.9 626.9,473.1 628.4,473.3 630,473.5 631.5,473.7 633.1,473.9 634.6,474.1 636.2,474.3" fill="none" stroke="#ff00ff" stroke-width="3"/>
<path d="M388.2 287.7V487.4H636.8V287.7Z" fill="none" stroke="#111" stroke-width="1.25"/>
<path d="M419.3 487.4v-4.2M419.3 287.7v4.2M450.3 487.4v-4.2M450.3 287.7v4.2M481.4 487.4v-4.2M481.4 287.7v4.2M512.5 487.4v-4.2M512.5 287.7v4.2M543.6 487.4v-4.2M543.6 287.7v4.2M574.6 487.4v-4.2M574.6 287.7v4.2M605.7 487.4v-4.2M605.7 287.7v4.2" stroke="#111" stroke-width="1.1" fill="none"/>
<path d="M403.7 487.4v-2.4M403.7 287.7v2.4M434.8 487.4v-2.4M434.8 287.7v2.4M465.9 487.4v-2.4M465.9 287.7v2.4M497 487.4v-2.4M497 287.7v2.4M528 487.4v-2.4M528 287.7v2.4M559.1 487.4v-2.4M559.1 287.7v2.4M590.2 487.4v-2.4M590.2 287.7v2.4M621.3 487.4v-2.4M621.3 287.7v2.4" stroke="#111" stroke-width="1.1" fill="none"/>
<path d="M388.2 458.9h4.2M388.2 430.3h4.2M388.2 401.8h4.2M388.2 373.3h4.2M388.2 344.8h4.2M388.2 316.2h4.2" stroke="#111" stroke-width="1.1" fill="none"/>
<path d="M388.2 473.1h2.4M388.2 444.6h2.4M388.2 416.1h2.4M388.2 387.5h2.4M388.2 359h2.4M388.2 330.5h2.4M388.2 302h2.4" stroke="#111" stroke-width="1.1" fill="none"/>
<path d="M636.8 451.1h-4.2M636.8 414.8h-4.2M636.8 378.5h-4.2M636.8 342.2h-4.2M636.8 305.9h-4.2" stroke="#111" stroke-width="1.1" fill="none"/>
<path d="M636.8 469.2h-2.4M636.8 432.9h-2.4M636.8 396.6h-2.4M636.8 360.3h-2.4M636.8 324h-2.4" stroke="#111" stroke-width="1.1" fill="none"/>
<text x="388.2" y="505.2" font-size="15" text-anchor="middle">0</text>
<text x="419.3" y="505.2" font-size="15" text-anchor="middle">5</text>
<text x="450.3" y="505.2" font-size="15" text-anchor="middle">10</text>
<text x="481.4" y="505.2" font-size="15" text-anchor="middle">15</text>
<text x="512.5" y="505.2" font-size="15" text-anchor="middle">20</text>
<text x="543.6" y="505.2" font-size="15" text-anchor="middle">25</text>
<text x="574.6" y="505.2" font-size="15" text-anchor="middle">30</text>
<text x="605.7" y="505.2" font-size="15" text-anchor="middle">35</text>
<text x="636.8" y="505.2" font-size="15" text-anchor="middle">40</text>
<text x="383.2" y="491.7" font-size="15" fill="#00dc00" text-anchor="end">0</text>
<text x="383.2" y="463.2" font-size="15" fill="#00dc00" text-anchor="end">20</text>
<text x="383.2" y="434.6" font-size="15" fill="#00dc00" text-anchor="end">40</text>
<text x="383.2" y="406.1" font-size="15" fill="#00dc00" text-anchor="end">60</text>
<text x="383.2" y="377.6" font-size="15" fill="#00dc00" text-anchor="end">80</text>
<text x="383.2" y="349.1" font-size="15" fill="#00dc00" text-anchor="end">100</text>
<text x="383.2" y="320.5" font-size="15" fill="#00dc00" text-anchor="end">120</text>
<text x="383.2" y="292" font-size="15" fill="#00dc00" text-anchor="end">140</text>
<text x="642.3" y="491.8" font-size="15" fill="#ff00ff">0</text>
<text x="642.3" y="455.5" font-size="15" fill="#ff00ff">20</text>
<text x="642.3" y="419.2" font-size="15" fill="#ff00ff">40</text>
<text x="642.3" y="382.9" font-size="15" fill="#ff00ff">60</text>
<text x="642.3" y="346.6" font-size="15" fill="#ff00ff">80</text>
<text x="642.3" y="310.3" font-size="15" fill="#ff00ff">100</text>
<text x="494.3" y="524.3" font-size="17" textLength="46.5" lengthAdjust="spacingAndGlyphs"><tspan font-family="Liberation Serif" font-style="italic">τ</tspan> (ms)</text>
<text x="350.4" y="410.5" font-size="18" fill="#00dc00" textLength="46.7" lengthAdjust="spacingAndGlyphs" transform="rotate(-90 350.4 410.5)">Count</text>
<text x="669.8" y="364.2" font-size="18" fill="#ff00ff" textLength="46.8" lengthAdjust="spacingAndGlyphs" transform="rotate(90 669.8 364.2)">Count</text>
<line x1="389.6" y1="320.8" x2="420.9" y2="310.3" stroke="#00dc00" stroke-width="2.0"/>
<path d="M431.8 306.6L421.3 314.7L421.7 310L418.6 306.5Z" fill="#00dc00"/>
<text x="435.5" y="310.3" font-size="16.5" fill="#00dc00" textLength="69.5" lengthAdjust="spacingAndGlyphs">single-file</text>
<text x="536.8" y="313.3" font-size="16" textLength="48.6" lengthAdjust="spacingAndGlyphs">90 mV</text>
<text x="536.8" y="334.5" font-size="16" fill="#00dc00">n<tspan font-size="12" dy="3">single</tspan><tspan dy="-3"> = 635</tspan></text>
<text x="536.8" y="358.6" font-size="16" fill="#ff00ff">n<tspan font-size="12" dy="3">ips</tspan><tspan dy="-3"> = 401</tspan></text>
<text x="626.8" y="383.6" font-size="16.5" fill="#ff00ff" text-anchor="end" textLength="149.8" lengthAdjust="spacingAndGlyphs">intra-pore-structured</text>
<line x1="512.2" y1="433.2" x2="523" y2="400.2" stroke="#ff00ff" stroke-width="2.0"/>
<path d="M526.6 389.3L526.8 402.5L523.3 399.4L518.6 399.8Z" fill="#ff00ff"/>
<text x="-0.6" y="560.4" font-size="18.5">e</text>
<rect x="54.6" y="555.2" width="268.7" height="215.9" fill="none" stroke="#111" stroke-width="1.25"/>
<path d="M70.4 771.1v-4.2M70.4 555.2v4.2M102 771.1v-4.2M102 555.2v4.2M133.6 771.1v-4.2M133.6 555.2v4.2M165.2 771.1v-4.2M165.2 555.2v4.2M196.9 771.1v-4.2M196.9 555.2v4.2M228.5 771.1v-4.2M228.5 555.2v4.2M260.1 771.1v-4.2M260.1 555.2v4.2M291.7 771.1v-4.2M291.7 555.2v4.2" stroke="#111" stroke-width="1.1" fill="none"/>
<path d="M86.2 771.1v-2.4M86.2 555.2v2.4M117.8 771.1v-2.4M117.8 555.2v2.4M149.4 771.1v-2.4M149.4 555.2v2.4M181 771.1v-2.4M181 555.2v2.4M212.7 771.1v-2.4M212.7 555.2v2.4M244.3 771.1v-2.4M244.3 555.2v2.4M275.9 771.1v-2.4M275.9 555.2v2.4M307.5 771.1v-2.4M307.5 555.2v2.4" stroke="#111" stroke-width="1.1" fill="none"/>
<path d="M54.6 756.4h4.2M323.3 756.4h-4.2M54.6 727.6h4.2M323.3 727.6h-4.2M54.6 698.8h4.2M323.3 698.8h-4.2M54.6 670h4.2M323.3 670h-4.2M54.6 641.2h4.2M323.3 641.2h-4.2M54.6 612.4h4.2M323.3 612.4h-4.2M54.6 583.6h4.2M323.3 583.6h-4.2" stroke="#111" stroke-width="1.1" fill="none"/>
<path d="M54.6 770.8h2.4M323.3 770.8h-2.4M54.6 742h2.4M323.3 742h-2.4M54.6 713.2h2.4M323.3 713.2h-2.4M54.6 684.4h2.4M323.3 684.4h-2.4M54.6 655.6h2.4M323.3 655.6h-2.4M54.6 626.8h2.4M323.3 626.8h-2.4M54.6 598h2.4M323.3 598h-2.4M54.6 569.2h2.4M323.3 569.2h-2.4" stroke="#111" stroke-width="1.1" fill="none"/>
<text x="70.4" y="787.4" font-size="14" text-anchor="middle">60</text>
<text x="102" y="787.4" font-size="14" text-anchor="middle">80</text>
<text x="133.6" y="787.4" font-size="14" text-anchor="middle">100</text>
<text x="165.2" y="787.4" font-size="14" text-anchor="middle">120</text>
<text x="196.9" y="787.4" font-size="14" text-anchor="middle">140</text>
<text x="228.5" y="787.4" font-size="14" text-anchor="middle">160</text>
<text x="260.1" y="787.4" font-size="14" text-anchor="middle">180</text>
<text x="291.7" y="787.4" font-size="14" text-anchor="middle">200</text>
<text x="323.3" y="787.4" font-size="14" text-anchor="middle">220</text>
<text x="50.2" y="761.4" font-size="14" text-anchor="end">0</text>
<text x="50.2" y="732.6" font-size="14" text-anchor="end">5</text>
<text x="50.2" y="703.8" font-size="14" text-anchor="end">10</text>
<text x="50.2" y="675" font-size="14" text-anchor="end">15</text>
<text x="50.2" y="646.2" font-size="14" text-anchor="end">20</text>
<text x="50.2" y="617.4" font-size="14" text-anchor="end">25</text>
<text x="50.2" y="588.6" font-size="14" text-anchor="end">30</text>
<text x="50.2" y="559.8" font-size="14" text-anchor="end">35</text>
<text x="136.4" y="812.1" font-size="16.5" textLength="104.8" lengthAdjust="spacingAndGlyphs">Voltage (mV)</text>
<text transform="translate(27.9 698.1) rotate(-90)" font-size="18" textLength="70.6" lengthAdjust="spacingAndGlyphs">&lt;<tspan font-family="Liberation Serif" font-style="italic">τ</tspan>&gt; (ms)</text>
<polyline points="86.2,570.9 87.2,574.1 88.3,577.3 89.3,580.4 90.3,583.4 91.3,586.4 92.4,589.3 93.4,592.1 94.4,594.9 95.5,597.6 96.5,600.3 97.5,602.9 98.5,605.5 99.6,608 100.6,610.5 101.6,612.9 102.6,615.2 103.7,617.6 104.7,619.8 105.7,622 106.8,624.2 107.8,626.3 108.8,628.4 109.8,630.5 110.9,632.4 111.9,634.4 112.9,636.3 114,638.2 115,640 116,641.8 117,643.6 118.1,645.3 119.1,647 120.1,648.6 121.1,650.3 122.2,651.8 123.2,653.4 124.2,654.9 125.3,656.4 126.3,657.9 127.3,659.3 128.3,660.7 129.4,662 130.4,663.4 131.4,664.7 132.4,666 133.5,667.2 134.5,668.5 135.5,669.7 136.6,670.9 137.6,672 138.6,673.1 139.6,674.3 140.7,675.3 141.7,676.4 142.7,677.4 143.7,678.5 144.8,679.5 145.8,680.4 146.8,681.4 147.9,682.3 148.9,683.3 149.9,684.2 150.9,685 152,685.9 153,686.7 154,687.6 155,688.4 156.1,689.2 157.1,689.9 158.1,690.7 159.2,691.5 160.2,692.2 161.2,692.9 162.2,693.6 163.3,694.3 164.3,694.9 165.3,695.6 166.3,696.2 167.4,696.9 168.4,697.5 169.4,698.1 170.5,698.7 171.5,699.3 172.5,699.8 173.5,700.4 174.6,700.9 175.6,701.5 176.6,702 177.6,702.5 178.7,703 179.7,703.5 180.7,704 181.8,704.4 182.8,704.9 183.8,705.3 184.8,705.8 185.9,706.2 186.9,706.6 187.9,707.1 188.9,707.5 190,707.9 191,708.2 192,708.6 193.1,709 194.1,709.4 195.1,709.7 196.1,710.1 197.2,710.4 198.2,710.7 199.2,711.1 200.3,711.4 201.3,711.7 202.3,712 203.3,712.3 204.4,712.6 205.4,712.9 206.4,713.2 207.4,713.5 208.5,713.7 209.5,714 210.5,714.3 211.6,714.5 212.6,714.8 213.6,715 214.6,715.3 215.7,715.5 216.7,715.7 217.7,715.9 218.7,716.2 219.8,716.4 220.8,716.6 221.8,716.8 222.9,717 223.9,717.2 224.9,717.4 225.9,717.6 227,717.8 228,718 229,718.1 230,718.3 231.1,718.5 232.1,718.7 233.1,718.8 234.2,719 235.2,719.1 236.2,719.3 237.2,719.4 238.3,719.6 239.3,719.7 240.3,719.9 241.3,720 242.4,720.2 243.4,720.3 244.4,720.4 245.5,720.5 246.5,720.7 247.5,720.8 248.5,720.9 249.6,721 250.6,721.1 251.6,721.3 252.6,721.4 253.7,721.5 254.7,721.6 255.7,721.7 256.8,721.8 257.8,721.9 258.8,722 259.8,722.1 260.9,722.2 261.9,722.3 262.9,722.4 263.9,722.4 265,722.5 266,722.6 267,722.7 268.1,722.8 269.1,722.9 270.1,722.9 271.1,723 272.2,723.1 273.2,723.2 274.2,723.2 275.3,723.3 276.3,723.4 277.3,723.4 278.3,723.5 279.4,723.6 280.4,723.6 281.4,723.7 282.4,723.7 283.5,723.8 284.5,723.9 285.5,723.9 286.6,724 287.6,724 288.6,724.1 289.6,724.1 290.7,724.2 291.7,724.2" fill="none" stroke="#ff00ff" stroke-width="1.4"/>
<polyline points="86.2,746.1 87.2,746.2 88.3,746.4 89.3,746.5 90.3,746.7 91.3,746.8 92.4,746.9 93.4,747 94.4,747.2 95.5,747.3 96.5,747.4 97.5,747.5 98.5,747.7 99.6,747.8 100.6,747.9 101.6,748 102.6,748.1 103.7,748.2 104.7,748.3 105.7,748.4 106.8,748.5 107.8,748.6 108.8,748.7 109.8,748.8 110.9,748.9 111.9,749 112.9,749.1 114,749.2 115,749.3 116,749.4 117,749.5 118.1,749.6 119.1,749.7 120.1,749.8 121.1,749.8 122.2,749.9 123.2,750 124.2,750.1 125.3,750.2 126.3,750.3 127.3,750.3 128.3,750.4 129.4,750.5 130.4,750.6 131.4,750.6 132.4,750.7 133.5,750.8 134.5,750.8 135.5,750.9 136.6,751 137.6,751 138.6,751.1 139.6,751.2 140.7,751.2 141.7,751.3 142.7,751.3 143.7,751.4 144.8,751.5 145.8,751.5 146.8,751.6 147.9,751.6 148.9,751.7 149.9,751.8 150.9,751.8 152,751.9 153,751.9 154,752 155,752 156.1,752.1 157.1,752.1 158.1,752.2 159.2,752.2 160.2,752.3 161.2,752.3 162.2,752.3 163.3,752.4 164.3,752.4 165.3,752.5 166.3,752.5 167.4,752.6 168.4,752.6 169.4,752.6 170.5,752.7 171.5,752.7 172.5,752.8 173.5,752.8 174.6,752.8 175.6,752.9 176.6,752.9 177.6,752.9 178.7,753 179.7,753 180.7,753.1 181.8,753.1 182.8,753.1 183.8,753.2 184.8,753.2 185.9,753.2 186.9,753.2 187.9,753.3 188.9,753.3 190,753.3 191,753.4 192,753.4 193.1,753.4 194.1,753.5 195.1,753.5 196.1,753.5 197.2,753.5 198.2,753.6 199.2,753.6 200.3,753.6 201.3,753.6 202.3,753.7 203.3,753.7 204.4,753.7 205.4,753.7 206.4,753.8 207.4,753.8 208.5,753.8 209.5,753.8 210.5,753.8 211.6,753.9 212.6,753.9 213.6,753.9 214.6,753.9 215.7,754 216.7,754 217.7,754 218.7,754 219.8,754 220.8,754.1 221.8,754.1 222.9,754.1 223.9,754.1 224.9,754.1 225.9,754.1 227,754.2 228,754.2 229,754.2 230,754.2 231.1,754.2 232.1,754.2 233.1,754.3 234.2,754.3 235.2,754.3 236.2,754.3 237.2,754.3 238.3,754.3 239.3,754.3 240.3,754.4 241.3,754.4 242.4,754.4 243.4,754.4 244.4,754.4 245.5,754.4 246.5,754.4 247.5,754.5 248.5,754.5 249.6,754.5 250.6,754.5 251.6,754.5 252.6,754.5 253.7,754.5 254.7,754.5 255.7,754.5 256.8,754.6 257.8,754.6 258.8,754.6 259.8,754.6 260.9,754.6 261.9,754.6 262.9,754.6 263.9,754.6 265,754.6 266,754.6 267,754.7 268.1,754.7 269.1,754.7 270.1,754.7 271.1,754.7 272.2,754.7 273.2,754.7 274.2,754.7 275.3,754.7 276.3,754.7 277.3,754.7 278.3,754.7 279.4,754.8 280.4,754.8 281.4,754.8 282.4,754.8 283.5,754.8 284.5,754.8 285.5,754.8 286.6,754.8 287.6,754.8 288.6,754.8 289.6,754.8 290.7,754.8 291.7,754.8" fill="none" stroke="#00dc00" stroke-width="1.4"/>
<circle cx="86.2" cy="570.5" r="3.8" fill="#ff00ff"/>
<circle cx="117.8" cy="652.9" r="3.8" fill="#ff00ff"/>
<circle cx="165.2" cy="687.2" r="3.8" fill="#ff00ff"/>
<circle cx="212.7" cy="713.2" r="3.8" fill="#ff00ff"/>
<circle cx="252.2" cy="719.8" r="3.8" fill="#ff00ff"/>
<circle cx="291.7" cy="731.2" r="3.8" fill="#ff00ff"/>
<rect x="83" y="742.9" width="6.4" height="6.4" fill="#00dc00"/>
<rect x="114.6" y="745.8" width="6.4" height="6.4" fill="#00dc00"/>
<rect x="162" y="748.6" width="6.4" height="6.4" fill="#00dc00"/>
<rect x="209.5" y="750.9" width="6.4" height="6.4" fill="#00dc00"/>
<rect x="249" y="751.5" width="6.4" height="6.4" fill="#00dc00"/>
<rect x="288.5" y="751.8" width="6.4" height="6.4" fill="#00dc00"/>
<rect x="209.6" y="569.3" width="99.9" height="46.5" fill="#fff" stroke="#222" stroke-width="1.2"/>
<rect x="224.5" y="578.1" width="6.4" height="6.4" fill="#00dc00"/>
<circle cx="227.7" cy="603.3" r="3.8" fill="#ff00ff"/>
<text x="247.3" y="585.3" font-size="15">&lt;<tspan font-style="italic">τ</tspan><tspan font-size="9.6" font-style="italic" dy="3.6">single</tspan><tspan dy="-3.6">&gt;</tspan></text>
<text x="247.3" y="607.3" font-size="15">&lt;<tspan font-style="italic">τ</tspan><tspan font-size="9.6" font-style="italic" dy="3.6">ips</tspan><tspan dy="-3.6">&gt;</tspan></text>
<text x="343" y="565.3" font-size="19.5">f</text>
<rect x="401.3" y="552.4" width="271.7" height="218.3" fill="none" stroke="#111" stroke-width="1.25"/>
<path d="M417.3 770.7v-4.2M417.3 552.4v4.2M449.2 770.7v-4.2M449.2 552.4v4.2M481.2 770.7v-4.2M481.2 552.4v4.2M513.2 770.7v-4.2M513.2 552.4v4.2M545.1 770.7v-4.2M545.1 552.4v4.2M577.1 770.7v-4.2M577.1 552.4v4.2M609.1 770.7v-4.2M609.1 552.4v4.2M641 770.7v-4.2M641 552.4v4.2" stroke="#111" stroke-width="1.1" fill="none"/>
<path d="M433.3 770.7v-2.4M433.3 552.4v2.4M465.2 770.7v-2.4M465.2 552.4v2.4M497.2 770.7v-2.4M497.2 552.4v2.4M529.2 770.7v-2.4M529.2 552.4v2.4M561.1 770.7v-2.4M561.1 552.4v2.4M593.1 770.7v-2.4M593.1 552.4v2.4M625.1 770.7v-2.4M625.1 552.4v2.4M657 770.7v-2.4M657 552.4v2.4" stroke="#111" stroke-width="1.1" fill="none"/>
<path d="M401.3 722.4h4.2M673 722.4h-4.2M401.3 674h4.2M673 674h-4.2M401.3 625.7h4.2M673 625.7h-4.2M401.3 577.3h4.2M673 577.3h-4.2" stroke="#111" stroke-width="1.1" fill="none"/>
<path d="M401.3 746.5h2.4M673 746.5h-2.4M401.3 698.2h2.4M673 698.2h-2.4M401.3 649.8h2.4M673 649.8h-2.4M401.3 601.5h2.4M673 601.5h-2.4M401.3 553.1h2.4M673 553.1h-2.4" stroke="#111" stroke-width="1.1" fill="none"/>
<text x="417.3" y="787.4" font-size="14" text-anchor="middle">60</text>
<text x="449.2" y="787.4" font-size="14" text-anchor="middle">80</text>
<text x="481.2" y="787.4" font-size="14" text-anchor="middle">100</text>
<text x="513.2" y="787.4" font-size="14" text-anchor="middle">120</text>
<text x="545.1" y="787.4" font-size="14" text-anchor="middle">140</text>
<text x="577.1" y="787.4" font-size="14" text-anchor="middle">160</text>
<text x="609.1" y="787.4" font-size="14" text-anchor="middle">180</text>
<text x="641" y="787.4" font-size="14" text-anchor="middle">200</text>
<text x="673" y="787.4" font-size="14" text-anchor="middle">220</text>
<text x="396.8" y="775.7" font-size="14" text-anchor="end">0.0</text>
<text x="396.8" y="727.4" font-size="14" text-anchor="end">0.5</text>
<text x="396.8" y="679" font-size="14" text-anchor="end">1.0</text>
<text x="396.8" y="630.7" font-size="14" text-anchor="end">1.5</text>
<text x="396.8" y="582.3" font-size="14" text-anchor="end">2.0</text>
<text x="486" y="812.1" font-size="16.5" textLength="105.2" lengthAdjust="spacingAndGlyphs">Voltage (mV)</text>
<text transform="translate(366.9 718.4) rotate(-90)" font-size="18" textLength="104.9" lengthAdjust="spacingAndGlyphs">&lt;<tspan font-style="italic">τ</tspan><tspan font-size="12.5" font-style="italic" dy="4">single</tspan><tspan dy="-4">&gt; (ms)</tspan></text>
<polyline points="433.3,590.9 434.3,592.9 435.3,594.9 436.4,596.9 437.4,598.9 438.5,600.8 439.5,602.8 440.5,604.7 441.6,606.5 442.6,608.4 443.7,610.2 444.7,612 445.7,613.8 446.8,615.6 447.8,617.3 448.8,619.1 449.9,620.8 450.9,622.5 452,624.1 453,625.8 454,627.4 455.1,629 456.1,630.6 457.2,632.2 458.2,633.7 459.2,635.2 460.3,636.8 461.3,638.3 462.4,639.7 463.4,641.2 464.4,642.6 465.5,644.1 466.5,645.5 467.5,646.9 468.6,648.2 469.6,649.6 470.7,651 471.7,652.3 472.7,653.6 473.8,654.9 474.8,656.2 475.9,657.4 476.9,658.7 477.9,659.9 479,661.2 480,662.4 481.1,663.6 482.1,664.7 483.1,665.9 484.2,667.1 485.2,668.2 486.2,669.3 487.3,670.4 488.3,671.5 489.4,672.6 490.4,673.7 491.4,674.7 492.5,675.8 493.5,676.8 494.6,677.8 495.6,678.9 496.6,679.9 497.7,680.8 498.7,681.8 499.8,682.8 500.8,683.7 501.8,684.7 502.9,685.6 503.9,686.5 504.9,687.4 506,688.3 507,689.2 508.1,690.1 509.1,691 510.1,691.8 511.2,692.7 512.2,693.5 513.3,694.3 514.3,695.1 515.3,695.9 516.4,696.7 517.4,697.5 518.5,698.3 519.5,699.1 520.5,699.8 521.6,700.6 522.6,701.3 523.6,702 524.7,702.8 525.7,703.5 526.8,704.2 527.8,704.9 528.8,705.6 529.9,706.3 530.9,706.9 532,707.6 533,708.3 534,708.9 535.1,709.6 536.1,710.2 537.1,710.8 538.2,711.4 539.2,712 540.3,712.7 541.3,713.3 542.3,713.8 543.4,714.4 544.4,715 545.5,715.6 546.5,716.1 547.5,716.7 548.6,717.2 549.6,717.8 550.7,718.3 551.7,718.9 552.7,719.4 553.8,719.9 554.8,720.4 555.8,720.9 556.9,721.4 557.9,721.9 559,722.4 560,722.9 561,723.4 562.1,723.8 563.1,724.3 564.2,724.8 565.2,725.2 566.2,725.7 567.3,726.1 568.3,726.6 569.4,727 570.4,727.4 571.4,727.8 572.5,728.3 573.5,728.7 574.5,729.1 575.6,729.5 576.6,729.9 577.7,730.3 578.7,730.7 579.7,731.1 580.8,731.4 581.8,731.8 582.9,732.2 583.9,732.5 584.9,732.9 586,733.3 587,733.6 588.1,734 589.1,734.3 590.1,734.7 591.2,735 592.2,735.3 593.2,735.7 594.3,736 595.3,736.3 596.4,736.6 597.4,736.9 598.4,737.3 599.5,737.6 600.5,737.9 601.6,738.2 602.6,738.5 603.6,738.8 604.7,739 605.7,739.3 606.8,739.6 607.8,739.9 608.8,740.2 609.9,740.4 610.9,740.7 611.9,741 613,741.2 614,741.5 615.1,741.8 616.1,742 617.1,742.3 618.2,742.5 619.2,742.8 620.3,743 621.3,743.2 622.3,743.5 623.4,743.7 624.4,743.9 625.5,744.2 626.5,744.4 627.5,744.6 628.6,744.8 629.6,745 630.6,745.3 631.7,745.5 632.7,745.7 633.8,745.9 634.8,746.1 635.8,746.3 636.9,746.5 637.9,746.7 639,746.9 640,747.1 641,747.3" fill="none" stroke="#00dc00" stroke-width="1.4"/>
<rect x="429.9" y="587.4" width="6.8" height="6.8" fill="#00dc00"/>
<rect x="461.8" y="640.6" width="6.8" height="6.8" fill="#00dc00"/>
<rect x="509.8" y="688" width="6.8" height="6.8" fill="#00dc00"/>
<rect x="557.7" y="728.6" width="6.8" height="6.8" fill="#00dc00"/>
<rect x="597.7" y="735.4" width="6.8" height="6.8" fill="#00dc00"/>
<rect x="637.6" y="741.8" width="6.8" height="6.8" fill="#00dc00"/>
</svg></body></html>
